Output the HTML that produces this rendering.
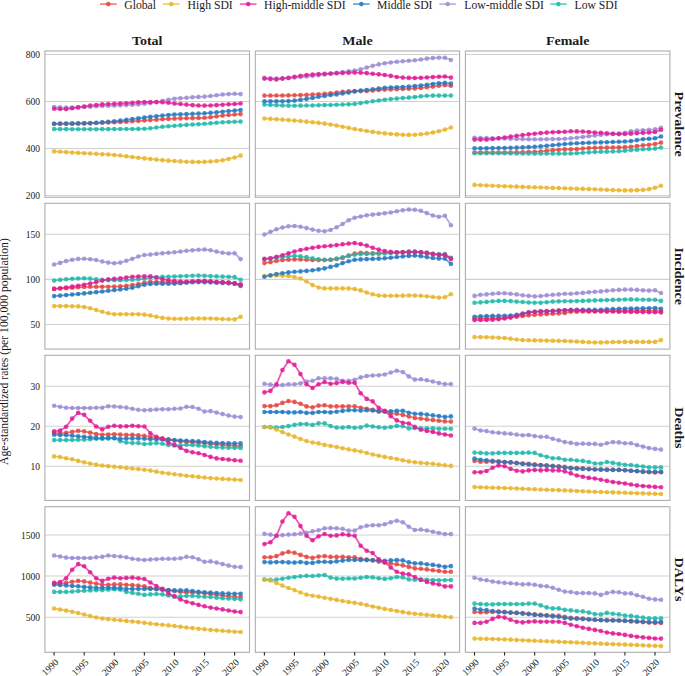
<!DOCTYPE html>
<html><head><meta charset="utf-8"><style>
html,body{margin:0;padding:0;background:#fff;}
body{width:685px;height:676px;overflow:hidden;}
svg{display:block;}
</style></head><body>
<svg width="685" height="676" viewBox="0 0 685 676" font-family='"Liberation Serif", serif'>
<rect width="685" height="676" fill="#fff"/>
<line x1="100.00" y1="4.1" x2="116.60" y2="4.1" stroke="#E8453F" stroke-width="1.6" stroke-opacity="0.72"/>
<circle cx="108.3" cy="4.1" r="2.3" fill="#E8453F" fill-opacity="0.85"/>
<text x="124.2" y="8.7" font-size="11.7" fill="#1a1a1a">Global</text>
<line x1="163.00" y1="4.1" x2="179.60" y2="4.1" stroke="#E8B52A" stroke-width="1.6" stroke-opacity="0.72"/>
<circle cx="171.3" cy="4.1" r="2.3" fill="#E8B52A" fill-opacity="0.85"/>
<text x="187.6" y="8.7" font-size="11.7" fill="#1a1a1a">High SDI</text>
<line x1="239.90" y1="4.1" x2="256.50" y2="4.1" stroke="#E31A95" stroke-width="1.6" stroke-opacity="0.72"/>
<circle cx="248.2" cy="4.1" r="2.3" fill="#E31A95" fill-opacity="0.85"/>
<text x="264.1" y="8.7" font-size="11.7" fill="#1a1a1a">High-middle SDI</text>
<line x1="353.00" y1="4.1" x2="369.60" y2="4.1" stroke="#2279C2" stroke-width="1.6" stroke-opacity="0.72"/>
<circle cx="361.3" cy="4.1" r="2.3" fill="#2279C2" fill-opacity="0.85"/>
<text x="377.0" y="8.7" font-size="11.7" fill="#1a1a1a">Middle SDI</text>
<line x1="439.40" y1="4.1" x2="456.00" y2="4.1" stroke="#9C8CD3" stroke-width="1.6" stroke-opacity="0.72"/>
<circle cx="447.7" cy="4.1" r="2.3" fill="#9C8CD3" fill-opacity="0.85"/>
<text x="464.3" y="8.7" font-size="11.7" fill="#1a1a1a">Low-middle SDI</text>
<line x1="550.10" y1="4.1" x2="566.70" y2="4.1" stroke="#20B9AB" stroke-width="1.6" stroke-opacity="0.72"/>
<circle cx="558.4" cy="4.1" r="2.3" fill="#20B9AB" fill-opacity="0.85"/>
<text x="574.5" y="8.7" font-size="11.7" fill="#1a1a1a">Low SDI</text>
<text x="0" y="0" transform="translate(147.20 45.3) scale(1.07 1)" font-size="13.1" font-weight="bold" text-anchor="middle" fill="#1a1a1a">Total</text>
<text x="0" y="0" transform="translate(357.45 45.3) scale(1.07 1)" font-size="13.1" font-weight="bold" text-anchor="middle" fill="#1a1a1a">Male</text>
<text x="0" y="0" transform="translate(567.65 45.3) scale(1.07 1)" font-size="13.1" font-weight="bold" text-anchor="middle" fill="#1a1a1a">Female</text>
<text x="0" y="0" transform="translate(675.2 124.12) rotate(90) scale(1.07 1)" font-size="13.1" font-weight="bold" text-anchor="middle" fill="#1a1a1a">Prevalence</text>
<text x="0" y="0" transform="translate(675.2 276.20) rotate(90) scale(1.07 1)" font-size="13.1" font-weight="bold" text-anchor="middle" fill="#1a1a1a">Incidence</text>
<text x="0" y="0" transform="translate(675.2 427.88) rotate(90) scale(1.07 1)" font-size="13.1" font-weight="bold" text-anchor="middle" fill="#1a1a1a">Deaths</text>
<text x="0" y="0" transform="translate(675.2 579.50) rotate(90) scale(1.07 1)" font-size="13.1" font-weight="bold" text-anchor="middle" fill="#1a1a1a">DALYs</text>
<text x="0" y="0" transform="translate(8.3 351.6) rotate(-90)" font-size="11.7" text-anchor="middle" fill="#1a1a1a">Age-standardized rates (per 100,000 population)</text>
<text x="0" y="0" transform="translate(40.1 58.05) scale(0.92 1)" font-size="10.4" text-anchor="end" fill="#1a1a1a">800</text>
<text x="0" y="0" transform="translate(40.1 105.00) scale(0.92 1)" font-size="10.4" text-anchor="end" fill="#1a1a1a">600</text>
<text x="0" y="0" transform="translate(40.1 152.00) scale(0.92 1)" font-size="10.4" text-anchor="end" fill="#1a1a1a">400</text>
<text x="0" y="0" transform="translate(40.1 199.05) scale(0.92 1)" font-size="10.4" text-anchor="end" fill="#1a1a1a">200</text>
<line x1="44.90" y1="54.50" x2="249.50" y2="54.50" stroke="#D0D0D0" stroke-width="1.05"/>
<line x1="44.90" y1="101.45" x2="249.50" y2="101.45" stroke="#D0D0D0" stroke-width="1.05"/>
<line x1="44.90" y1="148.45" x2="249.50" y2="148.45" stroke="#D0D0D0" stroke-width="1.05"/>
<line x1="44.90" y1="195.50" x2="249.50" y2="195.50" stroke="#D0D0D0" stroke-width="1.05"/>
<polyline points="54.10,123.70 60.12,123.66 66.13,123.60 72.15,123.51 78.17,123.41 84.19,123.30 90.20,123.16 96.22,122.99 102.24,122.78 108.25,122.55 114.27,122.30 120.29,122.01 126.30,121.67 132.32,121.29 138.34,120.89 144.36,120.50 150.37,120.10 156.39,119.69 162.41,119.27 168.42,118.89 174.44,118.60 180.46,118.42 186.47,118.29 192.49,118.17 198.51,118.02 204.53,117.80 210.54,117.24 216.56,116.37 222.58,115.60 228.59,115.03 234.61,114.53 240.63,114.10" fill="none" stroke="#E8453F" stroke-width="1.8" stroke-opacity="0.72" stroke-linejoin="round"/>
<polyline points="54.10,107.00 60.12,107.42 66.13,107.60 72.15,107.50 78.17,107.27 84.19,107.00 90.20,106.66 96.22,106.30 102.24,106.05 108.25,105.83 114.27,105.60 120.29,105.36 126.30,105.11 132.32,104.80 138.34,104.36 144.36,103.80 150.37,103.10 156.39,102.00 162.41,100.80 168.42,99.80 174.44,98.70 180.46,98.21 186.47,97.80 192.49,97.20 198.51,96.90 204.53,96.60 210.54,96.00 216.56,95.30 222.58,94.50 228.59,94.10 234.61,93.80 240.63,94.10" fill="none" stroke="#9C8CD3" stroke-width="1.8" stroke-opacity="0.72" stroke-linejoin="round"/>
<polyline points="54.10,129.10 60.12,129.14 66.13,129.16 72.15,129.18 78.17,129.20 84.19,129.20 90.20,129.19 96.22,129.18 102.24,129.16 108.25,129.13 114.27,129.10 120.29,129.07 126.30,129.04 132.32,128.98 138.34,128.91 144.36,128.80 150.37,128.30 156.39,127.55 162.41,126.80 168.42,126.27 174.44,125.80 180.46,125.33 186.47,124.90 192.49,124.53 198.51,124.18 204.53,123.80 210.54,123.29 216.56,122.74 222.58,122.30 228.59,122.00 234.61,121.76 240.63,121.60" fill="none" stroke="#20B9AB" stroke-width="1.8" stroke-opacity="0.72" stroke-linejoin="round"/>
<polyline points="54.10,151.40 60.12,151.76 66.13,152.12 72.15,152.48 78.17,152.84 84.19,153.20 90.20,153.54 96.22,153.87 102.24,154.20 108.25,154.57 114.27,155.00 120.29,155.56 126.30,156.25 132.32,157.00 138.34,157.74 144.36,158.40 150.37,159.01 156.39,159.61 162.41,160.17 168.42,160.66 174.44,161.05 180.46,161.38 186.47,161.69 192.49,161.91 198.51,162.00 204.53,161.87 210.54,161.52 216.56,161.05 222.58,160.22 228.59,159.00 234.61,157.49 240.63,155.60" fill="none" stroke="#E8B52A" stroke-width="1.8" stroke-opacity="0.72" stroke-linejoin="round"/>
<polyline points="54.10,123.80 60.12,123.78 66.13,123.72 72.15,123.64 78.17,123.53 84.19,123.40 90.20,123.18 96.22,122.82 102.24,122.36 108.25,121.84 114.27,121.30 120.29,120.67 126.30,119.92 132.32,119.10 138.34,118.27 144.36,117.50 150.37,116.80 156.39,116.18 162.41,115.60 168.42,114.98 174.44,114.50 180.46,114.28 186.47,114.10 192.49,113.86 198.51,113.60 204.53,113.30 210.54,112.85 216.56,112.30 222.58,111.71 228.59,111.10 234.61,110.54 240.63,110.00" fill="none" stroke="#2279C2" stroke-width="1.8" stroke-opacity="0.72" stroke-linejoin="round"/>
<polyline points="54.10,108.80 60.12,109.06 66.13,109.10 72.15,108.30 78.17,107.40 84.19,106.50 90.20,105.60 96.22,105.00 102.24,104.40 108.25,104.07 114.27,103.80 120.29,103.52 126.30,103.20 132.32,102.75 138.34,102.30 144.36,102.00 150.37,102.00 156.39,102.09 162.41,102.30 168.42,102.82 174.44,103.50 180.46,104.07 186.47,104.60 192.49,105.14 198.51,105.50 204.53,105.60 210.54,105.50 216.56,105.16 222.58,104.70 228.59,104.36 234.61,104.00 240.63,103.50" fill="none" stroke="#E31A95" stroke-width="1.8" stroke-opacity="0.72" stroke-linejoin="round"/>
<g fill="#E8453F" fill-opacity="0.85"><circle cx="54.10" cy="123.70" r="2.3"/><circle cx="60.12" cy="123.66" r="2.3"/><circle cx="66.13" cy="123.60" r="2.3"/><circle cx="72.15" cy="123.51" r="2.3"/><circle cx="78.17" cy="123.41" r="2.3"/><circle cx="84.19" cy="123.30" r="2.3"/><circle cx="90.20" cy="123.16" r="2.3"/><circle cx="96.22" cy="122.99" r="2.3"/><circle cx="102.24" cy="122.78" r="2.3"/><circle cx="108.25" cy="122.55" r="2.3"/><circle cx="114.27" cy="122.30" r="2.3"/><circle cx="120.29" cy="122.01" r="2.3"/><circle cx="126.30" cy="121.67" r="2.3"/><circle cx="132.32" cy="121.29" r="2.3"/><circle cx="138.34" cy="120.89" r="2.3"/><circle cx="144.36" cy="120.50" r="2.3"/><circle cx="150.37" cy="120.10" r="2.3"/><circle cx="156.39" cy="119.69" r="2.3"/><circle cx="162.41" cy="119.27" r="2.3"/><circle cx="168.42" cy="118.89" r="2.3"/><circle cx="174.44" cy="118.60" r="2.3"/><circle cx="180.46" cy="118.42" r="2.3"/><circle cx="186.47" cy="118.29" r="2.3"/><circle cx="192.49" cy="118.17" r="2.3"/><circle cx="198.51" cy="118.02" r="2.3"/><circle cx="204.53" cy="117.80" r="2.3"/><circle cx="210.54" cy="117.24" r="2.3"/><circle cx="216.56" cy="116.37" r="2.3"/><circle cx="222.58" cy="115.60" r="2.3"/><circle cx="228.59" cy="115.03" r="2.3"/><circle cx="234.61" cy="114.53" r="2.3"/><circle cx="240.63" cy="114.10" r="2.3"/></g>
<g fill="#9C8CD3" fill-opacity="0.85"><circle cx="54.10" cy="107.00" r="2.3"/><circle cx="60.12" cy="107.42" r="2.3"/><circle cx="66.13" cy="107.60" r="2.3"/><circle cx="72.15" cy="107.50" r="2.3"/><circle cx="78.17" cy="107.27" r="2.3"/><circle cx="84.19" cy="107.00" r="2.3"/><circle cx="90.20" cy="106.66" r="2.3"/><circle cx="96.22" cy="106.30" r="2.3"/><circle cx="102.24" cy="106.05" r="2.3"/><circle cx="108.25" cy="105.83" r="2.3"/><circle cx="114.27" cy="105.60" r="2.3"/><circle cx="120.29" cy="105.36" r="2.3"/><circle cx="126.30" cy="105.11" r="2.3"/><circle cx="132.32" cy="104.80" r="2.3"/><circle cx="138.34" cy="104.36" r="2.3"/><circle cx="144.36" cy="103.80" r="2.3"/><circle cx="150.37" cy="103.10" r="2.3"/><circle cx="156.39" cy="102.00" r="2.3"/><circle cx="162.41" cy="100.80" r="2.3"/><circle cx="168.42" cy="99.80" r="2.3"/><circle cx="174.44" cy="98.70" r="2.3"/><circle cx="180.46" cy="98.21" r="2.3"/><circle cx="186.47" cy="97.80" r="2.3"/><circle cx="192.49" cy="97.20" r="2.3"/><circle cx="198.51" cy="96.90" r="2.3"/><circle cx="204.53" cy="96.60" r="2.3"/><circle cx="210.54" cy="96.00" r="2.3"/><circle cx="216.56" cy="95.30" r="2.3"/><circle cx="222.58" cy="94.50" r="2.3"/><circle cx="228.59" cy="94.10" r="2.3"/><circle cx="234.61" cy="93.80" r="2.3"/><circle cx="240.63" cy="94.10" r="2.3"/></g>
<g fill="#20B9AB" fill-opacity="0.85"><circle cx="54.10" cy="129.10" r="2.3"/><circle cx="60.12" cy="129.14" r="2.3"/><circle cx="66.13" cy="129.16" r="2.3"/><circle cx="72.15" cy="129.18" r="2.3"/><circle cx="78.17" cy="129.20" r="2.3"/><circle cx="84.19" cy="129.20" r="2.3"/><circle cx="90.20" cy="129.19" r="2.3"/><circle cx="96.22" cy="129.18" r="2.3"/><circle cx="102.24" cy="129.16" r="2.3"/><circle cx="108.25" cy="129.13" r="2.3"/><circle cx="114.27" cy="129.10" r="2.3"/><circle cx="120.29" cy="129.07" r="2.3"/><circle cx="126.30" cy="129.04" r="2.3"/><circle cx="132.32" cy="128.98" r="2.3"/><circle cx="138.34" cy="128.91" r="2.3"/><circle cx="144.36" cy="128.80" r="2.3"/><circle cx="150.37" cy="128.30" r="2.3"/><circle cx="156.39" cy="127.55" r="2.3"/><circle cx="162.41" cy="126.80" r="2.3"/><circle cx="168.42" cy="126.27" r="2.3"/><circle cx="174.44" cy="125.80" r="2.3"/><circle cx="180.46" cy="125.33" r="2.3"/><circle cx="186.47" cy="124.90" r="2.3"/><circle cx="192.49" cy="124.53" r="2.3"/><circle cx="198.51" cy="124.18" r="2.3"/><circle cx="204.53" cy="123.80" r="2.3"/><circle cx="210.54" cy="123.29" r="2.3"/><circle cx="216.56" cy="122.74" r="2.3"/><circle cx="222.58" cy="122.30" r="2.3"/><circle cx="228.59" cy="122.00" r="2.3"/><circle cx="234.61" cy="121.76" r="2.3"/><circle cx="240.63" cy="121.60" r="2.3"/></g>
<g fill="#E8B52A" fill-opacity="0.85"><circle cx="54.10" cy="151.40" r="2.3"/><circle cx="60.12" cy="151.76" r="2.3"/><circle cx="66.13" cy="152.12" r="2.3"/><circle cx="72.15" cy="152.48" r="2.3"/><circle cx="78.17" cy="152.84" r="2.3"/><circle cx="84.19" cy="153.20" r="2.3"/><circle cx="90.20" cy="153.54" r="2.3"/><circle cx="96.22" cy="153.87" r="2.3"/><circle cx="102.24" cy="154.20" r="2.3"/><circle cx="108.25" cy="154.57" r="2.3"/><circle cx="114.27" cy="155.00" r="2.3"/><circle cx="120.29" cy="155.56" r="2.3"/><circle cx="126.30" cy="156.25" r="2.3"/><circle cx="132.32" cy="157.00" r="2.3"/><circle cx="138.34" cy="157.74" r="2.3"/><circle cx="144.36" cy="158.40" r="2.3"/><circle cx="150.37" cy="159.01" r="2.3"/><circle cx="156.39" cy="159.61" r="2.3"/><circle cx="162.41" cy="160.17" r="2.3"/><circle cx="168.42" cy="160.66" r="2.3"/><circle cx="174.44" cy="161.05" r="2.3"/><circle cx="180.46" cy="161.38" r="2.3"/><circle cx="186.47" cy="161.69" r="2.3"/><circle cx="192.49" cy="161.91" r="2.3"/><circle cx="198.51" cy="162.00" r="2.3"/><circle cx="204.53" cy="161.87" r="2.3"/><circle cx="210.54" cy="161.52" r="2.3"/><circle cx="216.56" cy="161.05" r="2.3"/><circle cx="222.58" cy="160.22" r="2.3"/><circle cx="228.59" cy="159.00" r="2.3"/><circle cx="234.61" cy="157.49" r="2.3"/><circle cx="240.63" cy="155.60" r="2.3"/></g>
<g fill="#2279C2" fill-opacity="0.85"><circle cx="54.10" cy="123.80" r="2.3"/><circle cx="60.12" cy="123.78" r="2.3"/><circle cx="66.13" cy="123.72" r="2.3"/><circle cx="72.15" cy="123.64" r="2.3"/><circle cx="78.17" cy="123.53" r="2.3"/><circle cx="84.19" cy="123.40" r="2.3"/><circle cx="90.20" cy="123.18" r="2.3"/><circle cx="96.22" cy="122.82" r="2.3"/><circle cx="102.24" cy="122.36" r="2.3"/><circle cx="108.25" cy="121.84" r="2.3"/><circle cx="114.27" cy="121.30" r="2.3"/><circle cx="120.29" cy="120.67" r="2.3"/><circle cx="126.30" cy="119.92" r="2.3"/><circle cx="132.32" cy="119.10" r="2.3"/><circle cx="138.34" cy="118.27" r="2.3"/><circle cx="144.36" cy="117.50" r="2.3"/><circle cx="150.37" cy="116.80" r="2.3"/><circle cx="156.39" cy="116.18" r="2.3"/><circle cx="162.41" cy="115.60" r="2.3"/><circle cx="168.42" cy="114.98" r="2.3"/><circle cx="174.44" cy="114.50" r="2.3"/><circle cx="180.46" cy="114.28" r="2.3"/><circle cx="186.47" cy="114.10" r="2.3"/><circle cx="192.49" cy="113.86" r="2.3"/><circle cx="198.51" cy="113.60" r="2.3"/><circle cx="204.53" cy="113.30" r="2.3"/><circle cx="210.54" cy="112.85" r="2.3"/><circle cx="216.56" cy="112.30" r="2.3"/><circle cx="222.58" cy="111.71" r="2.3"/><circle cx="228.59" cy="111.10" r="2.3"/><circle cx="234.61" cy="110.54" r="2.3"/><circle cx="240.63" cy="110.00" r="2.3"/></g>
<g fill="#E31A95" fill-opacity="0.85"><circle cx="54.10" cy="108.80" r="2.3"/><circle cx="60.12" cy="109.06" r="2.3"/><circle cx="66.13" cy="109.10" r="2.3"/><circle cx="72.15" cy="108.30" r="2.3"/><circle cx="78.17" cy="107.40" r="2.3"/><circle cx="84.19" cy="106.50" r="2.3"/><circle cx="90.20" cy="105.60" r="2.3"/><circle cx="96.22" cy="105.00" r="2.3"/><circle cx="102.24" cy="104.40" r="2.3"/><circle cx="108.25" cy="104.07" r="2.3"/><circle cx="114.27" cy="103.80" r="2.3"/><circle cx="120.29" cy="103.52" r="2.3"/><circle cx="126.30" cy="103.20" r="2.3"/><circle cx="132.32" cy="102.75" r="2.3"/><circle cx="138.34" cy="102.30" r="2.3"/><circle cx="144.36" cy="102.00" r="2.3"/><circle cx="150.37" cy="102.00" r="2.3"/><circle cx="156.39" cy="102.09" r="2.3"/><circle cx="162.41" cy="102.30" r="2.3"/><circle cx="168.42" cy="102.82" r="2.3"/><circle cx="174.44" cy="103.50" r="2.3"/><circle cx="180.46" cy="104.07" r="2.3"/><circle cx="186.47" cy="104.60" r="2.3"/><circle cx="192.49" cy="105.14" r="2.3"/><circle cx="198.51" cy="105.50" r="2.3"/><circle cx="204.53" cy="105.60" r="2.3"/><circle cx="210.54" cy="105.50" r="2.3"/><circle cx="216.56" cy="105.16" r="2.3"/><circle cx="222.58" cy="104.70" r="2.3"/><circle cx="228.59" cy="104.36" r="2.3"/><circle cx="234.61" cy="104.00" r="2.3"/><circle cx="240.63" cy="103.50" r="2.3"/></g>
<rect x="44.90" y="51.00" width="204.60" height="146.25" fill="none" stroke="#ADADAD" stroke-width="1.1"/>
<line x1="255.30" y1="54.50" x2="459.60" y2="54.50" stroke="#D0D0D0" stroke-width="1.05"/>
<line x1="255.30" y1="101.45" x2="459.60" y2="101.45" stroke="#D0D0D0" stroke-width="1.05"/>
<line x1="255.30" y1="148.45" x2="459.60" y2="148.45" stroke="#D0D0D0" stroke-width="1.05"/>
<line x1="255.30" y1="195.50" x2="459.60" y2="195.50" stroke="#D0D0D0" stroke-width="1.05"/>
<polyline points="264.40,95.60 270.42,95.58 276.43,95.54 282.45,95.48 288.47,95.40 294.48,95.30 300.50,95.14 306.52,94.89 312.54,94.56 318.55,94.19 324.57,93.80 330.59,93.27 336.60,92.57 342.62,91.87 348.64,91.32 354.65,91.10 360.67,91.10 366.69,90.91 372.71,90.48 378.72,89.98 384.74,89.60 390.76,89.38 396.77,89.22 402.79,89.04 408.81,88.80 414.82,88.41 420.84,87.88 426.86,87.25 432.88,86.60 438.89,85.69 444.91,85.10 450.93,85.80" fill="none" stroke="#E8453F" stroke-width="1.8" stroke-opacity="0.72" stroke-linejoin="round"/>
<polyline points="264.40,77.90 270.42,78.34 276.43,78.50 282.45,78.33 288.47,77.95 294.48,77.50 300.50,77.03 306.52,76.48 312.54,75.86 318.55,75.20 324.57,74.50 330.59,73.71 336.60,72.84 342.62,72.00 348.64,71.29 354.65,70.50 360.67,69.30 366.69,67.57 372.71,65.80 378.72,64.42 384.74,63.30 390.76,62.47 396.77,61.80 402.79,61.28 408.81,60.82 414.82,60.30 420.84,59.52 426.86,58.64 432.88,58.00 438.89,57.70 444.91,57.70 450.93,60.00" fill="none" stroke="#9C8CD3" stroke-width="1.8" stroke-opacity="0.72" stroke-linejoin="round"/>
<polyline points="264.40,104.60 270.42,104.96 276.43,105.27 282.45,105.50 288.47,105.65 294.48,105.70 300.50,105.66 306.52,105.57 312.54,105.43 318.55,105.26 324.57,105.10 330.59,104.94 336.60,104.76 342.62,104.55 348.64,104.27 354.65,103.90 360.67,103.10 366.69,102.23 372.71,101.31 378.72,100.44 384.74,99.70 390.76,99.10 396.77,98.58 402.79,98.09 408.81,97.60 414.82,97.00 420.84,96.34 426.86,95.82 432.88,95.60 438.89,95.60 444.91,95.60 450.93,95.60" fill="none" stroke="#20B9AB" stroke-width="1.8" stroke-opacity="0.72" stroke-linejoin="round"/>
<polyline points="264.40,118.50 270.42,118.85 276.43,119.24 282.45,119.66 288.47,120.12 294.48,120.60 300.50,121.10 306.52,121.64 312.54,122.23 318.55,122.87 324.57,123.60 330.59,124.49 336.60,125.57 342.62,126.74 348.64,127.91 354.65,129.00 360.67,130.02 366.69,131.00 372.71,131.90 378.72,132.73 384.74,133.40 390.76,133.93 396.77,134.41 402.79,134.76 408.81,134.90 414.82,134.71 420.84,134.30 426.86,133.57 432.88,132.50 438.89,131.21 444.91,129.60 450.93,127.50" fill="none" stroke="#E8B52A" stroke-width="1.8" stroke-opacity="0.72" stroke-linejoin="round"/>
<polyline points="264.40,101.30 270.42,101.29 276.43,101.25 282.45,101.20 288.47,101.00 294.48,100.60 300.50,99.80 306.52,98.90 312.54,98.00 318.55,96.80 324.57,95.90 330.59,95.00 336.60,94.40 342.62,93.50 348.64,92.60 354.65,91.40 360.67,90.60 366.69,89.94 372.71,89.30 378.72,88.49 384.74,87.80 390.76,87.44 396.77,87.18 402.79,86.93 408.81,86.60 414.82,86.09 420.84,85.46 426.86,84.80 432.88,84.00 438.89,83.18 444.91,82.80 450.93,83.60" fill="none" stroke="#2279C2" stroke-width="1.8" stroke-opacity="0.72" stroke-linejoin="round"/>
<polyline points="264.40,78.60 270.42,79.10 276.43,79.40 282.45,78.60 288.47,77.90 294.48,76.80 300.50,75.80 306.52,75.00 312.54,74.50 318.55,74.10 324.57,73.80 330.59,73.50 336.60,73.30 342.62,73.00 348.64,72.70 354.65,72.60 360.67,72.70 366.69,73.15 372.71,73.80 378.72,74.37 384.74,75.00 390.76,75.92 396.77,76.94 402.79,77.60 408.81,77.88 414.82,78.00 420.84,77.83 426.86,77.47 432.88,77.10 438.89,76.73 444.91,76.50 450.93,77.60" fill="none" stroke="#E31A95" stroke-width="1.8" stroke-opacity="0.72" stroke-linejoin="round"/>
<g fill="#E8453F" fill-opacity="0.85"><circle cx="264.40" cy="95.60" r="2.3"/><circle cx="270.42" cy="95.58" r="2.3"/><circle cx="276.43" cy="95.54" r="2.3"/><circle cx="282.45" cy="95.48" r="2.3"/><circle cx="288.47" cy="95.40" r="2.3"/><circle cx="294.48" cy="95.30" r="2.3"/><circle cx="300.50" cy="95.14" r="2.3"/><circle cx="306.52" cy="94.89" r="2.3"/><circle cx="312.54" cy="94.56" r="2.3"/><circle cx="318.55" cy="94.19" r="2.3"/><circle cx="324.57" cy="93.80" r="2.3"/><circle cx="330.59" cy="93.27" r="2.3"/><circle cx="336.60" cy="92.57" r="2.3"/><circle cx="342.62" cy="91.87" r="2.3"/><circle cx="348.64" cy="91.32" r="2.3"/><circle cx="354.65" cy="91.10" r="2.3"/><circle cx="360.67" cy="91.10" r="2.3"/><circle cx="366.69" cy="90.91" r="2.3"/><circle cx="372.71" cy="90.48" r="2.3"/><circle cx="378.72" cy="89.98" r="2.3"/><circle cx="384.74" cy="89.60" r="2.3"/><circle cx="390.76" cy="89.38" r="2.3"/><circle cx="396.77" cy="89.22" r="2.3"/><circle cx="402.79" cy="89.04" r="2.3"/><circle cx="408.81" cy="88.80" r="2.3"/><circle cx="414.82" cy="88.41" r="2.3"/><circle cx="420.84" cy="87.88" r="2.3"/><circle cx="426.86" cy="87.25" r="2.3"/><circle cx="432.88" cy="86.60" r="2.3"/><circle cx="438.89" cy="85.69" r="2.3"/><circle cx="444.91" cy="85.10" r="2.3"/><circle cx="450.93" cy="85.80" r="2.3"/></g>
<g fill="#9C8CD3" fill-opacity="0.85"><circle cx="264.40" cy="77.90" r="2.3"/><circle cx="270.42" cy="78.34" r="2.3"/><circle cx="276.43" cy="78.50" r="2.3"/><circle cx="282.45" cy="78.33" r="2.3"/><circle cx="288.47" cy="77.95" r="2.3"/><circle cx="294.48" cy="77.50" r="2.3"/><circle cx="300.50" cy="77.03" r="2.3"/><circle cx="306.52" cy="76.48" r="2.3"/><circle cx="312.54" cy="75.86" r="2.3"/><circle cx="318.55" cy="75.20" r="2.3"/><circle cx="324.57" cy="74.50" r="2.3"/><circle cx="330.59" cy="73.71" r="2.3"/><circle cx="336.60" cy="72.84" r="2.3"/><circle cx="342.62" cy="72.00" r="2.3"/><circle cx="348.64" cy="71.29" r="2.3"/><circle cx="354.65" cy="70.50" r="2.3"/><circle cx="360.67" cy="69.30" r="2.3"/><circle cx="366.69" cy="67.57" r="2.3"/><circle cx="372.71" cy="65.80" r="2.3"/><circle cx="378.72" cy="64.42" r="2.3"/><circle cx="384.74" cy="63.30" r="2.3"/><circle cx="390.76" cy="62.47" r="2.3"/><circle cx="396.77" cy="61.80" r="2.3"/><circle cx="402.79" cy="61.28" r="2.3"/><circle cx="408.81" cy="60.82" r="2.3"/><circle cx="414.82" cy="60.30" r="2.3"/><circle cx="420.84" cy="59.52" r="2.3"/><circle cx="426.86" cy="58.64" r="2.3"/><circle cx="432.88" cy="58.00" r="2.3"/><circle cx="438.89" cy="57.70" r="2.3"/><circle cx="444.91" cy="57.70" r="2.3"/><circle cx="450.93" cy="60.00" r="2.3"/></g>
<g fill="#20B9AB" fill-opacity="0.85"><circle cx="264.40" cy="104.60" r="2.3"/><circle cx="270.42" cy="104.96" r="2.3"/><circle cx="276.43" cy="105.27" r="2.3"/><circle cx="282.45" cy="105.50" r="2.3"/><circle cx="288.47" cy="105.65" r="2.3"/><circle cx="294.48" cy="105.70" r="2.3"/><circle cx="300.50" cy="105.66" r="2.3"/><circle cx="306.52" cy="105.57" r="2.3"/><circle cx="312.54" cy="105.43" r="2.3"/><circle cx="318.55" cy="105.26" r="2.3"/><circle cx="324.57" cy="105.10" r="2.3"/><circle cx="330.59" cy="104.94" r="2.3"/><circle cx="336.60" cy="104.76" r="2.3"/><circle cx="342.62" cy="104.55" r="2.3"/><circle cx="348.64" cy="104.27" r="2.3"/><circle cx="354.65" cy="103.90" r="2.3"/><circle cx="360.67" cy="103.10" r="2.3"/><circle cx="366.69" cy="102.23" r="2.3"/><circle cx="372.71" cy="101.31" r="2.3"/><circle cx="378.72" cy="100.44" r="2.3"/><circle cx="384.74" cy="99.70" r="2.3"/><circle cx="390.76" cy="99.10" r="2.3"/><circle cx="396.77" cy="98.58" r="2.3"/><circle cx="402.79" cy="98.09" r="2.3"/><circle cx="408.81" cy="97.60" r="2.3"/><circle cx="414.82" cy="97.00" r="2.3"/><circle cx="420.84" cy="96.34" r="2.3"/><circle cx="426.86" cy="95.82" r="2.3"/><circle cx="432.88" cy="95.60" r="2.3"/><circle cx="438.89" cy="95.60" r="2.3"/><circle cx="444.91" cy="95.60" r="2.3"/><circle cx="450.93" cy="95.60" r="2.3"/></g>
<g fill="#E8B52A" fill-opacity="0.85"><circle cx="264.40" cy="118.50" r="2.3"/><circle cx="270.42" cy="118.85" r="2.3"/><circle cx="276.43" cy="119.24" r="2.3"/><circle cx="282.45" cy="119.66" r="2.3"/><circle cx="288.47" cy="120.12" r="2.3"/><circle cx="294.48" cy="120.60" r="2.3"/><circle cx="300.50" cy="121.10" r="2.3"/><circle cx="306.52" cy="121.64" r="2.3"/><circle cx="312.54" cy="122.23" r="2.3"/><circle cx="318.55" cy="122.87" r="2.3"/><circle cx="324.57" cy="123.60" r="2.3"/><circle cx="330.59" cy="124.49" r="2.3"/><circle cx="336.60" cy="125.57" r="2.3"/><circle cx="342.62" cy="126.74" r="2.3"/><circle cx="348.64" cy="127.91" r="2.3"/><circle cx="354.65" cy="129.00" r="2.3"/><circle cx="360.67" cy="130.02" r="2.3"/><circle cx="366.69" cy="131.00" r="2.3"/><circle cx="372.71" cy="131.90" r="2.3"/><circle cx="378.72" cy="132.73" r="2.3"/><circle cx="384.74" cy="133.40" r="2.3"/><circle cx="390.76" cy="133.93" r="2.3"/><circle cx="396.77" cy="134.41" r="2.3"/><circle cx="402.79" cy="134.76" r="2.3"/><circle cx="408.81" cy="134.90" r="2.3"/><circle cx="414.82" cy="134.71" r="2.3"/><circle cx="420.84" cy="134.30" r="2.3"/><circle cx="426.86" cy="133.57" r="2.3"/><circle cx="432.88" cy="132.50" r="2.3"/><circle cx="438.89" cy="131.21" r="2.3"/><circle cx="444.91" cy="129.60" r="2.3"/><circle cx="450.93" cy="127.50" r="2.3"/></g>
<g fill="#2279C2" fill-opacity="0.85"><circle cx="264.40" cy="101.30" r="2.3"/><circle cx="270.42" cy="101.29" r="2.3"/><circle cx="276.43" cy="101.25" r="2.3"/><circle cx="282.45" cy="101.20" r="2.3"/><circle cx="288.47" cy="101.00" r="2.3"/><circle cx="294.48" cy="100.60" r="2.3"/><circle cx="300.50" cy="99.80" r="2.3"/><circle cx="306.52" cy="98.90" r="2.3"/><circle cx="312.54" cy="98.00" r="2.3"/><circle cx="318.55" cy="96.80" r="2.3"/><circle cx="324.57" cy="95.90" r="2.3"/><circle cx="330.59" cy="95.00" r="2.3"/><circle cx="336.60" cy="94.40" r="2.3"/><circle cx="342.62" cy="93.50" r="2.3"/><circle cx="348.64" cy="92.60" r="2.3"/><circle cx="354.65" cy="91.40" r="2.3"/><circle cx="360.67" cy="90.60" r="2.3"/><circle cx="366.69" cy="89.94" r="2.3"/><circle cx="372.71" cy="89.30" r="2.3"/><circle cx="378.72" cy="88.49" r="2.3"/><circle cx="384.74" cy="87.80" r="2.3"/><circle cx="390.76" cy="87.44" r="2.3"/><circle cx="396.77" cy="87.18" r="2.3"/><circle cx="402.79" cy="86.93" r="2.3"/><circle cx="408.81" cy="86.60" r="2.3"/><circle cx="414.82" cy="86.09" r="2.3"/><circle cx="420.84" cy="85.46" r="2.3"/><circle cx="426.86" cy="84.80" r="2.3"/><circle cx="432.88" cy="84.00" r="2.3"/><circle cx="438.89" cy="83.18" r="2.3"/><circle cx="444.91" cy="82.80" r="2.3"/><circle cx="450.93" cy="83.60" r="2.3"/></g>
<g fill="#E31A95" fill-opacity="0.85"><circle cx="264.40" cy="78.60" r="2.3"/><circle cx="270.42" cy="79.10" r="2.3"/><circle cx="276.43" cy="79.40" r="2.3"/><circle cx="282.45" cy="78.60" r="2.3"/><circle cx="288.47" cy="77.90" r="2.3"/><circle cx="294.48" cy="76.80" r="2.3"/><circle cx="300.50" cy="75.80" r="2.3"/><circle cx="306.52" cy="75.00" r="2.3"/><circle cx="312.54" cy="74.50" r="2.3"/><circle cx="318.55" cy="74.10" r="2.3"/><circle cx="324.57" cy="73.80" r="2.3"/><circle cx="330.59" cy="73.50" r="2.3"/><circle cx="336.60" cy="73.30" r="2.3"/><circle cx="342.62" cy="73.00" r="2.3"/><circle cx="348.64" cy="72.70" r="2.3"/><circle cx="354.65" cy="72.60" r="2.3"/><circle cx="360.67" cy="72.70" r="2.3"/><circle cx="366.69" cy="73.15" r="2.3"/><circle cx="372.71" cy="73.80" r="2.3"/><circle cx="378.72" cy="74.37" r="2.3"/><circle cx="384.74" cy="75.00" r="2.3"/><circle cx="390.76" cy="75.92" r="2.3"/><circle cx="396.77" cy="76.94" r="2.3"/><circle cx="402.79" cy="77.60" r="2.3"/><circle cx="408.81" cy="77.88" r="2.3"/><circle cx="414.82" cy="78.00" r="2.3"/><circle cx="420.84" cy="77.83" r="2.3"/><circle cx="426.86" cy="77.47" r="2.3"/><circle cx="432.88" cy="77.10" r="2.3"/><circle cx="438.89" cy="76.73" r="2.3"/><circle cx="444.91" cy="76.50" r="2.3"/><circle cx="450.93" cy="77.60" r="2.3"/></g>
<rect x="255.30" y="51.00" width="204.30" height="146.25" fill="none" stroke="#ADADAD" stroke-width="1.1"/>
<line x1="465.40" y1="54.50" x2="669.90" y2="54.50" stroke="#D0D0D0" stroke-width="1.05"/>
<line x1="465.40" y1="101.45" x2="669.90" y2="101.45" stroke="#D0D0D0" stroke-width="1.05"/>
<line x1="465.40" y1="148.45" x2="669.90" y2="148.45" stroke="#D0D0D0" stroke-width="1.05"/>
<line x1="465.40" y1="195.50" x2="669.90" y2="195.50" stroke="#D0D0D0" stroke-width="1.05"/>
<polyline points="474.50,152.50 480.52,152.50 486.53,152.50 492.55,152.50 498.57,152.50 504.58,152.50 510.60,152.46 516.62,152.36 522.64,152.20 528.65,152.01 534.67,151.80 540.69,151.43 546.70,150.87 552.72,150.24 558.74,149.71 564.75,149.40 570.77,149.30 576.79,149.02 582.81,148.56 588.82,148.10 594.84,147.80 600.86,147.68 606.87,147.60 612.89,147.52 618.91,147.40 624.92,147.17 630.94,146.80 636.96,146.11 642.98,145.30 648.99,144.76 655.01,144.10 661.03,142.60" fill="none" stroke="#E8453F" stroke-width="1.8" stroke-opacity="0.72" stroke-linejoin="round"/>
<polyline points="474.50,137.80 480.52,137.93 486.53,138.07 492.55,138.21 498.57,138.35 504.58,138.50 510.60,138.68 516.62,138.89 522.64,139.09 528.65,139.24 534.67,139.30 540.69,139.28 546.70,139.22 552.72,139.12 558.74,138.98 564.75,138.80 570.77,138.30 576.79,137.68 582.81,137.00 588.82,136.24 594.84,135.50 600.86,134.85 606.87,134.30 612.89,133.91 618.91,133.50 624.92,132.80 630.94,131.30 636.96,130.66 642.98,130.20 648.99,129.81 655.01,129.30 661.03,127.80" fill="none" stroke="#9C8CD3" stroke-width="1.8" stroke-opacity="0.72" stroke-linejoin="round"/>
<polyline points="474.50,153.30 480.52,153.30 486.53,153.30 492.55,153.30 498.57,153.30 504.58,153.30 510.60,153.33 516.62,153.41 522.64,153.49 528.65,153.57 534.67,153.60 540.69,153.60 546.70,153.60 552.72,153.60 558.74,153.60 564.75,153.60 570.77,153.50 576.79,153.23 582.81,152.80 588.82,152.34 594.84,152.00 600.86,151.81 606.87,151.67 612.89,151.53 618.91,151.30 624.92,150.75 630.94,150.10 636.96,149.67 642.98,149.30 648.99,149.00 655.01,148.60 661.03,147.50" fill="none" stroke="#20B9AB" stroke-width="1.8" stroke-opacity="0.72" stroke-linejoin="round"/>
<polyline points="474.50,184.90 480.52,185.18 486.53,185.44 492.55,185.71 498.57,185.96 504.58,186.20 510.60,186.43 516.62,186.66 522.64,186.88 528.65,187.09 534.67,187.30 540.69,187.51 546.70,187.71 552.72,187.90 558.74,188.10 564.75,188.30 570.77,188.50 576.79,188.70 582.81,188.89 588.82,189.09 594.84,189.30 600.86,189.55 606.87,189.84 612.89,190.11 618.91,190.32 624.92,190.40 630.94,190.34 636.96,190.16 642.98,189.90 648.99,189.14 655.01,187.80 661.03,185.70" fill="none" stroke="#E8B52A" stroke-width="1.8" stroke-opacity="0.72" stroke-linejoin="round"/>
<polyline points="474.50,148.30 480.52,148.28 486.53,148.24 492.55,148.17 498.57,148.09 504.58,148.00 510.60,147.87 516.62,147.67 522.64,147.42 528.65,147.12 534.67,146.80 540.69,146.39 546.70,145.86 552.72,145.26 558.74,144.66 564.75,144.10 570.77,143.60 576.79,143.28 582.81,143.03 588.82,142.81 594.84,142.60 600.86,142.40 606.87,142.22 612.89,142.03 618.91,141.80 624.92,141.51 630.94,141.10 636.96,140.17 642.98,139.20 648.99,138.79 655.01,138.30 661.03,136.50" fill="none" stroke="#2279C2" stroke-width="1.8" stroke-opacity="0.72" stroke-linejoin="round"/>
<polyline points="474.50,139.60 480.52,139.60 486.53,139.60 492.55,139.00 498.57,138.28 504.58,137.50 510.60,136.64 516.62,135.80 522.64,135.04 528.65,134.33 534.67,133.70 540.69,133.11 546.70,132.58 552.72,132.20 558.74,132.01 564.75,131.80 570.77,131.30 576.79,131.39 582.81,131.60 588.82,132.01 594.84,132.50 600.86,132.85 606.87,133.20 612.89,133.75 618.91,134.10 624.92,134.00 630.94,133.66 636.96,133.20 642.98,132.86 648.99,132.50 655.01,132.00 661.03,129.80" fill="none" stroke="#E31A95" stroke-width="1.8" stroke-opacity="0.72" stroke-linejoin="round"/>
<g fill="#E8453F" fill-opacity="0.85"><circle cx="474.50" cy="152.50" r="2.3"/><circle cx="480.52" cy="152.50" r="2.3"/><circle cx="486.53" cy="152.50" r="2.3"/><circle cx="492.55" cy="152.50" r="2.3"/><circle cx="498.57" cy="152.50" r="2.3"/><circle cx="504.58" cy="152.50" r="2.3"/><circle cx="510.60" cy="152.46" r="2.3"/><circle cx="516.62" cy="152.36" r="2.3"/><circle cx="522.64" cy="152.20" r="2.3"/><circle cx="528.65" cy="152.01" r="2.3"/><circle cx="534.67" cy="151.80" r="2.3"/><circle cx="540.69" cy="151.43" r="2.3"/><circle cx="546.70" cy="150.87" r="2.3"/><circle cx="552.72" cy="150.24" r="2.3"/><circle cx="558.74" cy="149.71" r="2.3"/><circle cx="564.75" cy="149.40" r="2.3"/><circle cx="570.77" cy="149.30" r="2.3"/><circle cx="576.79" cy="149.02" r="2.3"/><circle cx="582.81" cy="148.56" r="2.3"/><circle cx="588.82" cy="148.10" r="2.3"/><circle cx="594.84" cy="147.80" r="2.3"/><circle cx="600.86" cy="147.68" r="2.3"/><circle cx="606.87" cy="147.60" r="2.3"/><circle cx="612.89" cy="147.52" r="2.3"/><circle cx="618.91" cy="147.40" r="2.3"/><circle cx="624.92" cy="147.17" r="2.3"/><circle cx="630.94" cy="146.80" r="2.3"/><circle cx="636.96" cy="146.11" r="2.3"/><circle cx="642.98" cy="145.30" r="2.3"/><circle cx="648.99" cy="144.76" r="2.3"/><circle cx="655.01" cy="144.10" r="2.3"/><circle cx="661.03" cy="142.60" r="2.3"/></g>
<g fill="#9C8CD3" fill-opacity="0.85"><circle cx="474.50" cy="137.80" r="2.3"/><circle cx="480.52" cy="137.93" r="2.3"/><circle cx="486.53" cy="138.07" r="2.3"/><circle cx="492.55" cy="138.21" r="2.3"/><circle cx="498.57" cy="138.35" r="2.3"/><circle cx="504.58" cy="138.50" r="2.3"/><circle cx="510.60" cy="138.68" r="2.3"/><circle cx="516.62" cy="138.89" r="2.3"/><circle cx="522.64" cy="139.09" r="2.3"/><circle cx="528.65" cy="139.24" r="2.3"/><circle cx="534.67" cy="139.30" r="2.3"/><circle cx="540.69" cy="139.28" r="2.3"/><circle cx="546.70" cy="139.22" r="2.3"/><circle cx="552.72" cy="139.12" r="2.3"/><circle cx="558.74" cy="138.98" r="2.3"/><circle cx="564.75" cy="138.80" r="2.3"/><circle cx="570.77" cy="138.30" r="2.3"/><circle cx="576.79" cy="137.68" r="2.3"/><circle cx="582.81" cy="137.00" r="2.3"/><circle cx="588.82" cy="136.24" r="2.3"/><circle cx="594.84" cy="135.50" r="2.3"/><circle cx="600.86" cy="134.85" r="2.3"/><circle cx="606.87" cy="134.30" r="2.3"/><circle cx="612.89" cy="133.91" r="2.3"/><circle cx="618.91" cy="133.50" r="2.3"/><circle cx="624.92" cy="132.80" r="2.3"/><circle cx="630.94" cy="131.30" r="2.3"/><circle cx="636.96" cy="130.66" r="2.3"/><circle cx="642.98" cy="130.20" r="2.3"/><circle cx="648.99" cy="129.81" r="2.3"/><circle cx="655.01" cy="129.30" r="2.3"/><circle cx="661.03" cy="127.80" r="2.3"/></g>
<g fill="#20B9AB" fill-opacity="0.85"><circle cx="474.50" cy="153.30" r="2.3"/><circle cx="480.52" cy="153.30" r="2.3"/><circle cx="486.53" cy="153.30" r="2.3"/><circle cx="492.55" cy="153.30" r="2.3"/><circle cx="498.57" cy="153.30" r="2.3"/><circle cx="504.58" cy="153.30" r="2.3"/><circle cx="510.60" cy="153.33" r="2.3"/><circle cx="516.62" cy="153.41" r="2.3"/><circle cx="522.64" cy="153.49" r="2.3"/><circle cx="528.65" cy="153.57" r="2.3"/><circle cx="534.67" cy="153.60" r="2.3"/><circle cx="540.69" cy="153.60" r="2.3"/><circle cx="546.70" cy="153.60" r="2.3"/><circle cx="552.72" cy="153.60" r="2.3"/><circle cx="558.74" cy="153.60" r="2.3"/><circle cx="564.75" cy="153.60" r="2.3"/><circle cx="570.77" cy="153.50" r="2.3"/><circle cx="576.79" cy="153.23" r="2.3"/><circle cx="582.81" cy="152.80" r="2.3"/><circle cx="588.82" cy="152.34" r="2.3"/><circle cx="594.84" cy="152.00" r="2.3"/><circle cx="600.86" cy="151.81" r="2.3"/><circle cx="606.87" cy="151.67" r="2.3"/><circle cx="612.89" cy="151.53" r="2.3"/><circle cx="618.91" cy="151.30" r="2.3"/><circle cx="624.92" cy="150.75" r="2.3"/><circle cx="630.94" cy="150.10" r="2.3"/><circle cx="636.96" cy="149.67" r="2.3"/><circle cx="642.98" cy="149.30" r="2.3"/><circle cx="648.99" cy="149.00" r="2.3"/><circle cx="655.01" cy="148.60" r="2.3"/><circle cx="661.03" cy="147.50" r="2.3"/></g>
<g fill="#E8B52A" fill-opacity="0.85"><circle cx="474.50" cy="184.90" r="2.3"/><circle cx="480.52" cy="185.18" r="2.3"/><circle cx="486.53" cy="185.44" r="2.3"/><circle cx="492.55" cy="185.71" r="2.3"/><circle cx="498.57" cy="185.96" r="2.3"/><circle cx="504.58" cy="186.20" r="2.3"/><circle cx="510.60" cy="186.43" r="2.3"/><circle cx="516.62" cy="186.66" r="2.3"/><circle cx="522.64" cy="186.88" r="2.3"/><circle cx="528.65" cy="187.09" r="2.3"/><circle cx="534.67" cy="187.30" r="2.3"/><circle cx="540.69" cy="187.51" r="2.3"/><circle cx="546.70" cy="187.71" r="2.3"/><circle cx="552.72" cy="187.90" r="2.3"/><circle cx="558.74" cy="188.10" r="2.3"/><circle cx="564.75" cy="188.30" r="2.3"/><circle cx="570.77" cy="188.50" r="2.3"/><circle cx="576.79" cy="188.70" r="2.3"/><circle cx="582.81" cy="188.89" r="2.3"/><circle cx="588.82" cy="189.09" r="2.3"/><circle cx="594.84" cy="189.30" r="2.3"/><circle cx="600.86" cy="189.55" r="2.3"/><circle cx="606.87" cy="189.84" r="2.3"/><circle cx="612.89" cy="190.11" r="2.3"/><circle cx="618.91" cy="190.32" r="2.3"/><circle cx="624.92" cy="190.40" r="2.3"/><circle cx="630.94" cy="190.34" r="2.3"/><circle cx="636.96" cy="190.16" r="2.3"/><circle cx="642.98" cy="189.90" r="2.3"/><circle cx="648.99" cy="189.14" r="2.3"/><circle cx="655.01" cy="187.80" r="2.3"/><circle cx="661.03" cy="185.70" r="2.3"/></g>
<g fill="#2279C2" fill-opacity="0.85"><circle cx="474.50" cy="148.30" r="2.3"/><circle cx="480.52" cy="148.28" r="2.3"/><circle cx="486.53" cy="148.24" r="2.3"/><circle cx="492.55" cy="148.17" r="2.3"/><circle cx="498.57" cy="148.09" r="2.3"/><circle cx="504.58" cy="148.00" r="2.3"/><circle cx="510.60" cy="147.87" r="2.3"/><circle cx="516.62" cy="147.67" r="2.3"/><circle cx="522.64" cy="147.42" r="2.3"/><circle cx="528.65" cy="147.12" r="2.3"/><circle cx="534.67" cy="146.80" r="2.3"/><circle cx="540.69" cy="146.39" r="2.3"/><circle cx="546.70" cy="145.86" r="2.3"/><circle cx="552.72" cy="145.26" r="2.3"/><circle cx="558.74" cy="144.66" r="2.3"/><circle cx="564.75" cy="144.10" r="2.3"/><circle cx="570.77" cy="143.60" r="2.3"/><circle cx="576.79" cy="143.28" r="2.3"/><circle cx="582.81" cy="143.03" r="2.3"/><circle cx="588.82" cy="142.81" r="2.3"/><circle cx="594.84" cy="142.60" r="2.3"/><circle cx="600.86" cy="142.40" r="2.3"/><circle cx="606.87" cy="142.22" r="2.3"/><circle cx="612.89" cy="142.03" r="2.3"/><circle cx="618.91" cy="141.80" r="2.3"/><circle cx="624.92" cy="141.51" r="2.3"/><circle cx="630.94" cy="141.10" r="2.3"/><circle cx="636.96" cy="140.17" r="2.3"/><circle cx="642.98" cy="139.20" r="2.3"/><circle cx="648.99" cy="138.79" r="2.3"/><circle cx="655.01" cy="138.30" r="2.3"/><circle cx="661.03" cy="136.50" r="2.3"/></g>
<g fill="#E31A95" fill-opacity="0.85"><circle cx="474.50" cy="139.60" r="2.3"/><circle cx="480.52" cy="139.60" r="2.3"/><circle cx="486.53" cy="139.60" r="2.3"/><circle cx="492.55" cy="139.00" r="2.3"/><circle cx="498.57" cy="138.28" r="2.3"/><circle cx="504.58" cy="137.50" r="2.3"/><circle cx="510.60" cy="136.64" r="2.3"/><circle cx="516.62" cy="135.80" r="2.3"/><circle cx="522.64" cy="135.04" r="2.3"/><circle cx="528.65" cy="134.33" r="2.3"/><circle cx="534.67" cy="133.70" r="2.3"/><circle cx="540.69" cy="133.11" r="2.3"/><circle cx="546.70" cy="132.58" r="2.3"/><circle cx="552.72" cy="132.20" r="2.3"/><circle cx="558.74" cy="132.01" r="2.3"/><circle cx="564.75" cy="131.80" r="2.3"/><circle cx="570.77" cy="131.30" r="2.3"/><circle cx="576.79" cy="131.39" r="2.3"/><circle cx="582.81" cy="131.60" r="2.3"/><circle cx="588.82" cy="132.01" r="2.3"/><circle cx="594.84" cy="132.50" r="2.3"/><circle cx="600.86" cy="132.85" r="2.3"/><circle cx="606.87" cy="133.20" r="2.3"/><circle cx="612.89" cy="133.75" r="2.3"/><circle cx="618.91" cy="134.10" r="2.3"/><circle cx="624.92" cy="134.00" r="2.3"/><circle cx="630.94" cy="133.66" r="2.3"/><circle cx="636.96" cy="133.20" r="2.3"/><circle cx="642.98" cy="132.86" r="2.3"/><circle cx="648.99" cy="132.50" r="2.3"/><circle cx="655.01" cy="132.00" r="2.3"/><circle cx="661.03" cy="129.80" r="2.3"/></g>
<rect x="465.40" y="51.00" width="204.50" height="146.25" fill="none" stroke="#ADADAD" stroke-width="1.1"/>
<text x="0" y="0" transform="translate(40.1 237.85) scale(0.92 1)" font-size="10.4" text-anchor="end" fill="#1a1a1a">150</text>
<text x="0" y="0" transform="translate(40.1 282.90) scale(0.92 1)" font-size="10.4" text-anchor="end" fill="#1a1a1a">100</text>
<text x="0" y="0" transform="translate(40.1 327.95) scale(0.92 1)" font-size="10.4" text-anchor="end" fill="#1a1a1a">50</text>
<line x1="44.90" y1="234.30" x2="249.50" y2="234.30" stroke="#D0D0D0" stroke-width="1.05"/>
<line x1="44.90" y1="279.35" x2="249.50" y2="279.35" stroke="#D0D0D0" stroke-width="1.05"/>
<line x1="44.90" y1="324.40" x2="249.50" y2="324.40" stroke="#D0D0D0" stroke-width="1.05"/>
<polyline points="54.10,288.90 60.12,288.56 66.13,288.20 72.15,287.80 78.17,287.28 84.19,286.90 90.20,286.81 96.22,286.76 102.24,286.73 108.25,286.69 114.27,286.60 120.29,286.32 126.30,285.78 132.32,285.10 138.34,284.10 144.36,282.90 150.37,281.80 156.39,281.93 162.41,282.20 168.42,282.48 174.44,282.60 180.46,282.41 186.47,282.00 192.49,281.59 198.51,281.40 204.53,281.49 210.54,281.71 216.56,282.03 222.58,282.40 228.59,282.90 234.61,283.59 240.63,284.40" fill="none" stroke="#E8453F" stroke-width="1.8" stroke-opacity="0.72" stroke-linejoin="round"/>
<polyline points="54.10,264.50 60.12,262.90 66.13,261.10 72.15,259.80 78.17,258.90 84.19,258.80 90.20,259.20 96.22,260.00 102.24,261.50 108.25,262.60 114.27,263.30 120.29,262.60 126.30,260.80 132.32,258.80 138.34,256.50 144.36,255.00 150.37,254.60 156.39,253.91 162.41,253.20 168.42,252.75 174.44,252.30 180.46,251.56 186.47,250.80 192.49,250.24 198.51,249.80 204.53,249.50 210.54,250.20 216.56,251.60 222.58,252.80 228.59,253.50 234.61,253.20 240.63,259.10" fill="none" stroke="#9C8CD3" stroke-width="1.8" stroke-opacity="0.72" stroke-linejoin="round"/>
<polyline points="54.10,280.60 60.12,279.85 66.13,279.24 72.15,278.80 78.17,278.46 84.19,278.30 90.20,278.62 96.22,279.27 102.24,279.80 108.25,280.13 114.27,280.30 120.29,280.23 126.30,280.04 132.32,279.73 138.34,279.31 144.36,278.80 150.37,277.60 156.39,277.19 162.41,276.92 168.42,276.72 174.44,276.50 180.46,276.22 186.47,275.93 192.49,275.69 198.51,275.60 204.53,275.75 210.54,276.08 216.56,276.40 222.58,276.58 228.59,276.75 234.61,277.10 240.63,279.80" fill="none" stroke="#20B9AB" stroke-width="1.8" stroke-opacity="0.72" stroke-linejoin="round"/>
<polyline points="54.10,306.10 60.12,306.10 66.13,306.10 72.15,306.19 78.17,306.40 84.19,307.00 90.20,308.20 96.22,310.00 102.24,311.80 108.25,313.30 114.27,314.20 120.29,314.20 126.30,314.20 132.32,314.20 138.34,314.20 144.36,314.63 150.37,315.50 156.39,316.70 162.41,317.90 168.42,318.50 174.44,318.80 180.46,318.75 186.47,318.65 192.49,318.55 198.51,318.50 204.53,318.50 210.54,318.50 216.56,318.75 222.58,319.10 228.59,319.30 234.61,319.40 240.63,316.70" fill="none" stroke="#E8B52A" stroke-width="1.8" stroke-opacity="0.72" stroke-linejoin="round"/>
<polyline points="54.10,296.10 60.12,295.61 66.13,295.09 72.15,294.55 78.17,293.98 84.19,293.40 90.20,292.79 96.22,292.15 102.24,291.49 108.25,290.80 114.27,290.10 120.29,289.42 126.30,288.70 132.32,287.80 138.34,286.24 144.36,284.70 150.37,283.90 156.39,283.78 162.41,283.73 168.42,283.69 174.44,283.60 180.46,283.30 186.47,282.79 192.49,282.31 198.51,282.10 204.53,282.18 210.54,282.37 216.56,282.63 222.58,282.90 228.59,283.15 234.61,283.60 240.63,285.90" fill="none" stroke="#2279C2" stroke-width="1.8" stroke-opacity="0.72" stroke-linejoin="round"/>
<polyline points="54.10,288.90 60.12,288.20 66.13,287.43 72.15,286.60 78.17,285.71 84.19,284.70 90.20,283.46 96.22,282.10 102.24,280.61 108.25,279.40 114.27,278.81 120.29,278.30 126.30,277.47 132.32,276.80 138.34,276.52 144.36,276.40 150.37,276.40 156.39,277.46 162.41,279.10 168.42,280.27 174.44,281.10 180.46,281.52 186.47,281.70 192.49,281.49 198.51,281.11 204.53,280.90 210.54,281.41 216.56,282.10 222.58,282.34 228.59,282.60 234.61,283.42 240.63,284.80" fill="none" stroke="#E31A95" stroke-width="1.8" stroke-opacity="0.72" stroke-linejoin="round"/>
<g fill="#E8453F" fill-opacity="0.85"><circle cx="54.10" cy="288.90" r="2.3"/><circle cx="60.12" cy="288.56" r="2.3"/><circle cx="66.13" cy="288.20" r="2.3"/><circle cx="72.15" cy="287.80" r="2.3"/><circle cx="78.17" cy="287.28" r="2.3"/><circle cx="84.19" cy="286.90" r="2.3"/><circle cx="90.20" cy="286.81" r="2.3"/><circle cx="96.22" cy="286.76" r="2.3"/><circle cx="102.24" cy="286.73" r="2.3"/><circle cx="108.25" cy="286.69" r="2.3"/><circle cx="114.27" cy="286.60" r="2.3"/><circle cx="120.29" cy="286.32" r="2.3"/><circle cx="126.30" cy="285.78" r="2.3"/><circle cx="132.32" cy="285.10" r="2.3"/><circle cx="138.34" cy="284.10" r="2.3"/><circle cx="144.36" cy="282.90" r="2.3"/><circle cx="150.37" cy="281.80" r="2.3"/><circle cx="156.39" cy="281.93" r="2.3"/><circle cx="162.41" cy="282.20" r="2.3"/><circle cx="168.42" cy="282.48" r="2.3"/><circle cx="174.44" cy="282.60" r="2.3"/><circle cx="180.46" cy="282.41" r="2.3"/><circle cx="186.47" cy="282.00" r="2.3"/><circle cx="192.49" cy="281.59" r="2.3"/><circle cx="198.51" cy="281.40" r="2.3"/><circle cx="204.53" cy="281.49" r="2.3"/><circle cx="210.54" cy="281.71" r="2.3"/><circle cx="216.56" cy="282.03" r="2.3"/><circle cx="222.58" cy="282.40" r="2.3"/><circle cx="228.59" cy="282.90" r="2.3"/><circle cx="234.61" cy="283.59" r="2.3"/><circle cx="240.63" cy="284.40" r="2.3"/></g>
<g fill="#9C8CD3" fill-opacity="0.85"><circle cx="54.10" cy="264.50" r="2.3"/><circle cx="60.12" cy="262.90" r="2.3"/><circle cx="66.13" cy="261.10" r="2.3"/><circle cx="72.15" cy="259.80" r="2.3"/><circle cx="78.17" cy="258.90" r="2.3"/><circle cx="84.19" cy="258.80" r="2.3"/><circle cx="90.20" cy="259.20" r="2.3"/><circle cx="96.22" cy="260.00" r="2.3"/><circle cx="102.24" cy="261.50" r="2.3"/><circle cx="108.25" cy="262.60" r="2.3"/><circle cx="114.27" cy="263.30" r="2.3"/><circle cx="120.29" cy="262.60" r="2.3"/><circle cx="126.30" cy="260.80" r="2.3"/><circle cx="132.32" cy="258.80" r="2.3"/><circle cx="138.34" cy="256.50" r="2.3"/><circle cx="144.36" cy="255.00" r="2.3"/><circle cx="150.37" cy="254.60" r="2.3"/><circle cx="156.39" cy="253.91" r="2.3"/><circle cx="162.41" cy="253.20" r="2.3"/><circle cx="168.42" cy="252.75" r="2.3"/><circle cx="174.44" cy="252.30" r="2.3"/><circle cx="180.46" cy="251.56" r="2.3"/><circle cx="186.47" cy="250.80" r="2.3"/><circle cx="192.49" cy="250.24" r="2.3"/><circle cx="198.51" cy="249.80" r="2.3"/><circle cx="204.53" cy="249.50" r="2.3"/><circle cx="210.54" cy="250.20" r="2.3"/><circle cx="216.56" cy="251.60" r="2.3"/><circle cx="222.58" cy="252.80" r="2.3"/><circle cx="228.59" cy="253.50" r="2.3"/><circle cx="234.61" cy="253.20" r="2.3"/><circle cx="240.63" cy="259.10" r="2.3"/></g>
<g fill="#20B9AB" fill-opacity="0.85"><circle cx="54.10" cy="280.60" r="2.3"/><circle cx="60.12" cy="279.85" r="2.3"/><circle cx="66.13" cy="279.24" r="2.3"/><circle cx="72.15" cy="278.80" r="2.3"/><circle cx="78.17" cy="278.46" r="2.3"/><circle cx="84.19" cy="278.30" r="2.3"/><circle cx="90.20" cy="278.62" r="2.3"/><circle cx="96.22" cy="279.27" r="2.3"/><circle cx="102.24" cy="279.80" r="2.3"/><circle cx="108.25" cy="280.13" r="2.3"/><circle cx="114.27" cy="280.30" r="2.3"/><circle cx="120.29" cy="280.23" r="2.3"/><circle cx="126.30" cy="280.04" r="2.3"/><circle cx="132.32" cy="279.73" r="2.3"/><circle cx="138.34" cy="279.31" r="2.3"/><circle cx="144.36" cy="278.80" r="2.3"/><circle cx="150.37" cy="277.60" r="2.3"/><circle cx="156.39" cy="277.19" r="2.3"/><circle cx="162.41" cy="276.92" r="2.3"/><circle cx="168.42" cy="276.72" r="2.3"/><circle cx="174.44" cy="276.50" r="2.3"/><circle cx="180.46" cy="276.22" r="2.3"/><circle cx="186.47" cy="275.93" r="2.3"/><circle cx="192.49" cy="275.69" r="2.3"/><circle cx="198.51" cy="275.60" r="2.3"/><circle cx="204.53" cy="275.75" r="2.3"/><circle cx="210.54" cy="276.08" r="2.3"/><circle cx="216.56" cy="276.40" r="2.3"/><circle cx="222.58" cy="276.58" r="2.3"/><circle cx="228.59" cy="276.75" r="2.3"/><circle cx="234.61" cy="277.10" r="2.3"/><circle cx="240.63" cy="279.80" r="2.3"/></g>
<g fill="#E8B52A" fill-opacity="0.85"><circle cx="54.10" cy="306.10" r="2.3"/><circle cx="60.12" cy="306.10" r="2.3"/><circle cx="66.13" cy="306.10" r="2.3"/><circle cx="72.15" cy="306.19" r="2.3"/><circle cx="78.17" cy="306.40" r="2.3"/><circle cx="84.19" cy="307.00" r="2.3"/><circle cx="90.20" cy="308.20" r="2.3"/><circle cx="96.22" cy="310.00" r="2.3"/><circle cx="102.24" cy="311.80" r="2.3"/><circle cx="108.25" cy="313.30" r="2.3"/><circle cx="114.27" cy="314.20" r="2.3"/><circle cx="120.29" cy="314.20" r="2.3"/><circle cx="126.30" cy="314.20" r="2.3"/><circle cx="132.32" cy="314.20" r="2.3"/><circle cx="138.34" cy="314.20" r="2.3"/><circle cx="144.36" cy="314.63" r="2.3"/><circle cx="150.37" cy="315.50" r="2.3"/><circle cx="156.39" cy="316.70" r="2.3"/><circle cx="162.41" cy="317.90" r="2.3"/><circle cx="168.42" cy="318.50" r="2.3"/><circle cx="174.44" cy="318.80" r="2.3"/><circle cx="180.46" cy="318.75" r="2.3"/><circle cx="186.47" cy="318.65" r="2.3"/><circle cx="192.49" cy="318.55" r="2.3"/><circle cx="198.51" cy="318.50" r="2.3"/><circle cx="204.53" cy="318.50" r="2.3"/><circle cx="210.54" cy="318.50" r="2.3"/><circle cx="216.56" cy="318.75" r="2.3"/><circle cx="222.58" cy="319.10" r="2.3"/><circle cx="228.59" cy="319.30" r="2.3"/><circle cx="234.61" cy="319.40" r="2.3"/><circle cx="240.63" cy="316.70" r="2.3"/></g>
<g fill="#2279C2" fill-opacity="0.85"><circle cx="54.10" cy="296.10" r="2.3"/><circle cx="60.12" cy="295.61" r="2.3"/><circle cx="66.13" cy="295.09" r="2.3"/><circle cx="72.15" cy="294.55" r="2.3"/><circle cx="78.17" cy="293.98" r="2.3"/><circle cx="84.19" cy="293.40" r="2.3"/><circle cx="90.20" cy="292.79" r="2.3"/><circle cx="96.22" cy="292.15" r="2.3"/><circle cx="102.24" cy="291.49" r="2.3"/><circle cx="108.25" cy="290.80" r="2.3"/><circle cx="114.27" cy="290.10" r="2.3"/><circle cx="120.29" cy="289.42" r="2.3"/><circle cx="126.30" cy="288.70" r="2.3"/><circle cx="132.32" cy="287.80" r="2.3"/><circle cx="138.34" cy="286.24" r="2.3"/><circle cx="144.36" cy="284.70" r="2.3"/><circle cx="150.37" cy="283.90" r="2.3"/><circle cx="156.39" cy="283.78" r="2.3"/><circle cx="162.41" cy="283.73" r="2.3"/><circle cx="168.42" cy="283.69" r="2.3"/><circle cx="174.44" cy="283.60" r="2.3"/><circle cx="180.46" cy="283.30" r="2.3"/><circle cx="186.47" cy="282.79" r="2.3"/><circle cx="192.49" cy="282.31" r="2.3"/><circle cx="198.51" cy="282.10" r="2.3"/><circle cx="204.53" cy="282.18" r="2.3"/><circle cx="210.54" cy="282.37" r="2.3"/><circle cx="216.56" cy="282.63" r="2.3"/><circle cx="222.58" cy="282.90" r="2.3"/><circle cx="228.59" cy="283.15" r="2.3"/><circle cx="234.61" cy="283.60" r="2.3"/><circle cx="240.63" cy="285.90" r="2.3"/></g>
<g fill="#E31A95" fill-opacity="0.85"><circle cx="54.10" cy="288.90" r="2.3"/><circle cx="60.12" cy="288.20" r="2.3"/><circle cx="66.13" cy="287.43" r="2.3"/><circle cx="72.15" cy="286.60" r="2.3"/><circle cx="78.17" cy="285.71" r="2.3"/><circle cx="84.19" cy="284.70" r="2.3"/><circle cx="90.20" cy="283.46" r="2.3"/><circle cx="96.22" cy="282.10" r="2.3"/><circle cx="102.24" cy="280.61" r="2.3"/><circle cx="108.25" cy="279.40" r="2.3"/><circle cx="114.27" cy="278.81" r="2.3"/><circle cx="120.29" cy="278.30" r="2.3"/><circle cx="126.30" cy="277.47" r="2.3"/><circle cx="132.32" cy="276.80" r="2.3"/><circle cx="138.34" cy="276.52" r="2.3"/><circle cx="144.36" cy="276.40" r="2.3"/><circle cx="150.37" cy="276.40" r="2.3"/><circle cx="156.39" cy="277.46" r="2.3"/><circle cx="162.41" cy="279.10" r="2.3"/><circle cx="168.42" cy="280.27" r="2.3"/><circle cx="174.44" cy="281.10" r="2.3"/><circle cx="180.46" cy="281.52" r="2.3"/><circle cx="186.47" cy="281.70" r="2.3"/><circle cx="192.49" cy="281.49" r="2.3"/><circle cx="198.51" cy="281.11" r="2.3"/><circle cx="204.53" cy="280.90" r="2.3"/><circle cx="210.54" cy="281.41" r="2.3"/><circle cx="216.56" cy="282.10" r="2.3"/><circle cx="222.58" cy="282.34" r="2.3"/><circle cx="228.59" cy="282.60" r="2.3"/><circle cx="234.61" cy="283.42" r="2.3"/><circle cx="240.63" cy="284.80" r="2.3"/></g>
<rect x="44.90" y="203.30" width="204.60" height="145.80" fill="none" stroke="#ADADAD" stroke-width="1.1"/>
<line x1="255.30" y1="234.30" x2="459.60" y2="234.30" stroke="#D0D0D0" stroke-width="1.05"/>
<line x1="255.30" y1="279.35" x2="459.60" y2="279.35" stroke="#D0D0D0" stroke-width="1.05"/>
<line x1="255.30" y1="324.40" x2="459.60" y2="324.40" stroke="#D0D0D0" stroke-width="1.05"/>
<polyline points="264.40,263.10 270.42,262.10 276.43,260.90 282.45,260.10 288.47,259.70 294.48,259.40 300.50,259.40 306.52,259.80 312.54,260.10 318.55,260.10 324.57,260.10 330.59,259.80 336.60,259.10 342.62,257.90 348.64,255.60 354.65,253.60 360.67,252.90 366.69,253.15 372.71,253.40 378.72,253.20 384.74,252.90 390.76,252.76 396.77,252.60 402.79,252.20 408.81,251.90 414.82,252.02 420.84,252.30 426.86,253.14 432.88,254.10 438.89,254.44 444.91,254.90 450.93,258.90" fill="none" stroke="#E8453F" stroke-width="1.8" stroke-opacity="0.72" stroke-linejoin="round"/>
<polyline points="264.40,234.50 270.42,231.80 276.43,229.30 282.45,227.50 288.47,226.30 294.48,226.00 300.50,226.70 306.52,228.10 312.54,229.60 318.55,230.80 324.57,231.20 330.59,230.00 336.60,227.30 342.62,224.00 348.64,220.30 354.65,217.70 360.67,216.50 366.69,215.30 372.71,214.60 378.72,214.00 384.74,213.20 390.76,212.50 396.77,211.30 402.79,210.20 408.81,209.50 414.82,209.80 420.84,210.80 426.86,213.10 432.88,215.50 438.89,216.80 444.91,215.80 450.93,225.30" fill="none" stroke="#9C8CD3" stroke-width="1.8" stroke-opacity="0.72" stroke-linejoin="round"/>
<polyline points="264.40,259.40 270.42,258.60 276.43,257.90 282.45,257.10 288.47,256.40 294.48,255.90 300.50,256.40 306.52,257.10 312.54,258.30 318.55,259.40 324.57,259.80 330.59,259.80 336.60,258.60 342.62,257.40 348.64,255.90 354.65,254.80 360.67,254.10 366.69,253.93 372.71,253.80 378.72,253.62 384.74,253.40 390.76,253.04 396.77,252.60 402.79,251.99 408.81,251.60 414.82,251.60 420.84,252.20 426.86,252.90 432.88,253.70 438.89,254.40 444.91,254.10 450.93,257.90" fill="none" stroke="#20B9AB" stroke-width="1.8" stroke-opacity="0.72" stroke-linejoin="round"/>
<polyline points="264.40,276.00 270.42,275.60 276.43,275.40 282.45,275.60 288.47,276.00 294.48,277.00 300.50,278.50 306.52,281.50 312.54,285.10 318.55,287.50 324.57,288.40 330.59,288.40 336.60,288.40 342.62,288.40 348.64,288.40 354.65,289.00 360.67,290.40 366.69,292.50 372.71,294.30 378.72,295.50 384.74,295.80 390.76,295.80 396.77,295.80 402.79,295.65 408.81,295.50 414.82,295.59 420.84,295.80 426.86,296.31 432.88,297.00 438.89,297.60 444.91,297.30 450.93,294.30" fill="none" stroke="#E8B52A" stroke-width="1.8" stroke-opacity="0.72" stroke-linejoin="round"/>
<polyline points="264.40,276.70 270.42,275.20 276.43,274.10 282.45,273.20 288.47,272.40 294.48,271.80 300.50,271.40 306.52,270.90 312.54,270.30 318.55,269.40 324.57,268.40 330.59,266.90 336.60,265.40 342.62,263.10 348.64,261.30 354.65,259.80 360.67,259.40 366.69,259.14 372.71,258.90 378.72,258.63 384.74,258.30 390.76,257.74 396.77,257.02 402.79,256.40 408.81,255.88 414.82,255.60 420.84,256.16 426.86,257.10 432.88,258.04 438.89,258.60 444.91,258.60 450.93,263.90" fill="none" stroke="#2279C2" stroke-width="1.8" stroke-opacity="0.72" stroke-linejoin="round"/>
<polyline points="264.40,258.90 270.42,258.20 276.43,256.80 282.45,255.20 288.47,253.30 294.48,251.50 300.50,250.00 306.52,248.80 312.54,247.80 318.55,246.90 324.57,246.30 330.59,245.80 336.60,245.10 342.62,244.30 348.64,243.60 354.65,243.10 360.67,244.10 366.69,245.60 372.71,247.80 378.72,249.60 384.74,251.10 390.76,251.90 396.77,252.30 402.79,252.30 408.81,252.20 414.82,251.90 420.84,252.30 426.86,252.90 432.88,254.10 438.89,254.90 444.91,254.90 450.93,258.60" fill="none" stroke="#E31A95" stroke-width="1.8" stroke-opacity="0.72" stroke-linejoin="round"/>
<g fill="#E8453F" fill-opacity="0.85"><circle cx="264.40" cy="263.10" r="2.3"/><circle cx="270.42" cy="262.10" r="2.3"/><circle cx="276.43" cy="260.90" r="2.3"/><circle cx="282.45" cy="260.10" r="2.3"/><circle cx="288.47" cy="259.70" r="2.3"/><circle cx="294.48" cy="259.40" r="2.3"/><circle cx="300.50" cy="259.40" r="2.3"/><circle cx="306.52" cy="259.80" r="2.3"/><circle cx="312.54" cy="260.10" r="2.3"/><circle cx="318.55" cy="260.10" r="2.3"/><circle cx="324.57" cy="260.10" r="2.3"/><circle cx="330.59" cy="259.80" r="2.3"/><circle cx="336.60" cy="259.10" r="2.3"/><circle cx="342.62" cy="257.90" r="2.3"/><circle cx="348.64" cy="255.60" r="2.3"/><circle cx="354.65" cy="253.60" r="2.3"/><circle cx="360.67" cy="252.90" r="2.3"/><circle cx="366.69" cy="253.15" r="2.3"/><circle cx="372.71" cy="253.40" r="2.3"/><circle cx="378.72" cy="253.20" r="2.3"/><circle cx="384.74" cy="252.90" r="2.3"/><circle cx="390.76" cy="252.76" r="2.3"/><circle cx="396.77" cy="252.60" r="2.3"/><circle cx="402.79" cy="252.20" r="2.3"/><circle cx="408.81" cy="251.90" r="2.3"/><circle cx="414.82" cy="252.02" r="2.3"/><circle cx="420.84" cy="252.30" r="2.3"/><circle cx="426.86" cy="253.14" r="2.3"/><circle cx="432.88" cy="254.10" r="2.3"/><circle cx="438.89" cy="254.44" r="2.3"/><circle cx="444.91" cy="254.90" r="2.3"/><circle cx="450.93" cy="258.90" r="2.3"/></g>
<g fill="#9C8CD3" fill-opacity="0.85"><circle cx="264.40" cy="234.50" r="2.3"/><circle cx="270.42" cy="231.80" r="2.3"/><circle cx="276.43" cy="229.30" r="2.3"/><circle cx="282.45" cy="227.50" r="2.3"/><circle cx="288.47" cy="226.30" r="2.3"/><circle cx="294.48" cy="226.00" r="2.3"/><circle cx="300.50" cy="226.70" r="2.3"/><circle cx="306.52" cy="228.10" r="2.3"/><circle cx="312.54" cy="229.60" r="2.3"/><circle cx="318.55" cy="230.80" r="2.3"/><circle cx="324.57" cy="231.20" r="2.3"/><circle cx="330.59" cy="230.00" r="2.3"/><circle cx="336.60" cy="227.30" r="2.3"/><circle cx="342.62" cy="224.00" r="2.3"/><circle cx="348.64" cy="220.30" r="2.3"/><circle cx="354.65" cy="217.70" r="2.3"/><circle cx="360.67" cy="216.50" r="2.3"/><circle cx="366.69" cy="215.30" r="2.3"/><circle cx="372.71" cy="214.60" r="2.3"/><circle cx="378.72" cy="214.00" r="2.3"/><circle cx="384.74" cy="213.20" r="2.3"/><circle cx="390.76" cy="212.50" r="2.3"/><circle cx="396.77" cy="211.30" r="2.3"/><circle cx="402.79" cy="210.20" r="2.3"/><circle cx="408.81" cy="209.50" r="2.3"/><circle cx="414.82" cy="209.80" r="2.3"/><circle cx="420.84" cy="210.80" r="2.3"/><circle cx="426.86" cy="213.10" r="2.3"/><circle cx="432.88" cy="215.50" r="2.3"/><circle cx="438.89" cy="216.80" r="2.3"/><circle cx="444.91" cy="215.80" r="2.3"/><circle cx="450.93" cy="225.30" r="2.3"/></g>
<g fill="#20B9AB" fill-opacity="0.85"><circle cx="264.40" cy="259.40" r="2.3"/><circle cx="270.42" cy="258.60" r="2.3"/><circle cx="276.43" cy="257.90" r="2.3"/><circle cx="282.45" cy="257.10" r="2.3"/><circle cx="288.47" cy="256.40" r="2.3"/><circle cx="294.48" cy="255.90" r="2.3"/><circle cx="300.50" cy="256.40" r="2.3"/><circle cx="306.52" cy="257.10" r="2.3"/><circle cx="312.54" cy="258.30" r="2.3"/><circle cx="318.55" cy="259.40" r="2.3"/><circle cx="324.57" cy="259.80" r="2.3"/><circle cx="330.59" cy="259.80" r="2.3"/><circle cx="336.60" cy="258.60" r="2.3"/><circle cx="342.62" cy="257.40" r="2.3"/><circle cx="348.64" cy="255.90" r="2.3"/><circle cx="354.65" cy="254.80" r="2.3"/><circle cx="360.67" cy="254.10" r="2.3"/><circle cx="366.69" cy="253.93" r="2.3"/><circle cx="372.71" cy="253.80" r="2.3"/><circle cx="378.72" cy="253.62" r="2.3"/><circle cx="384.74" cy="253.40" r="2.3"/><circle cx="390.76" cy="253.04" r="2.3"/><circle cx="396.77" cy="252.60" r="2.3"/><circle cx="402.79" cy="251.99" r="2.3"/><circle cx="408.81" cy="251.60" r="2.3"/><circle cx="414.82" cy="251.60" r="2.3"/><circle cx="420.84" cy="252.20" r="2.3"/><circle cx="426.86" cy="252.90" r="2.3"/><circle cx="432.88" cy="253.70" r="2.3"/><circle cx="438.89" cy="254.40" r="2.3"/><circle cx="444.91" cy="254.10" r="2.3"/><circle cx="450.93" cy="257.90" r="2.3"/></g>
<g fill="#E8B52A" fill-opacity="0.85"><circle cx="264.40" cy="276.00" r="2.3"/><circle cx="270.42" cy="275.60" r="2.3"/><circle cx="276.43" cy="275.40" r="2.3"/><circle cx="282.45" cy="275.60" r="2.3"/><circle cx="288.47" cy="276.00" r="2.3"/><circle cx="294.48" cy="277.00" r="2.3"/><circle cx="300.50" cy="278.50" r="2.3"/><circle cx="306.52" cy="281.50" r="2.3"/><circle cx="312.54" cy="285.10" r="2.3"/><circle cx="318.55" cy="287.50" r="2.3"/><circle cx="324.57" cy="288.40" r="2.3"/><circle cx="330.59" cy="288.40" r="2.3"/><circle cx="336.60" cy="288.40" r="2.3"/><circle cx="342.62" cy="288.40" r="2.3"/><circle cx="348.64" cy="288.40" r="2.3"/><circle cx="354.65" cy="289.00" r="2.3"/><circle cx="360.67" cy="290.40" r="2.3"/><circle cx="366.69" cy="292.50" r="2.3"/><circle cx="372.71" cy="294.30" r="2.3"/><circle cx="378.72" cy="295.50" r="2.3"/><circle cx="384.74" cy="295.80" r="2.3"/><circle cx="390.76" cy="295.80" r="2.3"/><circle cx="396.77" cy="295.80" r="2.3"/><circle cx="402.79" cy="295.65" r="2.3"/><circle cx="408.81" cy="295.50" r="2.3"/><circle cx="414.82" cy="295.59" r="2.3"/><circle cx="420.84" cy="295.80" r="2.3"/><circle cx="426.86" cy="296.31" r="2.3"/><circle cx="432.88" cy="297.00" r="2.3"/><circle cx="438.89" cy="297.60" r="2.3"/><circle cx="444.91" cy="297.30" r="2.3"/><circle cx="450.93" cy="294.30" r="2.3"/></g>
<g fill="#2279C2" fill-opacity="0.85"><circle cx="264.40" cy="276.70" r="2.3"/><circle cx="270.42" cy="275.20" r="2.3"/><circle cx="276.43" cy="274.10" r="2.3"/><circle cx="282.45" cy="273.20" r="2.3"/><circle cx="288.47" cy="272.40" r="2.3"/><circle cx="294.48" cy="271.80" r="2.3"/><circle cx="300.50" cy="271.40" r="2.3"/><circle cx="306.52" cy="270.90" r="2.3"/><circle cx="312.54" cy="270.30" r="2.3"/><circle cx="318.55" cy="269.40" r="2.3"/><circle cx="324.57" cy="268.40" r="2.3"/><circle cx="330.59" cy="266.90" r="2.3"/><circle cx="336.60" cy="265.40" r="2.3"/><circle cx="342.62" cy="263.10" r="2.3"/><circle cx="348.64" cy="261.30" r="2.3"/><circle cx="354.65" cy="259.80" r="2.3"/><circle cx="360.67" cy="259.40" r="2.3"/><circle cx="366.69" cy="259.14" r="2.3"/><circle cx="372.71" cy="258.90" r="2.3"/><circle cx="378.72" cy="258.63" r="2.3"/><circle cx="384.74" cy="258.30" r="2.3"/><circle cx="390.76" cy="257.74" r="2.3"/><circle cx="396.77" cy="257.02" r="2.3"/><circle cx="402.79" cy="256.40" r="2.3"/><circle cx="408.81" cy="255.88" r="2.3"/><circle cx="414.82" cy="255.60" r="2.3"/><circle cx="420.84" cy="256.16" r="2.3"/><circle cx="426.86" cy="257.10" r="2.3"/><circle cx="432.88" cy="258.04" r="2.3"/><circle cx="438.89" cy="258.60" r="2.3"/><circle cx="444.91" cy="258.60" r="2.3"/><circle cx="450.93" cy="263.90" r="2.3"/></g>
<g fill="#E31A95" fill-opacity="0.85"><circle cx="264.40" cy="258.90" r="2.3"/><circle cx="270.42" cy="258.20" r="2.3"/><circle cx="276.43" cy="256.80" r="2.3"/><circle cx="282.45" cy="255.20" r="2.3"/><circle cx="288.47" cy="253.30" r="2.3"/><circle cx="294.48" cy="251.50" r="2.3"/><circle cx="300.50" cy="250.00" r="2.3"/><circle cx="306.52" cy="248.80" r="2.3"/><circle cx="312.54" cy="247.80" r="2.3"/><circle cx="318.55" cy="246.90" r="2.3"/><circle cx="324.57" cy="246.30" r="2.3"/><circle cx="330.59" cy="245.80" r="2.3"/><circle cx="336.60" cy="245.10" r="2.3"/><circle cx="342.62" cy="244.30" r="2.3"/><circle cx="348.64" cy="243.60" r="2.3"/><circle cx="354.65" cy="243.10" r="2.3"/><circle cx="360.67" cy="244.10" r="2.3"/><circle cx="366.69" cy="245.60" r="2.3"/><circle cx="372.71" cy="247.80" r="2.3"/><circle cx="378.72" cy="249.60" r="2.3"/><circle cx="384.74" cy="251.10" r="2.3"/><circle cx="390.76" cy="251.90" r="2.3"/><circle cx="396.77" cy="252.30" r="2.3"/><circle cx="402.79" cy="252.30" r="2.3"/><circle cx="408.81" cy="252.20" r="2.3"/><circle cx="414.82" cy="251.90" r="2.3"/><circle cx="420.84" cy="252.30" r="2.3"/><circle cx="426.86" cy="252.90" r="2.3"/><circle cx="432.88" cy="254.10" r="2.3"/><circle cx="438.89" cy="254.90" r="2.3"/><circle cx="444.91" cy="254.90" r="2.3"/><circle cx="450.93" cy="258.60" r="2.3"/></g>
<rect x="255.30" y="203.30" width="204.30" height="145.80" fill="none" stroke="#ADADAD" stroke-width="1.1"/>
<line x1="465.40" y1="234.30" x2="669.90" y2="234.30" stroke="#D0D0D0" stroke-width="1.05"/>
<line x1="465.40" y1="279.35" x2="669.90" y2="279.35" stroke="#D0D0D0" stroke-width="1.05"/>
<line x1="465.40" y1="324.40" x2="669.90" y2="324.40" stroke="#D0D0D0" stroke-width="1.05"/>
<polyline points="474.50,318.50 480.52,318.47 486.53,318.37 492.55,318.22 498.57,318.03 504.58,317.80 510.60,317.36 516.62,316.68 522.64,316.00 528.65,315.36 534.67,314.80 540.69,314.43 546.70,314.12 552.72,313.80 558.74,313.47 564.75,313.00 570.77,311.80 576.79,311.63 582.81,311.54 588.82,311.48 594.84,311.40 600.86,311.28 606.87,311.14 612.89,311.01 618.91,310.90 624.92,310.80 630.94,310.70 636.96,310.63 642.98,310.60 648.99,310.64 655.01,310.74 661.03,310.90" fill="none" stroke="#E8453F" stroke-width="1.8" stroke-opacity="0.72" stroke-linejoin="round"/>
<polyline points="474.50,295.90 480.52,294.80 486.53,294.40 492.55,293.80 498.57,293.30 504.58,293.30 510.60,293.80 516.62,294.40 522.64,295.30 528.65,295.90 534.67,296.40 540.69,296.10 546.70,295.30 552.72,294.80 558.74,294.40 564.75,293.80 570.77,293.80 576.79,293.30 582.81,292.90 588.82,292.30 594.84,291.80 600.86,291.40 606.87,290.80 612.89,290.30 618.91,289.90 624.92,289.60 630.94,289.60 636.96,289.90 642.98,290.30 648.99,290.60 655.01,290.30 661.03,293.00" fill="none" stroke="#9C8CD3" stroke-width="1.8" stroke-opacity="0.72" stroke-linejoin="round"/>
<polyline points="474.50,302.80 480.52,302.36 486.53,301.90 492.55,301.28 498.57,300.90 504.58,300.90 510.60,301.16 516.62,301.60 522.64,302.04 528.65,302.49 534.67,302.70 540.69,302.70 546.70,302.22 552.72,301.60 558.74,301.33 564.75,301.20 570.77,301.20 576.79,301.10 582.81,300.90 588.82,300.65 594.84,300.40 600.86,300.25 606.87,300.10 612.89,299.90 618.91,299.70 624.92,299.51 630.94,299.40 636.96,299.53 642.98,299.70 648.99,299.74 655.01,299.80 661.03,300.90" fill="none" stroke="#20B9AB" stroke-width="1.8" stroke-opacity="0.72" stroke-linejoin="round"/>
<polyline points="474.50,337.10 480.52,337.15 486.53,337.27 492.55,337.47 498.57,337.71 504.58,338.00 510.60,338.63 516.62,339.52 522.64,340.10 528.65,340.28 534.67,340.40 540.69,340.52 546.70,340.62 552.72,340.73 558.74,340.85 564.75,341.00 570.77,341.25 576.79,341.57 582.81,341.90 588.82,342.28 594.84,342.50 600.86,342.44 606.87,342.29 612.89,342.11 618.91,341.96 624.92,341.90 630.94,341.90 636.96,341.90 642.98,341.90 648.99,341.90 655.01,341.90 661.03,340.10" fill="none" stroke="#E8B52A" stroke-width="1.8" stroke-opacity="0.72" stroke-linejoin="round"/>
<polyline points="474.50,316.70 480.52,316.37 486.53,316.09 492.55,315.90 498.57,315.80 504.58,315.74 510.60,315.60 516.62,314.80 522.64,313.60 528.65,312.40 534.67,311.80 540.69,311.59 546.70,311.40 552.72,311.05 558.74,310.60 564.75,310.20 570.77,309.90 576.79,309.90 582.81,309.90 588.82,309.90 594.84,309.90 600.86,309.76 606.87,309.42 612.89,309.05 618.91,308.80 624.92,308.68 630.94,308.59 636.96,308.50 642.98,308.40 648.99,308.22 655.01,308.10 661.03,308.70" fill="none" stroke="#2279C2" stroke-width="1.8" stroke-opacity="0.72" stroke-linejoin="round"/>
<polyline points="474.50,320.10 480.52,320.07 486.53,320.00 492.55,319.70 498.57,319.20 504.58,318.50 510.60,317.40 516.62,315.90 522.64,314.10 528.65,312.60 534.67,311.70 540.69,311.40 546.70,311.15 552.72,310.90 558.74,310.53 564.75,310.30 570.77,310.30 576.79,310.39 582.81,310.61 588.82,310.88 594.84,311.10 600.86,311.27 606.87,311.43 612.89,311.57 618.91,311.70 624.92,311.81 630.94,311.91 636.96,312.00 642.98,312.10 648.99,312.20 655.01,312.30 661.03,312.40" fill="none" stroke="#E31A95" stroke-width="1.8" stroke-opacity="0.72" stroke-linejoin="round"/>
<g fill="#E8453F" fill-opacity="0.85"><circle cx="474.50" cy="318.50" r="2.3"/><circle cx="480.52" cy="318.47" r="2.3"/><circle cx="486.53" cy="318.37" r="2.3"/><circle cx="492.55" cy="318.22" r="2.3"/><circle cx="498.57" cy="318.03" r="2.3"/><circle cx="504.58" cy="317.80" r="2.3"/><circle cx="510.60" cy="317.36" r="2.3"/><circle cx="516.62" cy="316.68" r="2.3"/><circle cx="522.64" cy="316.00" r="2.3"/><circle cx="528.65" cy="315.36" r="2.3"/><circle cx="534.67" cy="314.80" r="2.3"/><circle cx="540.69" cy="314.43" r="2.3"/><circle cx="546.70" cy="314.12" r="2.3"/><circle cx="552.72" cy="313.80" r="2.3"/><circle cx="558.74" cy="313.47" r="2.3"/><circle cx="564.75" cy="313.00" r="2.3"/><circle cx="570.77" cy="311.80" r="2.3"/><circle cx="576.79" cy="311.63" r="2.3"/><circle cx="582.81" cy="311.54" r="2.3"/><circle cx="588.82" cy="311.48" r="2.3"/><circle cx="594.84" cy="311.40" r="2.3"/><circle cx="600.86" cy="311.28" r="2.3"/><circle cx="606.87" cy="311.14" r="2.3"/><circle cx="612.89" cy="311.01" r="2.3"/><circle cx="618.91" cy="310.90" r="2.3"/><circle cx="624.92" cy="310.80" r="2.3"/><circle cx="630.94" cy="310.70" r="2.3"/><circle cx="636.96" cy="310.63" r="2.3"/><circle cx="642.98" cy="310.60" r="2.3"/><circle cx="648.99" cy="310.64" r="2.3"/><circle cx="655.01" cy="310.74" r="2.3"/><circle cx="661.03" cy="310.90" r="2.3"/></g>
<g fill="#9C8CD3" fill-opacity="0.85"><circle cx="474.50" cy="295.90" r="2.3"/><circle cx="480.52" cy="294.80" r="2.3"/><circle cx="486.53" cy="294.40" r="2.3"/><circle cx="492.55" cy="293.80" r="2.3"/><circle cx="498.57" cy="293.30" r="2.3"/><circle cx="504.58" cy="293.30" r="2.3"/><circle cx="510.60" cy="293.80" r="2.3"/><circle cx="516.62" cy="294.40" r="2.3"/><circle cx="522.64" cy="295.30" r="2.3"/><circle cx="528.65" cy="295.90" r="2.3"/><circle cx="534.67" cy="296.40" r="2.3"/><circle cx="540.69" cy="296.10" r="2.3"/><circle cx="546.70" cy="295.30" r="2.3"/><circle cx="552.72" cy="294.80" r="2.3"/><circle cx="558.74" cy="294.40" r="2.3"/><circle cx="564.75" cy="293.80" r="2.3"/><circle cx="570.77" cy="293.80" r="2.3"/><circle cx="576.79" cy="293.30" r="2.3"/><circle cx="582.81" cy="292.90" r="2.3"/><circle cx="588.82" cy="292.30" r="2.3"/><circle cx="594.84" cy="291.80" r="2.3"/><circle cx="600.86" cy="291.40" r="2.3"/><circle cx="606.87" cy="290.80" r="2.3"/><circle cx="612.89" cy="290.30" r="2.3"/><circle cx="618.91" cy="289.90" r="2.3"/><circle cx="624.92" cy="289.60" r="2.3"/><circle cx="630.94" cy="289.60" r="2.3"/><circle cx="636.96" cy="289.90" r="2.3"/><circle cx="642.98" cy="290.30" r="2.3"/><circle cx="648.99" cy="290.60" r="2.3"/><circle cx="655.01" cy="290.30" r="2.3"/><circle cx="661.03" cy="293.00" r="2.3"/></g>
<g fill="#20B9AB" fill-opacity="0.85"><circle cx="474.50" cy="302.80" r="2.3"/><circle cx="480.52" cy="302.36" r="2.3"/><circle cx="486.53" cy="301.90" r="2.3"/><circle cx="492.55" cy="301.28" r="2.3"/><circle cx="498.57" cy="300.90" r="2.3"/><circle cx="504.58" cy="300.90" r="2.3"/><circle cx="510.60" cy="301.16" r="2.3"/><circle cx="516.62" cy="301.60" r="2.3"/><circle cx="522.64" cy="302.04" r="2.3"/><circle cx="528.65" cy="302.49" r="2.3"/><circle cx="534.67" cy="302.70" r="2.3"/><circle cx="540.69" cy="302.70" r="2.3"/><circle cx="546.70" cy="302.22" r="2.3"/><circle cx="552.72" cy="301.60" r="2.3"/><circle cx="558.74" cy="301.33" r="2.3"/><circle cx="564.75" cy="301.20" r="2.3"/><circle cx="570.77" cy="301.20" r="2.3"/><circle cx="576.79" cy="301.10" r="2.3"/><circle cx="582.81" cy="300.90" r="2.3"/><circle cx="588.82" cy="300.65" r="2.3"/><circle cx="594.84" cy="300.40" r="2.3"/><circle cx="600.86" cy="300.25" r="2.3"/><circle cx="606.87" cy="300.10" r="2.3"/><circle cx="612.89" cy="299.90" r="2.3"/><circle cx="618.91" cy="299.70" r="2.3"/><circle cx="624.92" cy="299.51" r="2.3"/><circle cx="630.94" cy="299.40" r="2.3"/><circle cx="636.96" cy="299.53" r="2.3"/><circle cx="642.98" cy="299.70" r="2.3"/><circle cx="648.99" cy="299.74" r="2.3"/><circle cx="655.01" cy="299.80" r="2.3"/><circle cx="661.03" cy="300.90" r="2.3"/></g>
<g fill="#E8B52A" fill-opacity="0.85"><circle cx="474.50" cy="337.10" r="2.3"/><circle cx="480.52" cy="337.15" r="2.3"/><circle cx="486.53" cy="337.27" r="2.3"/><circle cx="492.55" cy="337.47" r="2.3"/><circle cx="498.57" cy="337.71" r="2.3"/><circle cx="504.58" cy="338.00" r="2.3"/><circle cx="510.60" cy="338.63" r="2.3"/><circle cx="516.62" cy="339.52" r="2.3"/><circle cx="522.64" cy="340.10" r="2.3"/><circle cx="528.65" cy="340.28" r="2.3"/><circle cx="534.67" cy="340.40" r="2.3"/><circle cx="540.69" cy="340.52" r="2.3"/><circle cx="546.70" cy="340.62" r="2.3"/><circle cx="552.72" cy="340.73" r="2.3"/><circle cx="558.74" cy="340.85" r="2.3"/><circle cx="564.75" cy="341.00" r="2.3"/><circle cx="570.77" cy="341.25" r="2.3"/><circle cx="576.79" cy="341.57" r="2.3"/><circle cx="582.81" cy="341.90" r="2.3"/><circle cx="588.82" cy="342.28" r="2.3"/><circle cx="594.84" cy="342.50" r="2.3"/><circle cx="600.86" cy="342.44" r="2.3"/><circle cx="606.87" cy="342.29" r="2.3"/><circle cx="612.89" cy="342.11" r="2.3"/><circle cx="618.91" cy="341.96" r="2.3"/><circle cx="624.92" cy="341.90" r="2.3"/><circle cx="630.94" cy="341.90" r="2.3"/><circle cx="636.96" cy="341.90" r="2.3"/><circle cx="642.98" cy="341.90" r="2.3"/><circle cx="648.99" cy="341.90" r="2.3"/><circle cx="655.01" cy="341.90" r="2.3"/><circle cx="661.03" cy="340.10" r="2.3"/></g>
<g fill="#2279C2" fill-opacity="0.85"><circle cx="474.50" cy="316.70" r="2.3"/><circle cx="480.52" cy="316.37" r="2.3"/><circle cx="486.53" cy="316.09" r="2.3"/><circle cx="492.55" cy="315.90" r="2.3"/><circle cx="498.57" cy="315.80" r="2.3"/><circle cx="504.58" cy="315.74" r="2.3"/><circle cx="510.60" cy="315.60" r="2.3"/><circle cx="516.62" cy="314.80" r="2.3"/><circle cx="522.64" cy="313.60" r="2.3"/><circle cx="528.65" cy="312.40" r="2.3"/><circle cx="534.67" cy="311.80" r="2.3"/><circle cx="540.69" cy="311.59" r="2.3"/><circle cx="546.70" cy="311.40" r="2.3"/><circle cx="552.72" cy="311.05" r="2.3"/><circle cx="558.74" cy="310.60" r="2.3"/><circle cx="564.75" cy="310.20" r="2.3"/><circle cx="570.77" cy="309.90" r="2.3"/><circle cx="576.79" cy="309.90" r="2.3"/><circle cx="582.81" cy="309.90" r="2.3"/><circle cx="588.82" cy="309.90" r="2.3"/><circle cx="594.84" cy="309.90" r="2.3"/><circle cx="600.86" cy="309.76" r="2.3"/><circle cx="606.87" cy="309.42" r="2.3"/><circle cx="612.89" cy="309.05" r="2.3"/><circle cx="618.91" cy="308.80" r="2.3"/><circle cx="624.92" cy="308.68" r="2.3"/><circle cx="630.94" cy="308.59" r="2.3"/><circle cx="636.96" cy="308.50" r="2.3"/><circle cx="642.98" cy="308.40" r="2.3"/><circle cx="648.99" cy="308.22" r="2.3"/><circle cx="655.01" cy="308.10" r="2.3"/><circle cx="661.03" cy="308.70" r="2.3"/></g>
<g fill="#E31A95" fill-opacity="0.85"><circle cx="474.50" cy="320.10" r="2.3"/><circle cx="480.52" cy="320.07" r="2.3"/><circle cx="486.53" cy="320.00" r="2.3"/><circle cx="492.55" cy="319.70" r="2.3"/><circle cx="498.57" cy="319.20" r="2.3"/><circle cx="504.58" cy="318.50" r="2.3"/><circle cx="510.60" cy="317.40" r="2.3"/><circle cx="516.62" cy="315.90" r="2.3"/><circle cx="522.64" cy="314.10" r="2.3"/><circle cx="528.65" cy="312.60" r="2.3"/><circle cx="534.67" cy="311.70" r="2.3"/><circle cx="540.69" cy="311.40" r="2.3"/><circle cx="546.70" cy="311.15" r="2.3"/><circle cx="552.72" cy="310.90" r="2.3"/><circle cx="558.74" cy="310.53" r="2.3"/><circle cx="564.75" cy="310.30" r="2.3"/><circle cx="570.77" cy="310.30" r="2.3"/><circle cx="576.79" cy="310.39" r="2.3"/><circle cx="582.81" cy="310.61" r="2.3"/><circle cx="588.82" cy="310.88" r="2.3"/><circle cx="594.84" cy="311.10" r="2.3"/><circle cx="600.86" cy="311.27" r="2.3"/><circle cx="606.87" cy="311.43" r="2.3"/><circle cx="612.89" cy="311.57" r="2.3"/><circle cx="618.91" cy="311.70" r="2.3"/><circle cx="624.92" cy="311.81" r="2.3"/><circle cx="630.94" cy="311.91" r="2.3"/><circle cx="636.96" cy="312.00" r="2.3"/><circle cx="642.98" cy="312.10" r="2.3"/><circle cx="648.99" cy="312.20" r="2.3"/><circle cx="655.01" cy="312.30" r="2.3"/><circle cx="661.03" cy="312.40" r="2.3"/></g>
<rect x="465.40" y="203.30" width="204.50" height="145.80" fill="none" stroke="#ADADAD" stroke-width="1.1"/>
<text x="0" y="0" transform="translate(40.1 389.85) scale(0.92 1)" font-size="10.4" text-anchor="end" fill="#1a1a1a">30</text>
<text x="0" y="0" transform="translate(40.1 429.85) scale(0.92 1)" font-size="10.4" text-anchor="end" fill="#1a1a1a">20</text>
<text x="0" y="0" transform="translate(40.1 469.75) scale(0.92 1)" font-size="10.4" text-anchor="end" fill="#1a1a1a">10</text>
<line x1="44.90" y1="386.30" x2="249.50" y2="386.30" stroke="#D0D0D0" stroke-width="1.05"/>
<line x1="44.90" y1="426.30" x2="249.50" y2="426.30" stroke="#D0D0D0" stroke-width="1.05"/>
<line x1="44.90" y1="466.20" x2="249.50" y2="466.20" stroke="#D0D0D0" stroke-width="1.05"/>
<polyline points="54.10,432.90 60.12,433.30 66.13,432.90 72.15,431.80 78.17,430.90 84.19,431.40 90.20,432.60 96.22,434.00 102.24,434.70 108.25,434.50 114.27,434.20 120.29,434.60 126.30,434.90 132.32,434.90 138.34,435.30 144.36,435.80 150.37,436.90 156.39,438.00 162.41,438.40 168.42,439.32 174.44,440.40 180.46,441.24 186.47,441.90 192.49,442.26 198.51,442.60 204.53,443.17 210.54,443.80 216.56,444.39 222.58,444.90 228.59,445.23 234.61,445.60 240.63,446.40" fill="none" stroke="#E8453F" stroke-width="1.8" stroke-opacity="0.72" stroke-linejoin="round"/>
<polyline points="54.10,405.80 60.12,406.80 66.13,407.70 72.15,408.00 78.17,408.00 84.19,408.00 90.20,408.00 96.22,407.70 102.24,407.70 108.25,406.20 114.27,406.50 120.29,407.00 126.30,407.60 132.32,408.80 138.34,409.80 144.36,410.20 150.37,409.90 156.39,409.50 162.41,409.20 168.42,409.20 174.44,408.80 180.46,408.50 186.47,406.80 192.49,407.00 198.51,408.80 204.53,411.50 210.54,411.10 216.56,412.60 222.58,414.10 228.59,415.60 234.61,416.60 240.63,417.10" fill="none" stroke="#9C8CD3" stroke-width="1.8" stroke-opacity="0.72" stroke-linejoin="round"/>
<polyline points="54.10,440.10 60.12,440.10 66.13,440.10 72.15,439.99 78.17,439.80 84.19,439.60 90.20,439.30 96.22,438.80 102.24,438.80 108.25,438.60 114.27,438.20 120.29,441.20 126.30,442.50 132.32,443.10 138.34,443.10 144.36,444.10 150.37,443.60 156.39,443.10 162.41,443.80 168.42,445.10 174.44,445.50 180.46,445.30 186.47,444.80 192.49,445.00 198.51,445.50 204.53,446.17 210.54,446.80 216.56,447.28 222.58,447.60 228.59,447.75 234.61,447.86 240.63,447.90" fill="none" stroke="#20B9AB" stroke-width="1.8" stroke-opacity="0.72" stroke-linejoin="round"/>
<polyline points="54.10,456.40 60.12,457.00 66.13,458.30 72.15,459.20 78.17,460.90 84.19,462.35 90.20,463.60 96.22,464.64 102.24,465.50 108.25,466.13 114.27,466.70 120.29,467.30 126.30,467.90 132.32,468.48 138.34,469.10 144.36,469.80 150.37,470.60 156.39,471.65 162.41,472.70 168.42,473.48 174.44,474.20 180.46,474.97 186.47,475.70 192.49,476.32 198.51,476.90 204.53,477.53 210.54,478.10 216.56,478.53 222.58,478.90 228.59,479.25 234.61,479.60 240.63,480.00" fill="none" stroke="#E8B52A" stroke-width="1.8" stroke-opacity="0.72" stroke-linejoin="round"/>
<polyline points="54.10,434.70 60.12,435.10 66.13,435.10 72.15,435.60 78.17,436.30 84.19,436.80 90.20,437.20 96.22,437.90 102.24,438.10 108.25,437.90 114.27,438.10 120.29,438.80 126.30,438.50 132.32,438.43 138.34,438.40 144.36,438.69 150.37,439.10 156.39,439.30 162.41,439.50 168.42,439.83 174.44,440.20 180.46,440.51 186.47,440.80 192.49,441.07 198.51,441.40 204.53,442.01 210.54,442.60 216.56,442.89 222.58,443.10 228.59,443.30 234.61,443.40 240.63,443.40" fill="none" stroke="#2279C2" stroke-width="1.8" stroke-opacity="0.72" stroke-linejoin="round"/>
<polyline points="54.10,431.40 60.12,430.60 66.13,426.80 72.15,418.60 78.17,412.90 84.19,414.80 90.20,420.80 96.22,426.50 102.24,429.40 108.25,426.80 114.27,425.80 120.29,426.40 126.30,426.20 132.32,425.70 138.34,426.20 144.36,426.50 150.37,433.20 156.39,436.80 162.41,438.70 168.42,442.70 174.44,444.90 180.46,447.90 186.47,450.90 192.49,452.30 198.51,453.20 204.53,455.00 210.54,456.90 216.56,458.40 222.58,459.00 228.59,459.60 234.61,460.20 240.63,460.80" fill="none" stroke="#E31A95" stroke-width="1.8" stroke-opacity="0.72" stroke-linejoin="round"/>
<g fill="#E8453F" fill-opacity="0.85"><circle cx="54.10" cy="432.90" r="2.3"/><circle cx="60.12" cy="433.30" r="2.3"/><circle cx="66.13" cy="432.90" r="2.3"/><circle cx="72.15" cy="431.80" r="2.3"/><circle cx="78.17" cy="430.90" r="2.3"/><circle cx="84.19" cy="431.40" r="2.3"/><circle cx="90.20" cy="432.60" r="2.3"/><circle cx="96.22" cy="434.00" r="2.3"/><circle cx="102.24" cy="434.70" r="2.3"/><circle cx="108.25" cy="434.50" r="2.3"/><circle cx="114.27" cy="434.20" r="2.3"/><circle cx="120.29" cy="434.60" r="2.3"/><circle cx="126.30" cy="434.90" r="2.3"/><circle cx="132.32" cy="434.90" r="2.3"/><circle cx="138.34" cy="435.30" r="2.3"/><circle cx="144.36" cy="435.80" r="2.3"/><circle cx="150.37" cy="436.90" r="2.3"/><circle cx="156.39" cy="438.00" r="2.3"/><circle cx="162.41" cy="438.40" r="2.3"/><circle cx="168.42" cy="439.32" r="2.3"/><circle cx="174.44" cy="440.40" r="2.3"/><circle cx="180.46" cy="441.24" r="2.3"/><circle cx="186.47" cy="441.90" r="2.3"/><circle cx="192.49" cy="442.26" r="2.3"/><circle cx="198.51" cy="442.60" r="2.3"/><circle cx="204.53" cy="443.17" r="2.3"/><circle cx="210.54" cy="443.80" r="2.3"/><circle cx="216.56" cy="444.39" r="2.3"/><circle cx="222.58" cy="444.90" r="2.3"/><circle cx="228.59" cy="445.23" r="2.3"/><circle cx="234.61" cy="445.60" r="2.3"/><circle cx="240.63" cy="446.40" r="2.3"/></g>
<g fill="#9C8CD3" fill-opacity="0.85"><circle cx="54.10" cy="405.80" r="2.3"/><circle cx="60.12" cy="406.80" r="2.3"/><circle cx="66.13" cy="407.70" r="2.3"/><circle cx="72.15" cy="408.00" r="2.3"/><circle cx="78.17" cy="408.00" r="2.3"/><circle cx="84.19" cy="408.00" r="2.3"/><circle cx="90.20" cy="408.00" r="2.3"/><circle cx="96.22" cy="407.70" r="2.3"/><circle cx="102.24" cy="407.70" r="2.3"/><circle cx="108.25" cy="406.20" r="2.3"/><circle cx="114.27" cy="406.50" r="2.3"/><circle cx="120.29" cy="407.00" r="2.3"/><circle cx="126.30" cy="407.60" r="2.3"/><circle cx="132.32" cy="408.80" r="2.3"/><circle cx="138.34" cy="409.80" r="2.3"/><circle cx="144.36" cy="410.20" r="2.3"/><circle cx="150.37" cy="409.90" r="2.3"/><circle cx="156.39" cy="409.50" r="2.3"/><circle cx="162.41" cy="409.20" r="2.3"/><circle cx="168.42" cy="409.20" r="2.3"/><circle cx="174.44" cy="408.80" r="2.3"/><circle cx="180.46" cy="408.50" r="2.3"/><circle cx="186.47" cy="406.80" r="2.3"/><circle cx="192.49" cy="407.00" r="2.3"/><circle cx="198.51" cy="408.80" r="2.3"/><circle cx="204.53" cy="411.50" r="2.3"/><circle cx="210.54" cy="411.10" r="2.3"/><circle cx="216.56" cy="412.60" r="2.3"/><circle cx="222.58" cy="414.10" r="2.3"/><circle cx="228.59" cy="415.60" r="2.3"/><circle cx="234.61" cy="416.60" r="2.3"/><circle cx="240.63" cy="417.10" r="2.3"/></g>
<g fill="#20B9AB" fill-opacity="0.85"><circle cx="54.10" cy="440.10" r="2.3"/><circle cx="60.12" cy="440.10" r="2.3"/><circle cx="66.13" cy="440.10" r="2.3"/><circle cx="72.15" cy="439.99" r="2.3"/><circle cx="78.17" cy="439.80" r="2.3"/><circle cx="84.19" cy="439.60" r="2.3"/><circle cx="90.20" cy="439.30" r="2.3"/><circle cx="96.22" cy="438.80" r="2.3"/><circle cx="102.24" cy="438.80" r="2.3"/><circle cx="108.25" cy="438.60" r="2.3"/><circle cx="114.27" cy="438.20" r="2.3"/><circle cx="120.29" cy="441.20" r="2.3"/><circle cx="126.30" cy="442.50" r="2.3"/><circle cx="132.32" cy="443.10" r="2.3"/><circle cx="138.34" cy="443.10" r="2.3"/><circle cx="144.36" cy="444.10" r="2.3"/><circle cx="150.37" cy="443.60" r="2.3"/><circle cx="156.39" cy="443.10" r="2.3"/><circle cx="162.41" cy="443.80" r="2.3"/><circle cx="168.42" cy="445.10" r="2.3"/><circle cx="174.44" cy="445.50" r="2.3"/><circle cx="180.46" cy="445.30" r="2.3"/><circle cx="186.47" cy="444.80" r="2.3"/><circle cx="192.49" cy="445.00" r="2.3"/><circle cx="198.51" cy="445.50" r="2.3"/><circle cx="204.53" cy="446.17" r="2.3"/><circle cx="210.54" cy="446.80" r="2.3"/><circle cx="216.56" cy="447.28" r="2.3"/><circle cx="222.58" cy="447.60" r="2.3"/><circle cx="228.59" cy="447.75" r="2.3"/><circle cx="234.61" cy="447.86" r="2.3"/><circle cx="240.63" cy="447.90" r="2.3"/></g>
<g fill="#E8B52A" fill-opacity="0.85"><circle cx="54.10" cy="456.40" r="2.3"/><circle cx="60.12" cy="457.00" r="2.3"/><circle cx="66.13" cy="458.30" r="2.3"/><circle cx="72.15" cy="459.20" r="2.3"/><circle cx="78.17" cy="460.90" r="2.3"/><circle cx="84.19" cy="462.35" r="2.3"/><circle cx="90.20" cy="463.60" r="2.3"/><circle cx="96.22" cy="464.64" r="2.3"/><circle cx="102.24" cy="465.50" r="2.3"/><circle cx="108.25" cy="466.13" r="2.3"/><circle cx="114.27" cy="466.70" r="2.3"/><circle cx="120.29" cy="467.30" r="2.3"/><circle cx="126.30" cy="467.90" r="2.3"/><circle cx="132.32" cy="468.48" r="2.3"/><circle cx="138.34" cy="469.10" r="2.3"/><circle cx="144.36" cy="469.80" r="2.3"/><circle cx="150.37" cy="470.60" r="2.3"/><circle cx="156.39" cy="471.65" r="2.3"/><circle cx="162.41" cy="472.70" r="2.3"/><circle cx="168.42" cy="473.48" r="2.3"/><circle cx="174.44" cy="474.20" r="2.3"/><circle cx="180.46" cy="474.97" r="2.3"/><circle cx="186.47" cy="475.70" r="2.3"/><circle cx="192.49" cy="476.32" r="2.3"/><circle cx="198.51" cy="476.90" r="2.3"/><circle cx="204.53" cy="477.53" r="2.3"/><circle cx="210.54" cy="478.10" r="2.3"/><circle cx="216.56" cy="478.53" r="2.3"/><circle cx="222.58" cy="478.90" r="2.3"/><circle cx="228.59" cy="479.25" r="2.3"/><circle cx="234.61" cy="479.60" r="2.3"/><circle cx="240.63" cy="480.00" r="2.3"/></g>
<g fill="#2279C2" fill-opacity="0.85"><circle cx="54.10" cy="434.70" r="2.3"/><circle cx="60.12" cy="435.10" r="2.3"/><circle cx="66.13" cy="435.10" r="2.3"/><circle cx="72.15" cy="435.60" r="2.3"/><circle cx="78.17" cy="436.30" r="2.3"/><circle cx="84.19" cy="436.80" r="2.3"/><circle cx="90.20" cy="437.20" r="2.3"/><circle cx="96.22" cy="437.90" r="2.3"/><circle cx="102.24" cy="438.10" r="2.3"/><circle cx="108.25" cy="437.90" r="2.3"/><circle cx="114.27" cy="438.10" r="2.3"/><circle cx="120.29" cy="438.80" r="2.3"/><circle cx="126.30" cy="438.50" r="2.3"/><circle cx="132.32" cy="438.43" r="2.3"/><circle cx="138.34" cy="438.40" r="2.3"/><circle cx="144.36" cy="438.69" r="2.3"/><circle cx="150.37" cy="439.10" r="2.3"/><circle cx="156.39" cy="439.30" r="2.3"/><circle cx="162.41" cy="439.50" r="2.3"/><circle cx="168.42" cy="439.83" r="2.3"/><circle cx="174.44" cy="440.20" r="2.3"/><circle cx="180.46" cy="440.51" r="2.3"/><circle cx="186.47" cy="440.80" r="2.3"/><circle cx="192.49" cy="441.07" r="2.3"/><circle cx="198.51" cy="441.40" r="2.3"/><circle cx="204.53" cy="442.01" r="2.3"/><circle cx="210.54" cy="442.60" r="2.3"/><circle cx="216.56" cy="442.89" r="2.3"/><circle cx="222.58" cy="443.10" r="2.3"/><circle cx="228.59" cy="443.30" r="2.3"/><circle cx="234.61" cy="443.40" r="2.3"/><circle cx="240.63" cy="443.40" r="2.3"/></g>
<g fill="#E31A95" fill-opacity="0.85"><circle cx="54.10" cy="431.40" r="2.3"/><circle cx="60.12" cy="430.60" r="2.3"/><circle cx="66.13" cy="426.80" r="2.3"/><circle cx="72.15" cy="418.60" r="2.3"/><circle cx="78.17" cy="412.90" r="2.3"/><circle cx="84.19" cy="414.80" r="2.3"/><circle cx="90.20" cy="420.80" r="2.3"/><circle cx="96.22" cy="426.50" r="2.3"/><circle cx="102.24" cy="429.40" r="2.3"/><circle cx="108.25" cy="426.80" r="2.3"/><circle cx="114.27" cy="425.80" r="2.3"/><circle cx="120.29" cy="426.40" r="2.3"/><circle cx="126.30" cy="426.20" r="2.3"/><circle cx="132.32" cy="425.70" r="2.3"/><circle cx="138.34" cy="426.20" r="2.3"/><circle cx="144.36" cy="426.50" r="2.3"/><circle cx="150.37" cy="433.20" r="2.3"/><circle cx="156.39" cy="436.80" r="2.3"/><circle cx="162.41" cy="438.70" r="2.3"/><circle cx="168.42" cy="442.70" r="2.3"/><circle cx="174.44" cy="444.90" r="2.3"/><circle cx="180.46" cy="447.90" r="2.3"/><circle cx="186.47" cy="450.90" r="2.3"/><circle cx="192.49" cy="452.30" r="2.3"/><circle cx="198.51" cy="453.20" r="2.3"/><circle cx="204.53" cy="455.00" r="2.3"/><circle cx="210.54" cy="456.90" r="2.3"/><circle cx="216.56" cy="458.40" r="2.3"/><circle cx="222.58" cy="459.00" r="2.3"/><circle cx="228.59" cy="459.60" r="2.3"/><circle cx="234.61" cy="460.20" r="2.3"/><circle cx="240.63" cy="460.80" r="2.3"/></g>
<rect x="44.90" y="355.30" width="204.60" height="145.15" fill="none" stroke="#ADADAD" stroke-width="1.1"/>
<line x1="255.30" y1="386.30" x2="459.60" y2="386.30" stroke="#D0D0D0" stroke-width="1.05"/>
<line x1="255.30" y1="426.30" x2="459.60" y2="426.30" stroke="#D0D0D0" stroke-width="1.05"/>
<line x1="255.30" y1="466.20" x2="459.60" y2="466.20" stroke="#D0D0D0" stroke-width="1.05"/>
<polyline points="264.40,406.10 270.42,406.10 276.43,405.30 282.45,402.90 288.47,401.10 294.48,401.90 300.50,403.80 306.52,406.40 312.54,407.40 318.55,405.60 324.57,405.30 330.59,406.40 336.60,406.40 342.62,406.40 348.64,406.40 354.65,406.30 360.67,407.70 366.69,408.70 372.71,409.70 378.72,411.30 384.74,411.80 390.76,413.30 396.77,413.80 402.79,414.90 408.81,416.40 414.82,418.00 420.84,418.60 426.86,419.40 432.88,420.10 438.89,420.80 444.91,421.40 450.93,421.60" fill="none" stroke="#E8453F" stroke-width="1.8" stroke-opacity="0.72" stroke-linejoin="round"/>
<polyline points="264.40,383.80 270.42,384.60 276.43,385.30 282.45,385.00 288.47,384.30 294.48,384.30 300.50,383.40 306.52,381.60 312.54,380.80 318.55,378.30 324.57,378.30 330.59,378.30 336.60,378.90 342.62,380.80 348.64,380.80 354.65,379.80 360.67,377.40 366.69,376.00 372.71,375.50 378.72,375.20 384.74,374.50 390.76,372.50 396.77,370.70 402.79,372.10 408.81,376.40 414.82,379.60 420.84,379.30 426.86,380.30 432.88,381.50 438.89,383.00 444.91,384.10 450.93,384.10" fill="none" stroke="#9C8CD3" stroke-width="1.8" stroke-opacity="0.72" stroke-linejoin="round"/>
<polyline points="264.40,427.00 270.42,427.00 276.43,427.60 282.45,427.00 288.47,426.10 294.48,424.90 300.50,424.00 306.52,424.00 312.54,424.90 318.55,423.40 324.57,423.40 330.59,426.10 336.60,427.60 342.62,427.60 348.64,427.00 354.65,427.80 360.67,427.40 366.69,425.60 372.71,426.50 378.72,427.30 384.74,427.70 390.76,427.10 396.77,425.90 402.79,426.30 408.81,428.40 414.82,428.10 420.84,428.40 426.86,428.40 432.88,428.40 438.89,428.70 444.91,428.70 450.93,428.70" fill="none" stroke="#20B9AB" stroke-width="1.8" stroke-opacity="0.72" stroke-linejoin="round"/>
<polyline points="264.40,427.00 270.42,427.60 276.43,429.40 282.45,432.10 288.47,434.50 294.48,436.60 300.50,439.00 306.52,441.00 312.54,442.50 318.55,443.40 324.57,444.90 330.59,445.98 336.60,447.00 342.62,448.20 348.64,449.40 354.65,450.42 360.67,451.50 366.69,452.98 372.71,454.50 378.72,455.75 384.74,456.90 390.76,457.95 396.77,459.00 402.79,460.25 408.81,461.40 414.82,462.24 420.84,462.90 426.86,463.35 432.88,463.80 438.89,464.53 444.91,465.30 450.93,465.90" fill="none" stroke="#E8B52A" stroke-width="1.8" stroke-opacity="0.72" stroke-linejoin="round"/>
<polyline points="264.40,412.00 270.42,412.00 276.43,412.00 282.45,412.00 288.47,412.40 294.48,412.40 300.50,412.00 306.52,412.90 312.54,412.90 318.55,412.00 324.57,412.00 330.59,412.40 336.60,411.70 342.62,410.90 348.64,410.20 354.65,410.20 360.67,410.60 366.69,410.30 372.71,410.50 378.72,411.40 384.74,411.20 390.76,411.20 396.77,410.90 402.79,410.70 408.81,412.70 414.82,413.80 420.84,413.90 426.86,414.60 432.88,415.40 438.89,416.10 444.91,416.90 450.93,416.40" fill="none" stroke="#2279C2" stroke-width="1.8" stroke-opacity="0.72" stroke-linejoin="round"/>
<polyline points="264.40,392.40 270.42,390.90 276.43,384.30 282.45,370.00 288.47,361.30 294.48,364.70 300.50,374.10 306.52,384.30 312.54,388.00 318.55,384.30 324.57,382.00 330.59,383.80 336.60,383.10 342.62,381.90 348.64,382.80 354.65,382.80 360.67,393.20 366.69,398.90 372.71,401.40 378.72,407.90 384.74,410.80 390.76,416.30 396.77,420.40 402.79,422.70 408.81,423.50 414.82,426.90 420.84,429.70 426.86,430.90 432.88,432.00 438.89,433.40 444.91,434.50 450.93,435.50" fill="none" stroke="#E31A95" stroke-width="1.8" stroke-opacity="0.72" stroke-linejoin="round"/>
<g fill="#E8453F" fill-opacity="0.85"><circle cx="264.40" cy="406.10" r="2.3"/><circle cx="270.42" cy="406.10" r="2.3"/><circle cx="276.43" cy="405.30" r="2.3"/><circle cx="282.45" cy="402.90" r="2.3"/><circle cx="288.47" cy="401.10" r="2.3"/><circle cx="294.48" cy="401.90" r="2.3"/><circle cx="300.50" cy="403.80" r="2.3"/><circle cx="306.52" cy="406.40" r="2.3"/><circle cx="312.54" cy="407.40" r="2.3"/><circle cx="318.55" cy="405.60" r="2.3"/><circle cx="324.57" cy="405.30" r="2.3"/><circle cx="330.59" cy="406.40" r="2.3"/><circle cx="336.60" cy="406.40" r="2.3"/><circle cx="342.62" cy="406.40" r="2.3"/><circle cx="348.64" cy="406.40" r="2.3"/><circle cx="354.65" cy="406.30" r="2.3"/><circle cx="360.67" cy="407.70" r="2.3"/><circle cx="366.69" cy="408.70" r="2.3"/><circle cx="372.71" cy="409.70" r="2.3"/><circle cx="378.72" cy="411.30" r="2.3"/><circle cx="384.74" cy="411.80" r="2.3"/><circle cx="390.76" cy="413.30" r="2.3"/><circle cx="396.77" cy="413.80" r="2.3"/><circle cx="402.79" cy="414.90" r="2.3"/><circle cx="408.81" cy="416.40" r="2.3"/><circle cx="414.82" cy="418.00" r="2.3"/><circle cx="420.84" cy="418.60" r="2.3"/><circle cx="426.86" cy="419.40" r="2.3"/><circle cx="432.88" cy="420.10" r="2.3"/><circle cx="438.89" cy="420.80" r="2.3"/><circle cx="444.91" cy="421.40" r="2.3"/><circle cx="450.93" cy="421.60" r="2.3"/></g>
<g fill="#9C8CD3" fill-opacity="0.85"><circle cx="264.40" cy="383.80" r="2.3"/><circle cx="270.42" cy="384.60" r="2.3"/><circle cx="276.43" cy="385.30" r="2.3"/><circle cx="282.45" cy="385.00" r="2.3"/><circle cx="288.47" cy="384.30" r="2.3"/><circle cx="294.48" cy="384.30" r="2.3"/><circle cx="300.50" cy="383.40" r="2.3"/><circle cx="306.52" cy="381.60" r="2.3"/><circle cx="312.54" cy="380.80" r="2.3"/><circle cx="318.55" cy="378.30" r="2.3"/><circle cx="324.57" cy="378.30" r="2.3"/><circle cx="330.59" cy="378.30" r="2.3"/><circle cx="336.60" cy="378.90" r="2.3"/><circle cx="342.62" cy="380.80" r="2.3"/><circle cx="348.64" cy="380.80" r="2.3"/><circle cx="354.65" cy="379.80" r="2.3"/><circle cx="360.67" cy="377.40" r="2.3"/><circle cx="366.69" cy="376.00" r="2.3"/><circle cx="372.71" cy="375.50" r="2.3"/><circle cx="378.72" cy="375.20" r="2.3"/><circle cx="384.74" cy="374.50" r="2.3"/><circle cx="390.76" cy="372.50" r="2.3"/><circle cx="396.77" cy="370.70" r="2.3"/><circle cx="402.79" cy="372.10" r="2.3"/><circle cx="408.81" cy="376.40" r="2.3"/><circle cx="414.82" cy="379.60" r="2.3"/><circle cx="420.84" cy="379.30" r="2.3"/><circle cx="426.86" cy="380.30" r="2.3"/><circle cx="432.88" cy="381.50" r="2.3"/><circle cx="438.89" cy="383.00" r="2.3"/><circle cx="444.91" cy="384.10" r="2.3"/><circle cx="450.93" cy="384.10" r="2.3"/></g>
<g fill="#20B9AB" fill-opacity="0.85"><circle cx="264.40" cy="427.00" r="2.3"/><circle cx="270.42" cy="427.00" r="2.3"/><circle cx="276.43" cy="427.60" r="2.3"/><circle cx="282.45" cy="427.00" r="2.3"/><circle cx="288.47" cy="426.10" r="2.3"/><circle cx="294.48" cy="424.90" r="2.3"/><circle cx="300.50" cy="424.00" r="2.3"/><circle cx="306.52" cy="424.00" r="2.3"/><circle cx="312.54" cy="424.90" r="2.3"/><circle cx="318.55" cy="423.40" r="2.3"/><circle cx="324.57" cy="423.40" r="2.3"/><circle cx="330.59" cy="426.10" r="2.3"/><circle cx="336.60" cy="427.60" r="2.3"/><circle cx="342.62" cy="427.60" r="2.3"/><circle cx="348.64" cy="427.00" r="2.3"/><circle cx="354.65" cy="427.80" r="2.3"/><circle cx="360.67" cy="427.40" r="2.3"/><circle cx="366.69" cy="425.60" r="2.3"/><circle cx="372.71" cy="426.50" r="2.3"/><circle cx="378.72" cy="427.30" r="2.3"/><circle cx="384.74" cy="427.70" r="2.3"/><circle cx="390.76" cy="427.10" r="2.3"/><circle cx="396.77" cy="425.90" r="2.3"/><circle cx="402.79" cy="426.30" r="2.3"/><circle cx="408.81" cy="428.40" r="2.3"/><circle cx="414.82" cy="428.10" r="2.3"/><circle cx="420.84" cy="428.40" r="2.3"/><circle cx="426.86" cy="428.40" r="2.3"/><circle cx="432.88" cy="428.40" r="2.3"/><circle cx="438.89" cy="428.70" r="2.3"/><circle cx="444.91" cy="428.70" r="2.3"/><circle cx="450.93" cy="428.70" r="2.3"/></g>
<g fill="#E8B52A" fill-opacity="0.85"><circle cx="264.40" cy="427.00" r="2.3"/><circle cx="270.42" cy="427.60" r="2.3"/><circle cx="276.43" cy="429.40" r="2.3"/><circle cx="282.45" cy="432.10" r="2.3"/><circle cx="288.47" cy="434.50" r="2.3"/><circle cx="294.48" cy="436.60" r="2.3"/><circle cx="300.50" cy="439.00" r="2.3"/><circle cx="306.52" cy="441.00" r="2.3"/><circle cx="312.54" cy="442.50" r="2.3"/><circle cx="318.55" cy="443.40" r="2.3"/><circle cx="324.57" cy="444.90" r="2.3"/><circle cx="330.59" cy="445.98" r="2.3"/><circle cx="336.60" cy="447.00" r="2.3"/><circle cx="342.62" cy="448.20" r="2.3"/><circle cx="348.64" cy="449.40" r="2.3"/><circle cx="354.65" cy="450.42" r="2.3"/><circle cx="360.67" cy="451.50" r="2.3"/><circle cx="366.69" cy="452.98" r="2.3"/><circle cx="372.71" cy="454.50" r="2.3"/><circle cx="378.72" cy="455.75" r="2.3"/><circle cx="384.74" cy="456.90" r="2.3"/><circle cx="390.76" cy="457.95" r="2.3"/><circle cx="396.77" cy="459.00" r="2.3"/><circle cx="402.79" cy="460.25" r="2.3"/><circle cx="408.81" cy="461.40" r="2.3"/><circle cx="414.82" cy="462.24" r="2.3"/><circle cx="420.84" cy="462.90" r="2.3"/><circle cx="426.86" cy="463.35" r="2.3"/><circle cx="432.88" cy="463.80" r="2.3"/><circle cx="438.89" cy="464.53" r="2.3"/><circle cx="444.91" cy="465.30" r="2.3"/><circle cx="450.93" cy="465.90" r="2.3"/></g>
<g fill="#2279C2" fill-opacity="0.85"><circle cx="264.40" cy="412.00" r="2.3"/><circle cx="270.42" cy="412.00" r="2.3"/><circle cx="276.43" cy="412.00" r="2.3"/><circle cx="282.45" cy="412.00" r="2.3"/><circle cx="288.47" cy="412.40" r="2.3"/><circle cx="294.48" cy="412.40" r="2.3"/><circle cx="300.50" cy="412.00" r="2.3"/><circle cx="306.52" cy="412.90" r="2.3"/><circle cx="312.54" cy="412.90" r="2.3"/><circle cx="318.55" cy="412.00" r="2.3"/><circle cx="324.57" cy="412.00" r="2.3"/><circle cx="330.59" cy="412.40" r="2.3"/><circle cx="336.60" cy="411.70" r="2.3"/><circle cx="342.62" cy="410.90" r="2.3"/><circle cx="348.64" cy="410.20" r="2.3"/><circle cx="354.65" cy="410.20" r="2.3"/><circle cx="360.67" cy="410.60" r="2.3"/><circle cx="366.69" cy="410.30" r="2.3"/><circle cx="372.71" cy="410.50" r="2.3"/><circle cx="378.72" cy="411.40" r="2.3"/><circle cx="384.74" cy="411.20" r="2.3"/><circle cx="390.76" cy="411.20" r="2.3"/><circle cx="396.77" cy="410.90" r="2.3"/><circle cx="402.79" cy="410.70" r="2.3"/><circle cx="408.81" cy="412.70" r="2.3"/><circle cx="414.82" cy="413.80" r="2.3"/><circle cx="420.84" cy="413.90" r="2.3"/><circle cx="426.86" cy="414.60" r="2.3"/><circle cx="432.88" cy="415.40" r="2.3"/><circle cx="438.89" cy="416.10" r="2.3"/><circle cx="444.91" cy="416.90" r="2.3"/><circle cx="450.93" cy="416.40" r="2.3"/></g>
<g fill="#E31A95" fill-opacity="0.85"><circle cx="264.40" cy="392.40" r="2.3"/><circle cx="270.42" cy="390.90" r="2.3"/><circle cx="276.43" cy="384.30" r="2.3"/><circle cx="282.45" cy="370.00" r="2.3"/><circle cx="288.47" cy="361.30" r="2.3"/><circle cx="294.48" cy="364.70" r="2.3"/><circle cx="300.50" cy="374.10" r="2.3"/><circle cx="306.52" cy="384.30" r="2.3"/><circle cx="312.54" cy="388.00" r="2.3"/><circle cx="318.55" cy="384.30" r="2.3"/><circle cx="324.57" cy="382.00" r="2.3"/><circle cx="330.59" cy="383.80" r="2.3"/><circle cx="336.60" cy="383.10" r="2.3"/><circle cx="342.62" cy="381.90" r="2.3"/><circle cx="348.64" cy="382.80" r="2.3"/><circle cx="354.65" cy="382.80" r="2.3"/><circle cx="360.67" cy="393.20" r="2.3"/><circle cx="366.69" cy="398.90" r="2.3"/><circle cx="372.71" cy="401.40" r="2.3"/><circle cx="378.72" cy="407.90" r="2.3"/><circle cx="384.74" cy="410.80" r="2.3"/><circle cx="390.76" cy="416.30" r="2.3"/><circle cx="396.77" cy="420.40" r="2.3"/><circle cx="402.79" cy="422.70" r="2.3"/><circle cx="408.81" cy="423.50" r="2.3"/><circle cx="414.82" cy="426.90" r="2.3"/><circle cx="420.84" cy="429.70" r="2.3"/><circle cx="426.86" cy="430.90" r="2.3"/><circle cx="432.88" cy="432.00" r="2.3"/><circle cx="438.89" cy="433.40" r="2.3"/><circle cx="444.91" cy="434.50" r="2.3"/><circle cx="450.93" cy="435.50" r="2.3"/></g>
<rect x="255.30" y="355.30" width="204.30" height="145.15" fill="none" stroke="#ADADAD" stroke-width="1.1"/>
<line x1="465.40" y1="386.30" x2="669.90" y2="386.30" stroke="#D0D0D0" stroke-width="1.05"/>
<line x1="465.40" y1="426.30" x2="669.90" y2="426.30" stroke="#D0D0D0" stroke-width="1.05"/>
<line x1="465.40" y1="466.20" x2="669.90" y2="466.20" stroke="#D0D0D0" stroke-width="1.05"/>
<polyline points="474.50,460.90 480.52,461.70 486.53,461.70 492.55,461.70 498.57,461.40 504.58,462.00 510.60,462.40 516.62,462.90 522.64,463.50 528.65,463.90 534.67,464.40 540.69,465.00 546.70,465.40 552.72,465.90 558.74,466.20 564.75,466.90 570.77,467.70 576.79,468.08 582.81,468.40 588.82,468.84 594.84,469.20 600.86,469.36 606.87,469.50 612.89,469.68 618.91,469.90 624.92,470.25 630.94,470.70 636.96,471.32 642.98,471.90 648.99,472.30 655.01,472.50 661.03,472.20" fill="none" stroke="#E8453F" stroke-width="1.8" stroke-opacity="0.72" stroke-linejoin="round"/>
<polyline points="474.50,428.60 480.52,430.50 486.53,431.10 492.55,432.30 498.57,432.80 504.58,433.40 510.60,433.80 516.62,434.60 522.64,435.30 528.65,435.00 534.67,436.10 540.69,436.80 546.70,436.80 552.72,438.80 558.74,440.30 564.75,442.10 570.77,442.90 576.79,443.90 582.81,443.60 588.82,443.90 594.84,443.90 600.86,444.80 606.87,443.30 612.89,442.10 618.91,442.40 624.92,443.30 630.94,443.30 636.96,445.10 642.98,446.60 648.99,448.10 655.01,448.90 661.03,449.60" fill="none" stroke="#9C8CD3" stroke-width="1.8" stroke-opacity="0.72" stroke-linejoin="round"/>
<polyline points="474.50,452.60 480.52,452.90 486.53,453.40 492.55,453.40 498.57,452.90 504.58,452.90 510.60,452.90 516.62,452.90 522.64,452.90 528.65,452.60 534.67,452.90 540.69,455.30 546.70,456.70 552.72,458.20 558.74,458.30 564.75,459.70 570.77,459.80 576.79,460.50 582.81,460.90 588.82,462.00 594.84,463.50 600.86,463.50 606.87,462.00 612.89,462.90 618.91,463.90 624.92,464.70 630.94,465.00 636.96,465.90 642.98,466.50 648.99,467.40 655.01,467.40 661.03,467.40" fill="none" stroke="#20B9AB" stroke-width="1.8" stroke-opacity="0.72" stroke-linejoin="round"/>
<polyline points="474.50,487.00 480.52,487.27 486.53,487.50 492.55,487.68 498.57,487.83 504.58,488.00 510.60,488.22 516.62,488.49 522.64,488.77 528.65,489.04 534.67,489.30 540.69,489.53 546.70,489.74 552.72,489.95 558.74,490.17 564.75,490.40 570.77,490.67 576.79,490.96 582.81,491.26 588.82,491.54 594.84,491.80 600.86,492.02 606.87,492.22 612.89,492.42 618.91,492.61 624.92,492.80 630.94,493.00 636.96,493.20 642.98,493.40 648.99,493.60 655.01,493.80 661.03,494.00" fill="none" stroke="#E8B52A" stroke-width="1.8" stroke-opacity="0.72" stroke-linejoin="round"/>
<polyline points="474.50,458.60 480.52,459.70 486.53,460.20 492.55,460.90 498.57,461.70 504.58,462.00 510.60,462.40 516.62,463.20 522.64,463.90 528.65,464.40 534.67,465.00 540.69,465.40 546.70,465.70 552.72,466.20 558.74,466.90 564.75,467.70 570.77,468.40 576.79,468.68 582.81,468.90 588.82,469.21 594.84,469.50 600.86,469.76 606.87,469.90 612.89,469.90 618.91,469.90 624.92,470.21 630.94,470.70 636.96,471.07 642.98,471.40 648.99,471.72 655.01,471.90 661.03,471.90" fill="none" stroke="#2279C2" stroke-width="1.8" stroke-opacity="0.72" stroke-linejoin="round"/>
<polyline points="474.50,472.20 480.52,472.20 486.53,471.00 492.55,467.70 498.57,465.40 504.58,466.20 510.60,468.90 516.62,470.70 522.64,471.40 528.65,470.40 534.67,469.90 540.69,470.40 546.70,469.90 552.72,470.40 558.74,470.40 564.75,471.40 570.77,473.40 576.79,475.50 582.81,476.70 588.82,477.90 594.84,478.50 600.86,479.70 606.87,480.90 612.89,482.00 618.91,482.70 624.92,483.50 630.94,484.50 636.96,485.40 642.98,486.00 648.99,486.50 655.01,486.90 661.03,487.20" fill="none" stroke="#E31A95" stroke-width="1.8" stroke-opacity="0.72" stroke-linejoin="round"/>
<g fill="#E8453F" fill-opacity="0.85"><circle cx="474.50" cy="460.90" r="2.3"/><circle cx="480.52" cy="461.70" r="2.3"/><circle cx="486.53" cy="461.70" r="2.3"/><circle cx="492.55" cy="461.70" r="2.3"/><circle cx="498.57" cy="461.40" r="2.3"/><circle cx="504.58" cy="462.00" r="2.3"/><circle cx="510.60" cy="462.40" r="2.3"/><circle cx="516.62" cy="462.90" r="2.3"/><circle cx="522.64" cy="463.50" r="2.3"/><circle cx="528.65" cy="463.90" r="2.3"/><circle cx="534.67" cy="464.40" r="2.3"/><circle cx="540.69" cy="465.00" r="2.3"/><circle cx="546.70" cy="465.40" r="2.3"/><circle cx="552.72" cy="465.90" r="2.3"/><circle cx="558.74" cy="466.20" r="2.3"/><circle cx="564.75" cy="466.90" r="2.3"/><circle cx="570.77" cy="467.70" r="2.3"/><circle cx="576.79" cy="468.08" r="2.3"/><circle cx="582.81" cy="468.40" r="2.3"/><circle cx="588.82" cy="468.84" r="2.3"/><circle cx="594.84" cy="469.20" r="2.3"/><circle cx="600.86" cy="469.36" r="2.3"/><circle cx="606.87" cy="469.50" r="2.3"/><circle cx="612.89" cy="469.68" r="2.3"/><circle cx="618.91" cy="469.90" r="2.3"/><circle cx="624.92" cy="470.25" r="2.3"/><circle cx="630.94" cy="470.70" r="2.3"/><circle cx="636.96" cy="471.32" r="2.3"/><circle cx="642.98" cy="471.90" r="2.3"/><circle cx="648.99" cy="472.30" r="2.3"/><circle cx="655.01" cy="472.50" r="2.3"/><circle cx="661.03" cy="472.20" r="2.3"/></g>
<g fill="#9C8CD3" fill-opacity="0.85"><circle cx="474.50" cy="428.60" r="2.3"/><circle cx="480.52" cy="430.50" r="2.3"/><circle cx="486.53" cy="431.10" r="2.3"/><circle cx="492.55" cy="432.30" r="2.3"/><circle cx="498.57" cy="432.80" r="2.3"/><circle cx="504.58" cy="433.40" r="2.3"/><circle cx="510.60" cy="433.80" r="2.3"/><circle cx="516.62" cy="434.60" r="2.3"/><circle cx="522.64" cy="435.30" r="2.3"/><circle cx="528.65" cy="435.00" r="2.3"/><circle cx="534.67" cy="436.10" r="2.3"/><circle cx="540.69" cy="436.80" r="2.3"/><circle cx="546.70" cy="436.80" r="2.3"/><circle cx="552.72" cy="438.80" r="2.3"/><circle cx="558.74" cy="440.30" r="2.3"/><circle cx="564.75" cy="442.10" r="2.3"/><circle cx="570.77" cy="442.90" r="2.3"/><circle cx="576.79" cy="443.90" r="2.3"/><circle cx="582.81" cy="443.60" r="2.3"/><circle cx="588.82" cy="443.90" r="2.3"/><circle cx="594.84" cy="443.90" r="2.3"/><circle cx="600.86" cy="444.80" r="2.3"/><circle cx="606.87" cy="443.30" r="2.3"/><circle cx="612.89" cy="442.10" r="2.3"/><circle cx="618.91" cy="442.40" r="2.3"/><circle cx="624.92" cy="443.30" r="2.3"/><circle cx="630.94" cy="443.30" r="2.3"/><circle cx="636.96" cy="445.10" r="2.3"/><circle cx="642.98" cy="446.60" r="2.3"/><circle cx="648.99" cy="448.10" r="2.3"/><circle cx="655.01" cy="448.90" r="2.3"/><circle cx="661.03" cy="449.60" r="2.3"/></g>
<g fill="#20B9AB" fill-opacity="0.85"><circle cx="474.50" cy="452.60" r="2.3"/><circle cx="480.52" cy="452.90" r="2.3"/><circle cx="486.53" cy="453.40" r="2.3"/><circle cx="492.55" cy="453.40" r="2.3"/><circle cx="498.57" cy="452.90" r="2.3"/><circle cx="504.58" cy="452.90" r="2.3"/><circle cx="510.60" cy="452.90" r="2.3"/><circle cx="516.62" cy="452.90" r="2.3"/><circle cx="522.64" cy="452.90" r="2.3"/><circle cx="528.65" cy="452.60" r="2.3"/><circle cx="534.67" cy="452.90" r="2.3"/><circle cx="540.69" cy="455.30" r="2.3"/><circle cx="546.70" cy="456.70" r="2.3"/><circle cx="552.72" cy="458.20" r="2.3"/><circle cx="558.74" cy="458.30" r="2.3"/><circle cx="564.75" cy="459.70" r="2.3"/><circle cx="570.77" cy="459.80" r="2.3"/><circle cx="576.79" cy="460.50" r="2.3"/><circle cx="582.81" cy="460.90" r="2.3"/><circle cx="588.82" cy="462.00" r="2.3"/><circle cx="594.84" cy="463.50" r="2.3"/><circle cx="600.86" cy="463.50" r="2.3"/><circle cx="606.87" cy="462.00" r="2.3"/><circle cx="612.89" cy="462.90" r="2.3"/><circle cx="618.91" cy="463.90" r="2.3"/><circle cx="624.92" cy="464.70" r="2.3"/><circle cx="630.94" cy="465.00" r="2.3"/><circle cx="636.96" cy="465.90" r="2.3"/><circle cx="642.98" cy="466.50" r="2.3"/><circle cx="648.99" cy="467.40" r="2.3"/><circle cx="655.01" cy="467.40" r="2.3"/><circle cx="661.03" cy="467.40" r="2.3"/></g>
<g fill="#E8B52A" fill-opacity="0.85"><circle cx="474.50" cy="487.00" r="2.3"/><circle cx="480.52" cy="487.27" r="2.3"/><circle cx="486.53" cy="487.50" r="2.3"/><circle cx="492.55" cy="487.68" r="2.3"/><circle cx="498.57" cy="487.83" r="2.3"/><circle cx="504.58" cy="488.00" r="2.3"/><circle cx="510.60" cy="488.22" r="2.3"/><circle cx="516.62" cy="488.49" r="2.3"/><circle cx="522.64" cy="488.77" r="2.3"/><circle cx="528.65" cy="489.04" r="2.3"/><circle cx="534.67" cy="489.30" r="2.3"/><circle cx="540.69" cy="489.53" r="2.3"/><circle cx="546.70" cy="489.74" r="2.3"/><circle cx="552.72" cy="489.95" r="2.3"/><circle cx="558.74" cy="490.17" r="2.3"/><circle cx="564.75" cy="490.40" r="2.3"/><circle cx="570.77" cy="490.67" r="2.3"/><circle cx="576.79" cy="490.96" r="2.3"/><circle cx="582.81" cy="491.26" r="2.3"/><circle cx="588.82" cy="491.54" r="2.3"/><circle cx="594.84" cy="491.80" r="2.3"/><circle cx="600.86" cy="492.02" r="2.3"/><circle cx="606.87" cy="492.22" r="2.3"/><circle cx="612.89" cy="492.42" r="2.3"/><circle cx="618.91" cy="492.61" r="2.3"/><circle cx="624.92" cy="492.80" r="2.3"/><circle cx="630.94" cy="493.00" r="2.3"/><circle cx="636.96" cy="493.20" r="2.3"/><circle cx="642.98" cy="493.40" r="2.3"/><circle cx="648.99" cy="493.60" r="2.3"/><circle cx="655.01" cy="493.80" r="2.3"/><circle cx="661.03" cy="494.00" r="2.3"/></g>
<g fill="#2279C2" fill-opacity="0.85"><circle cx="474.50" cy="458.60" r="2.3"/><circle cx="480.52" cy="459.70" r="2.3"/><circle cx="486.53" cy="460.20" r="2.3"/><circle cx="492.55" cy="460.90" r="2.3"/><circle cx="498.57" cy="461.70" r="2.3"/><circle cx="504.58" cy="462.00" r="2.3"/><circle cx="510.60" cy="462.40" r="2.3"/><circle cx="516.62" cy="463.20" r="2.3"/><circle cx="522.64" cy="463.90" r="2.3"/><circle cx="528.65" cy="464.40" r="2.3"/><circle cx="534.67" cy="465.00" r="2.3"/><circle cx="540.69" cy="465.40" r="2.3"/><circle cx="546.70" cy="465.70" r="2.3"/><circle cx="552.72" cy="466.20" r="2.3"/><circle cx="558.74" cy="466.90" r="2.3"/><circle cx="564.75" cy="467.70" r="2.3"/><circle cx="570.77" cy="468.40" r="2.3"/><circle cx="576.79" cy="468.68" r="2.3"/><circle cx="582.81" cy="468.90" r="2.3"/><circle cx="588.82" cy="469.21" r="2.3"/><circle cx="594.84" cy="469.50" r="2.3"/><circle cx="600.86" cy="469.76" r="2.3"/><circle cx="606.87" cy="469.90" r="2.3"/><circle cx="612.89" cy="469.90" r="2.3"/><circle cx="618.91" cy="469.90" r="2.3"/><circle cx="624.92" cy="470.21" r="2.3"/><circle cx="630.94" cy="470.70" r="2.3"/><circle cx="636.96" cy="471.07" r="2.3"/><circle cx="642.98" cy="471.40" r="2.3"/><circle cx="648.99" cy="471.72" r="2.3"/><circle cx="655.01" cy="471.90" r="2.3"/><circle cx="661.03" cy="471.90" r="2.3"/></g>
<g fill="#E31A95" fill-opacity="0.85"><circle cx="474.50" cy="472.20" r="2.3"/><circle cx="480.52" cy="472.20" r="2.3"/><circle cx="486.53" cy="471.00" r="2.3"/><circle cx="492.55" cy="467.70" r="2.3"/><circle cx="498.57" cy="465.40" r="2.3"/><circle cx="504.58" cy="466.20" r="2.3"/><circle cx="510.60" cy="468.90" r="2.3"/><circle cx="516.62" cy="470.70" r="2.3"/><circle cx="522.64" cy="471.40" r="2.3"/><circle cx="528.65" cy="470.40" r="2.3"/><circle cx="534.67" cy="469.90" r="2.3"/><circle cx="540.69" cy="470.40" r="2.3"/><circle cx="546.70" cy="469.90" r="2.3"/><circle cx="552.72" cy="470.40" r="2.3"/><circle cx="558.74" cy="470.40" r="2.3"/><circle cx="564.75" cy="471.40" r="2.3"/><circle cx="570.77" cy="473.40" r="2.3"/><circle cx="576.79" cy="475.50" r="2.3"/><circle cx="582.81" cy="476.70" r="2.3"/><circle cx="588.82" cy="477.90" r="2.3"/><circle cx="594.84" cy="478.50" r="2.3"/><circle cx="600.86" cy="479.70" r="2.3"/><circle cx="606.87" cy="480.90" r="2.3"/><circle cx="612.89" cy="482.00" r="2.3"/><circle cx="618.91" cy="482.70" r="2.3"/><circle cx="624.92" cy="483.50" r="2.3"/><circle cx="630.94" cy="484.50" r="2.3"/><circle cx="636.96" cy="485.40" r="2.3"/><circle cx="642.98" cy="486.00" r="2.3"/><circle cx="648.99" cy="486.50" r="2.3"/><circle cx="655.01" cy="486.90" r="2.3"/><circle cx="661.03" cy="487.20" r="2.3"/></g>
<rect x="465.40" y="355.30" width="204.50" height="145.15" fill="none" stroke="#ADADAD" stroke-width="1.1"/>
<text x="0" y="0" transform="translate(40.1 538.55) scale(0.92 1)" font-size="10.4" text-anchor="end" fill="#1a1a1a">1500</text>
<text x="0" y="0" transform="translate(40.1 579.55) scale(0.92 1)" font-size="10.4" text-anchor="end" fill="#1a1a1a">1000</text>
<text x="0" y="0" transform="translate(40.1 620.75) scale(0.92 1)" font-size="10.4" text-anchor="end" fill="#1a1a1a">500</text>
<line x1="44.90" y1="535.00" x2="249.50" y2="535.00" stroke="#D0D0D0" stroke-width="1.05"/>
<line x1="44.90" y1="576.00" x2="249.50" y2="576.00" stroke="#D0D0D0" stroke-width="1.05"/>
<line x1="44.90" y1="617.20" x2="249.50" y2="617.20" stroke="#D0D0D0" stroke-width="1.05"/>
<polyline points="54.10,583.60 60.12,583.60 66.13,582.90 72.15,581.80 78.17,580.90 84.19,581.40 90.20,582.60 96.22,583.60 102.24,584.70 108.25,584.80 114.27,584.40 120.29,584.40 126.30,584.80 132.32,585.10 138.34,585.60 144.36,586.30 150.37,588.10 156.39,588.94 162.41,589.60 168.42,590.37 174.44,591.10 180.46,591.81 186.47,592.30 192.49,592.45 198.51,592.60 204.53,593.23 210.54,594.10 216.56,594.87 222.58,595.60 228.59,596.27 234.61,596.80 240.63,597.10" fill="none" stroke="#E8453F" stroke-width="1.8" stroke-opacity="0.72" stroke-linejoin="round"/>
<polyline points="54.10,555.50 60.12,556.50 66.13,557.60 72.15,558.00 78.17,558.00 84.19,558.00 90.20,558.00 96.22,557.30 102.24,556.80 108.25,555.50 114.27,556.10 120.29,556.50 126.30,557.30 132.32,558.80 138.34,559.50 144.36,560.00 150.37,559.50 156.39,559.20 162.41,558.80 168.42,558.80 174.44,558.80 180.46,558.30 186.47,556.80 192.49,557.30 198.51,559.20 204.53,561.80 210.54,561.40 216.56,562.60 222.58,564.10 228.59,565.60 234.61,566.80 240.63,567.10" fill="none" stroke="#9C8CD3" stroke-width="1.8" stroke-opacity="0.72" stroke-linejoin="round"/>
<polyline points="54.10,591.90 60.12,591.90 66.13,591.90 72.15,591.60 78.17,591.10 84.19,590.80 90.20,590.40 96.22,590.10 102.24,590.10 108.25,589.60 114.27,589.30 120.29,589.60 126.30,591.90 132.32,592.90 138.34,593.80 144.36,594.90 150.37,594.40 156.39,594.00 162.41,594.40 168.42,595.50 174.44,596.40 180.46,596.40 186.47,595.90 192.49,595.90 198.51,596.40 204.53,596.74 210.54,597.10 216.56,597.71 222.58,598.30 228.59,598.60 234.61,598.90 240.63,599.40" fill="none" stroke="#20B9AB" stroke-width="1.8" stroke-opacity="0.72" stroke-linejoin="round"/>
<polyline points="54.10,608.50 60.12,609.51 66.13,610.60 72.15,611.74 78.17,613.00 84.19,614.55 90.20,616.10 96.22,617.44 102.24,618.50 108.25,619.15 114.27,619.70 120.29,620.30 126.30,620.90 132.32,621.48 138.34,622.10 144.36,622.85 150.37,623.60 156.39,624.22 162.41,624.80 168.42,625.38 174.44,626.00 180.46,626.75 186.47,627.50 192.49,628.12 198.51,628.70 204.53,629.32 210.54,629.90 216.56,630.37 222.58,630.80 228.59,631.27 234.61,631.70 240.63,632.00" fill="none" stroke="#E8B52A" stroke-width="1.8" stroke-opacity="0.72" stroke-linejoin="round"/>
<polyline points="54.10,584.80 60.12,585.10 66.13,585.40 72.15,585.90 78.17,586.30 84.19,586.90 90.20,587.40 96.22,587.80 102.24,587.80 108.25,587.80 114.27,587.80 120.29,588.10 126.30,588.90 132.32,588.90 138.34,588.90 144.36,588.90 150.37,588.90 156.39,589.16 162.41,589.60 168.42,590.09 174.44,590.40 180.46,590.40 186.47,590.40 192.49,591.03 198.51,591.90 204.53,592.28 210.54,592.60 216.56,593.04 222.58,593.40 228.59,593.60 234.61,593.70 240.63,593.70" fill="none" stroke="#2279C2" stroke-width="1.8" stroke-opacity="0.72" stroke-linejoin="round"/>
<polyline points="54.10,582.90 60.12,582.10 66.13,578.30 72.15,569.80 78.17,564.10 84.19,566.30 90.20,572.30 96.22,578.30 102.24,580.90 108.25,578.80 114.27,577.60 120.29,578.30 126.30,577.90 132.32,577.60 138.34,578.30 144.36,579.00 150.37,582.50 156.39,586.00 162.41,588.90 168.42,593.40 174.44,596.40 180.46,599.40 186.47,601.70 192.49,603.20 198.51,604.90 204.53,606.30 210.54,607.60 216.56,608.50 222.58,609.40 228.59,610.50 234.61,611.50 240.63,612.10" fill="none" stroke="#E31A95" stroke-width="1.8" stroke-opacity="0.72" stroke-linejoin="round"/>
<g fill="#E8453F" fill-opacity="0.85"><circle cx="54.10" cy="583.60" r="2.3"/><circle cx="60.12" cy="583.60" r="2.3"/><circle cx="66.13" cy="582.90" r="2.3"/><circle cx="72.15" cy="581.80" r="2.3"/><circle cx="78.17" cy="580.90" r="2.3"/><circle cx="84.19" cy="581.40" r="2.3"/><circle cx="90.20" cy="582.60" r="2.3"/><circle cx="96.22" cy="583.60" r="2.3"/><circle cx="102.24" cy="584.70" r="2.3"/><circle cx="108.25" cy="584.80" r="2.3"/><circle cx="114.27" cy="584.40" r="2.3"/><circle cx="120.29" cy="584.40" r="2.3"/><circle cx="126.30" cy="584.80" r="2.3"/><circle cx="132.32" cy="585.10" r="2.3"/><circle cx="138.34" cy="585.60" r="2.3"/><circle cx="144.36" cy="586.30" r="2.3"/><circle cx="150.37" cy="588.10" r="2.3"/><circle cx="156.39" cy="588.94" r="2.3"/><circle cx="162.41" cy="589.60" r="2.3"/><circle cx="168.42" cy="590.37" r="2.3"/><circle cx="174.44" cy="591.10" r="2.3"/><circle cx="180.46" cy="591.81" r="2.3"/><circle cx="186.47" cy="592.30" r="2.3"/><circle cx="192.49" cy="592.45" r="2.3"/><circle cx="198.51" cy="592.60" r="2.3"/><circle cx="204.53" cy="593.23" r="2.3"/><circle cx="210.54" cy="594.10" r="2.3"/><circle cx="216.56" cy="594.87" r="2.3"/><circle cx="222.58" cy="595.60" r="2.3"/><circle cx="228.59" cy="596.27" r="2.3"/><circle cx="234.61" cy="596.80" r="2.3"/><circle cx="240.63" cy="597.10" r="2.3"/></g>
<g fill="#9C8CD3" fill-opacity="0.85"><circle cx="54.10" cy="555.50" r="2.3"/><circle cx="60.12" cy="556.50" r="2.3"/><circle cx="66.13" cy="557.60" r="2.3"/><circle cx="72.15" cy="558.00" r="2.3"/><circle cx="78.17" cy="558.00" r="2.3"/><circle cx="84.19" cy="558.00" r="2.3"/><circle cx="90.20" cy="558.00" r="2.3"/><circle cx="96.22" cy="557.30" r="2.3"/><circle cx="102.24" cy="556.80" r="2.3"/><circle cx="108.25" cy="555.50" r="2.3"/><circle cx="114.27" cy="556.10" r="2.3"/><circle cx="120.29" cy="556.50" r="2.3"/><circle cx="126.30" cy="557.30" r="2.3"/><circle cx="132.32" cy="558.80" r="2.3"/><circle cx="138.34" cy="559.50" r="2.3"/><circle cx="144.36" cy="560.00" r="2.3"/><circle cx="150.37" cy="559.50" r="2.3"/><circle cx="156.39" cy="559.20" r="2.3"/><circle cx="162.41" cy="558.80" r="2.3"/><circle cx="168.42" cy="558.80" r="2.3"/><circle cx="174.44" cy="558.80" r="2.3"/><circle cx="180.46" cy="558.30" r="2.3"/><circle cx="186.47" cy="556.80" r="2.3"/><circle cx="192.49" cy="557.30" r="2.3"/><circle cx="198.51" cy="559.20" r="2.3"/><circle cx="204.53" cy="561.80" r="2.3"/><circle cx="210.54" cy="561.40" r="2.3"/><circle cx="216.56" cy="562.60" r="2.3"/><circle cx="222.58" cy="564.10" r="2.3"/><circle cx="228.59" cy="565.60" r="2.3"/><circle cx="234.61" cy="566.80" r="2.3"/><circle cx="240.63" cy="567.10" r="2.3"/></g>
<g fill="#20B9AB" fill-opacity="0.85"><circle cx="54.10" cy="591.90" r="2.3"/><circle cx="60.12" cy="591.90" r="2.3"/><circle cx="66.13" cy="591.90" r="2.3"/><circle cx="72.15" cy="591.60" r="2.3"/><circle cx="78.17" cy="591.10" r="2.3"/><circle cx="84.19" cy="590.80" r="2.3"/><circle cx="90.20" cy="590.40" r="2.3"/><circle cx="96.22" cy="590.10" r="2.3"/><circle cx="102.24" cy="590.10" r="2.3"/><circle cx="108.25" cy="589.60" r="2.3"/><circle cx="114.27" cy="589.30" r="2.3"/><circle cx="120.29" cy="589.60" r="2.3"/><circle cx="126.30" cy="591.90" r="2.3"/><circle cx="132.32" cy="592.90" r="2.3"/><circle cx="138.34" cy="593.80" r="2.3"/><circle cx="144.36" cy="594.90" r="2.3"/><circle cx="150.37" cy="594.40" r="2.3"/><circle cx="156.39" cy="594.00" r="2.3"/><circle cx="162.41" cy="594.40" r="2.3"/><circle cx="168.42" cy="595.50" r="2.3"/><circle cx="174.44" cy="596.40" r="2.3"/><circle cx="180.46" cy="596.40" r="2.3"/><circle cx="186.47" cy="595.90" r="2.3"/><circle cx="192.49" cy="595.90" r="2.3"/><circle cx="198.51" cy="596.40" r="2.3"/><circle cx="204.53" cy="596.74" r="2.3"/><circle cx="210.54" cy="597.10" r="2.3"/><circle cx="216.56" cy="597.71" r="2.3"/><circle cx="222.58" cy="598.30" r="2.3"/><circle cx="228.59" cy="598.60" r="2.3"/><circle cx="234.61" cy="598.90" r="2.3"/><circle cx="240.63" cy="599.40" r="2.3"/></g>
<g fill="#E8B52A" fill-opacity="0.85"><circle cx="54.10" cy="608.50" r="2.3"/><circle cx="60.12" cy="609.51" r="2.3"/><circle cx="66.13" cy="610.60" r="2.3"/><circle cx="72.15" cy="611.74" r="2.3"/><circle cx="78.17" cy="613.00" r="2.3"/><circle cx="84.19" cy="614.55" r="2.3"/><circle cx="90.20" cy="616.10" r="2.3"/><circle cx="96.22" cy="617.44" r="2.3"/><circle cx="102.24" cy="618.50" r="2.3"/><circle cx="108.25" cy="619.15" r="2.3"/><circle cx="114.27" cy="619.70" r="2.3"/><circle cx="120.29" cy="620.30" r="2.3"/><circle cx="126.30" cy="620.90" r="2.3"/><circle cx="132.32" cy="621.48" r="2.3"/><circle cx="138.34" cy="622.10" r="2.3"/><circle cx="144.36" cy="622.85" r="2.3"/><circle cx="150.37" cy="623.60" r="2.3"/><circle cx="156.39" cy="624.22" r="2.3"/><circle cx="162.41" cy="624.80" r="2.3"/><circle cx="168.42" cy="625.38" r="2.3"/><circle cx="174.44" cy="626.00" r="2.3"/><circle cx="180.46" cy="626.75" r="2.3"/><circle cx="186.47" cy="627.50" r="2.3"/><circle cx="192.49" cy="628.12" r="2.3"/><circle cx="198.51" cy="628.70" r="2.3"/><circle cx="204.53" cy="629.32" r="2.3"/><circle cx="210.54" cy="629.90" r="2.3"/><circle cx="216.56" cy="630.37" r="2.3"/><circle cx="222.58" cy="630.80" r="2.3"/><circle cx="228.59" cy="631.27" r="2.3"/><circle cx="234.61" cy="631.70" r="2.3"/><circle cx="240.63" cy="632.00" r="2.3"/></g>
<g fill="#2279C2" fill-opacity="0.85"><circle cx="54.10" cy="584.80" r="2.3"/><circle cx="60.12" cy="585.10" r="2.3"/><circle cx="66.13" cy="585.40" r="2.3"/><circle cx="72.15" cy="585.90" r="2.3"/><circle cx="78.17" cy="586.30" r="2.3"/><circle cx="84.19" cy="586.90" r="2.3"/><circle cx="90.20" cy="587.40" r="2.3"/><circle cx="96.22" cy="587.80" r="2.3"/><circle cx="102.24" cy="587.80" r="2.3"/><circle cx="108.25" cy="587.80" r="2.3"/><circle cx="114.27" cy="587.80" r="2.3"/><circle cx="120.29" cy="588.10" r="2.3"/><circle cx="126.30" cy="588.90" r="2.3"/><circle cx="132.32" cy="588.90" r="2.3"/><circle cx="138.34" cy="588.90" r="2.3"/><circle cx="144.36" cy="588.90" r="2.3"/><circle cx="150.37" cy="588.90" r="2.3"/><circle cx="156.39" cy="589.16" r="2.3"/><circle cx="162.41" cy="589.60" r="2.3"/><circle cx="168.42" cy="590.09" r="2.3"/><circle cx="174.44" cy="590.40" r="2.3"/><circle cx="180.46" cy="590.40" r="2.3"/><circle cx="186.47" cy="590.40" r="2.3"/><circle cx="192.49" cy="591.03" r="2.3"/><circle cx="198.51" cy="591.90" r="2.3"/><circle cx="204.53" cy="592.28" r="2.3"/><circle cx="210.54" cy="592.60" r="2.3"/><circle cx="216.56" cy="593.04" r="2.3"/><circle cx="222.58" cy="593.40" r="2.3"/><circle cx="228.59" cy="593.60" r="2.3"/><circle cx="234.61" cy="593.70" r="2.3"/><circle cx="240.63" cy="593.70" r="2.3"/></g>
<g fill="#E31A95" fill-opacity="0.85"><circle cx="54.10" cy="582.90" r="2.3"/><circle cx="60.12" cy="582.10" r="2.3"/><circle cx="66.13" cy="578.30" r="2.3"/><circle cx="72.15" cy="569.80" r="2.3"/><circle cx="78.17" cy="564.10" r="2.3"/><circle cx="84.19" cy="566.30" r="2.3"/><circle cx="90.20" cy="572.30" r="2.3"/><circle cx="96.22" cy="578.30" r="2.3"/><circle cx="102.24" cy="580.90" r="2.3"/><circle cx="108.25" cy="578.80" r="2.3"/><circle cx="114.27" cy="577.60" r="2.3"/><circle cx="120.29" cy="578.30" r="2.3"/><circle cx="126.30" cy="577.90" r="2.3"/><circle cx="132.32" cy="577.60" r="2.3"/><circle cx="138.34" cy="578.30" r="2.3"/><circle cx="144.36" cy="579.00" r="2.3"/><circle cx="150.37" cy="582.50" r="2.3"/><circle cx="156.39" cy="586.00" r="2.3"/><circle cx="162.41" cy="588.90" r="2.3"/><circle cx="168.42" cy="593.40" r="2.3"/><circle cx="174.44" cy="596.40" r="2.3"/><circle cx="180.46" cy="599.40" r="2.3"/><circle cx="186.47" cy="601.70" r="2.3"/><circle cx="192.49" cy="603.20" r="2.3"/><circle cx="198.51" cy="604.90" r="2.3"/><circle cx="204.53" cy="606.30" r="2.3"/><circle cx="210.54" cy="607.60" r="2.3"/><circle cx="216.56" cy="608.50" r="2.3"/><circle cx="222.58" cy="609.40" r="2.3"/><circle cx="228.59" cy="610.50" r="2.3"/><circle cx="234.61" cy="611.50" r="2.3"/><circle cx="240.63" cy="612.10" r="2.3"/></g>
<rect x="44.90" y="506.70" width="204.60" height="145.60" fill="none" stroke="#ADADAD" stroke-width="1.1"/>
<line x1="255.30" y1="535.00" x2="459.60" y2="535.00" stroke="#D0D0D0" stroke-width="1.05"/>
<line x1="255.30" y1="576.00" x2="459.60" y2="576.00" stroke="#D0D0D0" stroke-width="1.05"/>
<line x1="255.30" y1="617.20" x2="459.60" y2="617.20" stroke="#D0D0D0" stroke-width="1.05"/>
<polyline points="264.40,557.30 270.42,557.30 276.43,556.10 282.45,553.40 288.47,551.90 294.48,552.80 300.50,554.90 306.52,556.90 312.54,557.90 318.55,556.60 324.57,556.10 330.59,556.90 336.60,556.90 342.62,556.90 348.64,557.20 354.65,557.30 360.67,558.90 366.69,559.60 372.71,560.10 378.72,561.60 384.74,562.80 390.76,563.40 396.77,564.30 402.79,565.40 408.81,566.90 414.82,568.40 420.84,568.80 426.86,569.40 432.88,570.30 438.89,570.90 444.91,571.80 450.93,571.70" fill="none" stroke="#E8453F" stroke-width="1.8" stroke-opacity="0.72" stroke-linejoin="round"/>
<polyline points="264.40,533.90 270.42,534.60 276.43,535.80 282.45,535.10 288.47,534.60 294.48,534.30 300.50,533.60 306.52,532.80 312.54,531.30 318.55,530.30 324.57,528.30 330.59,528.00 336.60,528.30 342.62,528.80 348.64,530.60 354.65,530.60 360.67,527.30 366.69,525.80 372.71,525.20 378.72,525.20 384.74,524.30 390.76,522.20 396.77,520.70 402.79,522.20 408.81,526.70 414.82,530.00 420.84,529.60 426.86,530.50 432.88,531.80 438.89,533.00 444.91,534.10 450.93,534.10" fill="none" stroke="#9C8CD3" stroke-width="1.8" stroke-opacity="0.72" stroke-linejoin="round"/>
<polyline points="264.40,579.50 270.42,579.80 276.43,579.60 282.45,578.70 288.47,577.80 294.48,577.00 300.50,576.30 306.52,575.80 312.54,576.00 318.55,575.50 324.57,575.00 330.59,577.60 336.60,578.60 342.62,578.70 348.64,578.50 354.65,578.50 360.67,577.80 366.69,577.00 372.71,577.40 378.72,578.30 384.74,578.90 390.76,578.20 396.77,577.00 402.79,577.40 408.81,579.40 414.82,579.70 420.84,579.40 426.86,579.70 432.88,580.00 438.89,580.20 444.91,580.20 450.93,580.00" fill="none" stroke="#20B9AB" stroke-width="1.8" stroke-opacity="0.72" stroke-linejoin="round"/>
<polyline points="264.40,579.60 270.42,580.50 276.43,582.90 282.45,585.60 288.47,588.00 294.48,590.10 300.50,592.50 306.52,594.60 312.54,595.70 318.55,596.60 324.57,597.80 330.59,598.87 336.60,599.90 342.62,600.97 348.64,602.00 354.65,602.87 360.67,603.80 366.69,605.10 372.71,606.50 378.72,607.74 384.74,608.90 390.76,609.97 396.77,611.00 402.79,612.12 408.81,613.10 414.82,613.74 420.84,614.30 426.86,614.90 432.88,615.50 438.89,616.10 444.91,616.70 450.93,617.30" fill="none" stroke="#E8B52A" stroke-width="1.8" stroke-opacity="0.72" stroke-linejoin="round"/>
<polyline points="264.40,562.10 270.42,562.40 276.43,562.10 282.45,562.10 288.47,562.40 294.48,562.60 300.50,562.10 306.52,562.90 312.54,562.90 318.55,561.80 324.57,561.80 330.59,562.10 336.60,561.40 342.62,560.60 348.64,559.90 354.65,559.90 360.67,560.10 366.69,560.10 372.71,560.40 378.72,560.40 384.74,560.90 390.76,560.40 396.77,560.10 402.79,560.40 408.81,562.40 414.82,563.40 420.84,563.40 426.86,564.30 432.88,564.90 438.89,565.80 444.91,566.90 450.93,566.10" fill="none" stroke="#2279C2" stroke-width="1.8" stroke-opacity="0.72" stroke-linejoin="round"/>
<polyline points="264.40,544.10 270.42,542.30 276.43,535.80 282.45,521.50 288.47,513.30 294.48,516.70 300.50,526.10 306.52,535.80 312.54,540.30 318.55,536.30 324.57,534.00 330.59,535.80 336.60,535.40 342.62,534.30 348.64,535.10 354.65,535.80 360.67,545.80 366.69,550.80 372.71,553.00 378.72,559.40 384.74,561.90 390.76,567.60 396.77,571.80 402.79,573.60 408.81,574.40 414.82,577.00 420.84,580.00 426.86,581.90 432.88,583.40 438.89,584.50 444.91,586.40 450.93,586.40" fill="none" stroke="#E31A95" stroke-width="1.8" stroke-opacity="0.72" stroke-linejoin="round"/>
<g fill="#E8453F" fill-opacity="0.85"><circle cx="264.40" cy="557.30" r="2.3"/><circle cx="270.42" cy="557.30" r="2.3"/><circle cx="276.43" cy="556.10" r="2.3"/><circle cx="282.45" cy="553.40" r="2.3"/><circle cx="288.47" cy="551.90" r="2.3"/><circle cx="294.48" cy="552.80" r="2.3"/><circle cx="300.50" cy="554.90" r="2.3"/><circle cx="306.52" cy="556.90" r="2.3"/><circle cx="312.54" cy="557.90" r="2.3"/><circle cx="318.55" cy="556.60" r="2.3"/><circle cx="324.57" cy="556.10" r="2.3"/><circle cx="330.59" cy="556.90" r="2.3"/><circle cx="336.60" cy="556.90" r="2.3"/><circle cx="342.62" cy="556.90" r="2.3"/><circle cx="348.64" cy="557.20" r="2.3"/><circle cx="354.65" cy="557.30" r="2.3"/><circle cx="360.67" cy="558.90" r="2.3"/><circle cx="366.69" cy="559.60" r="2.3"/><circle cx="372.71" cy="560.10" r="2.3"/><circle cx="378.72" cy="561.60" r="2.3"/><circle cx="384.74" cy="562.80" r="2.3"/><circle cx="390.76" cy="563.40" r="2.3"/><circle cx="396.77" cy="564.30" r="2.3"/><circle cx="402.79" cy="565.40" r="2.3"/><circle cx="408.81" cy="566.90" r="2.3"/><circle cx="414.82" cy="568.40" r="2.3"/><circle cx="420.84" cy="568.80" r="2.3"/><circle cx="426.86" cy="569.40" r="2.3"/><circle cx="432.88" cy="570.30" r="2.3"/><circle cx="438.89" cy="570.90" r="2.3"/><circle cx="444.91" cy="571.80" r="2.3"/><circle cx="450.93" cy="571.70" r="2.3"/></g>
<g fill="#9C8CD3" fill-opacity="0.85"><circle cx="264.40" cy="533.90" r="2.3"/><circle cx="270.42" cy="534.60" r="2.3"/><circle cx="276.43" cy="535.80" r="2.3"/><circle cx="282.45" cy="535.10" r="2.3"/><circle cx="288.47" cy="534.60" r="2.3"/><circle cx="294.48" cy="534.30" r="2.3"/><circle cx="300.50" cy="533.60" r="2.3"/><circle cx="306.52" cy="532.80" r="2.3"/><circle cx="312.54" cy="531.30" r="2.3"/><circle cx="318.55" cy="530.30" r="2.3"/><circle cx="324.57" cy="528.30" r="2.3"/><circle cx="330.59" cy="528.00" r="2.3"/><circle cx="336.60" cy="528.30" r="2.3"/><circle cx="342.62" cy="528.80" r="2.3"/><circle cx="348.64" cy="530.60" r="2.3"/><circle cx="354.65" cy="530.60" r="2.3"/><circle cx="360.67" cy="527.30" r="2.3"/><circle cx="366.69" cy="525.80" r="2.3"/><circle cx="372.71" cy="525.20" r="2.3"/><circle cx="378.72" cy="525.20" r="2.3"/><circle cx="384.74" cy="524.30" r="2.3"/><circle cx="390.76" cy="522.20" r="2.3"/><circle cx="396.77" cy="520.70" r="2.3"/><circle cx="402.79" cy="522.20" r="2.3"/><circle cx="408.81" cy="526.70" r="2.3"/><circle cx="414.82" cy="530.00" r="2.3"/><circle cx="420.84" cy="529.60" r="2.3"/><circle cx="426.86" cy="530.50" r="2.3"/><circle cx="432.88" cy="531.80" r="2.3"/><circle cx="438.89" cy="533.00" r="2.3"/><circle cx="444.91" cy="534.10" r="2.3"/><circle cx="450.93" cy="534.10" r="2.3"/></g>
<g fill="#20B9AB" fill-opacity="0.85"><circle cx="264.40" cy="579.50" r="2.3"/><circle cx="270.42" cy="579.80" r="2.3"/><circle cx="276.43" cy="579.60" r="2.3"/><circle cx="282.45" cy="578.70" r="2.3"/><circle cx="288.47" cy="577.80" r="2.3"/><circle cx="294.48" cy="577.00" r="2.3"/><circle cx="300.50" cy="576.30" r="2.3"/><circle cx="306.52" cy="575.80" r="2.3"/><circle cx="312.54" cy="576.00" r="2.3"/><circle cx="318.55" cy="575.50" r="2.3"/><circle cx="324.57" cy="575.00" r="2.3"/><circle cx="330.59" cy="577.60" r="2.3"/><circle cx="336.60" cy="578.60" r="2.3"/><circle cx="342.62" cy="578.70" r="2.3"/><circle cx="348.64" cy="578.50" r="2.3"/><circle cx="354.65" cy="578.50" r="2.3"/><circle cx="360.67" cy="577.80" r="2.3"/><circle cx="366.69" cy="577.00" r="2.3"/><circle cx="372.71" cy="577.40" r="2.3"/><circle cx="378.72" cy="578.30" r="2.3"/><circle cx="384.74" cy="578.90" r="2.3"/><circle cx="390.76" cy="578.20" r="2.3"/><circle cx="396.77" cy="577.00" r="2.3"/><circle cx="402.79" cy="577.40" r="2.3"/><circle cx="408.81" cy="579.40" r="2.3"/><circle cx="414.82" cy="579.70" r="2.3"/><circle cx="420.84" cy="579.40" r="2.3"/><circle cx="426.86" cy="579.70" r="2.3"/><circle cx="432.88" cy="580.00" r="2.3"/><circle cx="438.89" cy="580.20" r="2.3"/><circle cx="444.91" cy="580.20" r="2.3"/><circle cx="450.93" cy="580.00" r="2.3"/></g>
<g fill="#E8B52A" fill-opacity="0.85"><circle cx="264.40" cy="579.60" r="2.3"/><circle cx="270.42" cy="580.50" r="2.3"/><circle cx="276.43" cy="582.90" r="2.3"/><circle cx="282.45" cy="585.60" r="2.3"/><circle cx="288.47" cy="588.00" r="2.3"/><circle cx="294.48" cy="590.10" r="2.3"/><circle cx="300.50" cy="592.50" r="2.3"/><circle cx="306.52" cy="594.60" r="2.3"/><circle cx="312.54" cy="595.70" r="2.3"/><circle cx="318.55" cy="596.60" r="2.3"/><circle cx="324.57" cy="597.80" r="2.3"/><circle cx="330.59" cy="598.87" r="2.3"/><circle cx="336.60" cy="599.90" r="2.3"/><circle cx="342.62" cy="600.97" r="2.3"/><circle cx="348.64" cy="602.00" r="2.3"/><circle cx="354.65" cy="602.87" r="2.3"/><circle cx="360.67" cy="603.80" r="2.3"/><circle cx="366.69" cy="605.10" r="2.3"/><circle cx="372.71" cy="606.50" r="2.3"/><circle cx="378.72" cy="607.74" r="2.3"/><circle cx="384.74" cy="608.90" r="2.3"/><circle cx="390.76" cy="609.97" r="2.3"/><circle cx="396.77" cy="611.00" r="2.3"/><circle cx="402.79" cy="612.12" r="2.3"/><circle cx="408.81" cy="613.10" r="2.3"/><circle cx="414.82" cy="613.74" r="2.3"/><circle cx="420.84" cy="614.30" r="2.3"/><circle cx="426.86" cy="614.90" r="2.3"/><circle cx="432.88" cy="615.50" r="2.3"/><circle cx="438.89" cy="616.10" r="2.3"/><circle cx="444.91" cy="616.70" r="2.3"/><circle cx="450.93" cy="617.30" r="2.3"/></g>
<g fill="#2279C2" fill-opacity="0.85"><circle cx="264.40" cy="562.10" r="2.3"/><circle cx="270.42" cy="562.40" r="2.3"/><circle cx="276.43" cy="562.10" r="2.3"/><circle cx="282.45" cy="562.10" r="2.3"/><circle cx="288.47" cy="562.40" r="2.3"/><circle cx="294.48" cy="562.60" r="2.3"/><circle cx="300.50" cy="562.10" r="2.3"/><circle cx="306.52" cy="562.90" r="2.3"/><circle cx="312.54" cy="562.90" r="2.3"/><circle cx="318.55" cy="561.80" r="2.3"/><circle cx="324.57" cy="561.80" r="2.3"/><circle cx="330.59" cy="562.10" r="2.3"/><circle cx="336.60" cy="561.40" r="2.3"/><circle cx="342.62" cy="560.60" r="2.3"/><circle cx="348.64" cy="559.90" r="2.3"/><circle cx="354.65" cy="559.90" r="2.3"/><circle cx="360.67" cy="560.10" r="2.3"/><circle cx="366.69" cy="560.10" r="2.3"/><circle cx="372.71" cy="560.40" r="2.3"/><circle cx="378.72" cy="560.40" r="2.3"/><circle cx="384.74" cy="560.90" r="2.3"/><circle cx="390.76" cy="560.40" r="2.3"/><circle cx="396.77" cy="560.10" r="2.3"/><circle cx="402.79" cy="560.40" r="2.3"/><circle cx="408.81" cy="562.40" r="2.3"/><circle cx="414.82" cy="563.40" r="2.3"/><circle cx="420.84" cy="563.40" r="2.3"/><circle cx="426.86" cy="564.30" r="2.3"/><circle cx="432.88" cy="564.90" r="2.3"/><circle cx="438.89" cy="565.80" r="2.3"/><circle cx="444.91" cy="566.90" r="2.3"/><circle cx="450.93" cy="566.10" r="2.3"/></g>
<g fill="#E31A95" fill-opacity="0.85"><circle cx="264.40" cy="544.10" r="2.3"/><circle cx="270.42" cy="542.30" r="2.3"/><circle cx="276.43" cy="535.80" r="2.3"/><circle cx="282.45" cy="521.50" r="2.3"/><circle cx="288.47" cy="513.30" r="2.3"/><circle cx="294.48" cy="516.70" r="2.3"/><circle cx="300.50" cy="526.10" r="2.3"/><circle cx="306.52" cy="535.80" r="2.3"/><circle cx="312.54" cy="540.30" r="2.3"/><circle cx="318.55" cy="536.30" r="2.3"/><circle cx="324.57" cy="534.00" r="2.3"/><circle cx="330.59" cy="535.80" r="2.3"/><circle cx="336.60" cy="535.40" r="2.3"/><circle cx="342.62" cy="534.30" r="2.3"/><circle cx="348.64" cy="535.10" r="2.3"/><circle cx="354.65" cy="535.80" r="2.3"/><circle cx="360.67" cy="545.80" r="2.3"/><circle cx="366.69" cy="550.80" r="2.3"/><circle cx="372.71" cy="553.00" r="2.3"/><circle cx="378.72" cy="559.40" r="2.3"/><circle cx="384.74" cy="561.90" r="2.3"/><circle cx="390.76" cy="567.60" r="2.3"/><circle cx="396.77" cy="571.80" r="2.3"/><circle cx="402.79" cy="573.60" r="2.3"/><circle cx="408.81" cy="574.40" r="2.3"/><circle cx="414.82" cy="577.00" r="2.3"/><circle cx="420.84" cy="580.00" r="2.3"/><circle cx="426.86" cy="581.90" r="2.3"/><circle cx="432.88" cy="583.40" r="2.3"/><circle cx="438.89" cy="584.50" r="2.3"/><circle cx="444.91" cy="586.40" r="2.3"/><circle cx="450.93" cy="586.40" r="2.3"/></g>
<rect x="255.30" y="506.70" width="204.30" height="145.60" fill="none" stroke="#ADADAD" stroke-width="1.1"/>
<line x1="465.40" y1="535.00" x2="669.90" y2="535.00" stroke="#D0D0D0" stroke-width="1.05"/>
<line x1="465.40" y1="576.00" x2="669.90" y2="576.00" stroke="#D0D0D0" stroke-width="1.05"/>
<line x1="465.40" y1="617.20" x2="669.90" y2="617.20" stroke="#D0D0D0" stroke-width="1.05"/>
<polyline points="474.50,611.90 480.52,612.30 486.53,612.30 492.55,611.90 498.57,611.60 504.58,611.90 510.60,612.60 516.62,612.90 522.64,613.40 528.65,613.80 534.67,614.40 540.69,614.90 546.70,615.30 552.72,615.60 558.74,615.90 564.75,616.80 570.77,617.90 576.79,618.28 582.81,618.60 588.82,619.25 594.84,619.80 600.86,619.97 606.87,620.10 612.89,620.27 618.91,620.50 624.92,620.92 630.94,621.40 636.96,621.76 642.98,622.10 648.99,622.59 655.01,622.90 661.03,622.90" fill="none" stroke="#E8453F" stroke-width="1.8" stroke-opacity="0.72" stroke-linejoin="round"/>
<polyline points="474.50,577.70 480.52,579.50 486.53,580.30 492.55,581.50 498.57,582.30 504.58,582.90 510.60,583.30 516.62,583.80 522.64,584.40 528.65,584.10 534.67,584.80 540.69,585.90 546.70,586.30 552.72,587.80 558.74,589.80 564.75,591.60 570.77,592.00 576.79,593.10 582.81,593.10 588.82,593.10 594.84,593.40 600.86,594.90 606.87,593.10 612.89,591.90 618.91,592.30 624.92,593.40 630.94,593.40 636.96,595.30 642.98,596.80 648.99,598.80 655.01,599.40 661.03,599.80" fill="none" stroke="#9C8CD3" stroke-width="1.8" stroke-opacity="0.72" stroke-linejoin="round"/>
<polyline points="474.50,603.60 480.52,604.10 486.53,604.40 492.55,604.40 498.57,604.10 504.58,604.10 510.60,604.10 516.62,604.10 522.64,604.10 528.65,603.60 534.67,603.60 540.69,605.40 546.70,607.40 552.72,608.40 558.74,608.40 564.75,609.90 570.77,610.40 576.79,611.10 582.81,611.40 588.82,612.60 594.84,614.10 600.86,614.40 606.87,612.90 612.89,613.80 618.91,614.40 624.92,615.60 630.94,615.90 636.96,616.80 642.98,617.60 648.99,618.30 655.01,618.30 661.03,618.30" fill="none" stroke="#20B9AB" stroke-width="1.8" stroke-opacity="0.72" stroke-linejoin="round"/>
<polyline points="474.50,638.60 480.52,638.71 486.53,638.86 492.55,639.02 498.57,639.20 504.58,639.40 510.60,639.63 516.62,639.92 522.64,640.22 528.65,640.52 534.67,640.80 540.69,641.05 546.70,641.28 552.72,641.52 558.74,641.75 564.75,642.00 570.77,642.27 576.79,642.55 582.81,642.85 588.82,643.13 594.84,643.40 600.86,643.65 606.87,643.89 612.89,644.13 618.91,644.36 624.92,644.60 630.94,644.85 636.96,645.09 642.98,645.34 648.99,645.59 655.01,645.85 661.03,646.10" fill="none" stroke="#E8B52A" stroke-width="1.8" stroke-opacity="0.72" stroke-linejoin="round"/>
<polyline points="474.50,608.60 480.52,609.60 486.53,610.10 492.55,611.10 498.57,611.90 504.58,612.30 510.60,612.60 516.62,612.90 522.64,613.40 528.65,614.10 534.67,614.90 540.69,615.30 546.70,615.60 552.72,616.40 558.74,616.80 564.75,617.90 570.77,618.60 576.79,618.87 582.81,619.10 588.82,619.44 594.84,619.80 600.86,620.24 606.87,620.50 612.89,620.50 618.91,620.50 624.92,620.63 630.94,620.90 636.96,621.30 642.98,621.70 648.99,621.97 655.01,622.10 661.03,622.10" fill="none" stroke="#2279C2" stroke-width="1.8" stroke-opacity="0.72" stroke-linejoin="round"/>
<polyline points="474.50,622.90 480.52,622.90 486.53,621.70 492.55,618.90 498.57,616.70 504.58,617.60 510.60,619.80 516.62,621.70 522.64,622.40 528.65,621.70 534.67,621.40 540.69,621.70 546.70,621.70 552.72,621.70 558.74,621.70 564.75,622.90 570.77,624.70 576.79,626.20 582.81,627.70 588.82,628.90 594.84,629.90 600.86,631.00 606.87,632.50 612.89,633.40 618.91,634.00 624.92,634.90 630.94,635.90 636.96,636.70 642.98,637.40 648.99,637.90 655.01,638.50 661.03,638.60" fill="none" stroke="#E31A95" stroke-width="1.8" stroke-opacity="0.72" stroke-linejoin="round"/>
<g fill="#E8453F" fill-opacity="0.85"><circle cx="474.50" cy="611.90" r="2.3"/><circle cx="480.52" cy="612.30" r="2.3"/><circle cx="486.53" cy="612.30" r="2.3"/><circle cx="492.55" cy="611.90" r="2.3"/><circle cx="498.57" cy="611.60" r="2.3"/><circle cx="504.58" cy="611.90" r="2.3"/><circle cx="510.60" cy="612.60" r="2.3"/><circle cx="516.62" cy="612.90" r="2.3"/><circle cx="522.64" cy="613.40" r="2.3"/><circle cx="528.65" cy="613.80" r="2.3"/><circle cx="534.67" cy="614.40" r="2.3"/><circle cx="540.69" cy="614.90" r="2.3"/><circle cx="546.70" cy="615.30" r="2.3"/><circle cx="552.72" cy="615.60" r="2.3"/><circle cx="558.74" cy="615.90" r="2.3"/><circle cx="564.75" cy="616.80" r="2.3"/><circle cx="570.77" cy="617.90" r="2.3"/><circle cx="576.79" cy="618.28" r="2.3"/><circle cx="582.81" cy="618.60" r="2.3"/><circle cx="588.82" cy="619.25" r="2.3"/><circle cx="594.84" cy="619.80" r="2.3"/><circle cx="600.86" cy="619.97" r="2.3"/><circle cx="606.87" cy="620.10" r="2.3"/><circle cx="612.89" cy="620.27" r="2.3"/><circle cx="618.91" cy="620.50" r="2.3"/><circle cx="624.92" cy="620.92" r="2.3"/><circle cx="630.94" cy="621.40" r="2.3"/><circle cx="636.96" cy="621.76" r="2.3"/><circle cx="642.98" cy="622.10" r="2.3"/><circle cx="648.99" cy="622.59" r="2.3"/><circle cx="655.01" cy="622.90" r="2.3"/><circle cx="661.03" cy="622.90" r="2.3"/></g>
<g fill="#9C8CD3" fill-opacity="0.85"><circle cx="474.50" cy="577.70" r="2.3"/><circle cx="480.52" cy="579.50" r="2.3"/><circle cx="486.53" cy="580.30" r="2.3"/><circle cx="492.55" cy="581.50" r="2.3"/><circle cx="498.57" cy="582.30" r="2.3"/><circle cx="504.58" cy="582.90" r="2.3"/><circle cx="510.60" cy="583.30" r="2.3"/><circle cx="516.62" cy="583.80" r="2.3"/><circle cx="522.64" cy="584.40" r="2.3"/><circle cx="528.65" cy="584.10" r="2.3"/><circle cx="534.67" cy="584.80" r="2.3"/><circle cx="540.69" cy="585.90" r="2.3"/><circle cx="546.70" cy="586.30" r="2.3"/><circle cx="552.72" cy="587.80" r="2.3"/><circle cx="558.74" cy="589.80" r="2.3"/><circle cx="564.75" cy="591.60" r="2.3"/><circle cx="570.77" cy="592.00" r="2.3"/><circle cx="576.79" cy="593.10" r="2.3"/><circle cx="582.81" cy="593.10" r="2.3"/><circle cx="588.82" cy="593.10" r="2.3"/><circle cx="594.84" cy="593.40" r="2.3"/><circle cx="600.86" cy="594.90" r="2.3"/><circle cx="606.87" cy="593.10" r="2.3"/><circle cx="612.89" cy="591.90" r="2.3"/><circle cx="618.91" cy="592.30" r="2.3"/><circle cx="624.92" cy="593.40" r="2.3"/><circle cx="630.94" cy="593.40" r="2.3"/><circle cx="636.96" cy="595.30" r="2.3"/><circle cx="642.98" cy="596.80" r="2.3"/><circle cx="648.99" cy="598.80" r="2.3"/><circle cx="655.01" cy="599.40" r="2.3"/><circle cx="661.03" cy="599.80" r="2.3"/></g>
<g fill="#20B9AB" fill-opacity="0.85"><circle cx="474.50" cy="603.60" r="2.3"/><circle cx="480.52" cy="604.10" r="2.3"/><circle cx="486.53" cy="604.40" r="2.3"/><circle cx="492.55" cy="604.40" r="2.3"/><circle cx="498.57" cy="604.10" r="2.3"/><circle cx="504.58" cy="604.10" r="2.3"/><circle cx="510.60" cy="604.10" r="2.3"/><circle cx="516.62" cy="604.10" r="2.3"/><circle cx="522.64" cy="604.10" r="2.3"/><circle cx="528.65" cy="603.60" r="2.3"/><circle cx="534.67" cy="603.60" r="2.3"/><circle cx="540.69" cy="605.40" r="2.3"/><circle cx="546.70" cy="607.40" r="2.3"/><circle cx="552.72" cy="608.40" r="2.3"/><circle cx="558.74" cy="608.40" r="2.3"/><circle cx="564.75" cy="609.90" r="2.3"/><circle cx="570.77" cy="610.40" r="2.3"/><circle cx="576.79" cy="611.10" r="2.3"/><circle cx="582.81" cy="611.40" r="2.3"/><circle cx="588.82" cy="612.60" r="2.3"/><circle cx="594.84" cy="614.10" r="2.3"/><circle cx="600.86" cy="614.40" r="2.3"/><circle cx="606.87" cy="612.90" r="2.3"/><circle cx="612.89" cy="613.80" r="2.3"/><circle cx="618.91" cy="614.40" r="2.3"/><circle cx="624.92" cy="615.60" r="2.3"/><circle cx="630.94" cy="615.90" r="2.3"/><circle cx="636.96" cy="616.80" r="2.3"/><circle cx="642.98" cy="617.60" r="2.3"/><circle cx="648.99" cy="618.30" r="2.3"/><circle cx="655.01" cy="618.30" r="2.3"/><circle cx="661.03" cy="618.30" r="2.3"/></g>
<g fill="#E8B52A" fill-opacity="0.85"><circle cx="474.50" cy="638.60" r="2.3"/><circle cx="480.52" cy="638.71" r="2.3"/><circle cx="486.53" cy="638.86" r="2.3"/><circle cx="492.55" cy="639.02" r="2.3"/><circle cx="498.57" cy="639.20" r="2.3"/><circle cx="504.58" cy="639.40" r="2.3"/><circle cx="510.60" cy="639.63" r="2.3"/><circle cx="516.62" cy="639.92" r="2.3"/><circle cx="522.64" cy="640.22" r="2.3"/><circle cx="528.65" cy="640.52" r="2.3"/><circle cx="534.67" cy="640.80" r="2.3"/><circle cx="540.69" cy="641.05" r="2.3"/><circle cx="546.70" cy="641.28" r="2.3"/><circle cx="552.72" cy="641.52" r="2.3"/><circle cx="558.74" cy="641.75" r="2.3"/><circle cx="564.75" cy="642.00" r="2.3"/><circle cx="570.77" cy="642.27" r="2.3"/><circle cx="576.79" cy="642.55" r="2.3"/><circle cx="582.81" cy="642.85" r="2.3"/><circle cx="588.82" cy="643.13" r="2.3"/><circle cx="594.84" cy="643.40" r="2.3"/><circle cx="600.86" cy="643.65" r="2.3"/><circle cx="606.87" cy="643.89" r="2.3"/><circle cx="612.89" cy="644.13" r="2.3"/><circle cx="618.91" cy="644.36" r="2.3"/><circle cx="624.92" cy="644.60" r="2.3"/><circle cx="630.94" cy="644.85" r="2.3"/><circle cx="636.96" cy="645.09" r="2.3"/><circle cx="642.98" cy="645.34" r="2.3"/><circle cx="648.99" cy="645.59" r="2.3"/><circle cx="655.01" cy="645.85" r="2.3"/><circle cx="661.03" cy="646.10" r="2.3"/></g>
<g fill="#2279C2" fill-opacity="0.85"><circle cx="474.50" cy="608.60" r="2.3"/><circle cx="480.52" cy="609.60" r="2.3"/><circle cx="486.53" cy="610.10" r="2.3"/><circle cx="492.55" cy="611.10" r="2.3"/><circle cx="498.57" cy="611.90" r="2.3"/><circle cx="504.58" cy="612.30" r="2.3"/><circle cx="510.60" cy="612.60" r="2.3"/><circle cx="516.62" cy="612.90" r="2.3"/><circle cx="522.64" cy="613.40" r="2.3"/><circle cx="528.65" cy="614.10" r="2.3"/><circle cx="534.67" cy="614.90" r="2.3"/><circle cx="540.69" cy="615.30" r="2.3"/><circle cx="546.70" cy="615.60" r="2.3"/><circle cx="552.72" cy="616.40" r="2.3"/><circle cx="558.74" cy="616.80" r="2.3"/><circle cx="564.75" cy="617.90" r="2.3"/><circle cx="570.77" cy="618.60" r="2.3"/><circle cx="576.79" cy="618.87" r="2.3"/><circle cx="582.81" cy="619.10" r="2.3"/><circle cx="588.82" cy="619.44" r="2.3"/><circle cx="594.84" cy="619.80" r="2.3"/><circle cx="600.86" cy="620.24" r="2.3"/><circle cx="606.87" cy="620.50" r="2.3"/><circle cx="612.89" cy="620.50" r="2.3"/><circle cx="618.91" cy="620.50" r="2.3"/><circle cx="624.92" cy="620.63" r="2.3"/><circle cx="630.94" cy="620.90" r="2.3"/><circle cx="636.96" cy="621.30" r="2.3"/><circle cx="642.98" cy="621.70" r="2.3"/><circle cx="648.99" cy="621.97" r="2.3"/><circle cx="655.01" cy="622.10" r="2.3"/><circle cx="661.03" cy="622.10" r="2.3"/></g>
<g fill="#E31A95" fill-opacity="0.85"><circle cx="474.50" cy="622.90" r="2.3"/><circle cx="480.52" cy="622.90" r="2.3"/><circle cx="486.53" cy="621.70" r="2.3"/><circle cx="492.55" cy="618.90" r="2.3"/><circle cx="498.57" cy="616.70" r="2.3"/><circle cx="504.58" cy="617.60" r="2.3"/><circle cx="510.60" cy="619.80" r="2.3"/><circle cx="516.62" cy="621.70" r="2.3"/><circle cx="522.64" cy="622.40" r="2.3"/><circle cx="528.65" cy="621.70" r="2.3"/><circle cx="534.67" cy="621.40" r="2.3"/><circle cx="540.69" cy="621.70" r="2.3"/><circle cx="546.70" cy="621.70" r="2.3"/><circle cx="552.72" cy="621.70" r="2.3"/><circle cx="558.74" cy="621.70" r="2.3"/><circle cx="564.75" cy="622.90" r="2.3"/><circle cx="570.77" cy="624.70" r="2.3"/><circle cx="576.79" cy="626.20" r="2.3"/><circle cx="582.81" cy="627.70" r="2.3"/><circle cx="588.82" cy="628.90" r="2.3"/><circle cx="594.84" cy="629.90" r="2.3"/><circle cx="600.86" cy="631.00" r="2.3"/><circle cx="606.87" cy="632.50" r="2.3"/><circle cx="612.89" cy="633.40" r="2.3"/><circle cx="618.91" cy="634.00" r="2.3"/><circle cx="624.92" cy="634.90" r="2.3"/><circle cx="630.94" cy="635.90" r="2.3"/><circle cx="636.96" cy="636.70" r="2.3"/><circle cx="642.98" cy="637.40" r="2.3"/><circle cx="648.99" cy="637.90" r="2.3"/><circle cx="655.01" cy="638.50" r="2.3"/><circle cx="661.03" cy="638.60" r="2.3"/></g>
<rect x="465.40" y="506.70" width="204.50" height="145.60" fill="none" stroke="#ADADAD" stroke-width="1.1"/>
<line x1="54.10" y1="652.30" x2="54.10" y2="655.6" stroke="#222" stroke-width="1.1"/>
<text x="0" y="0" transform="translate(54.00 657.70) rotate(-45)" font-size="9.6" text-anchor="end" dominant-baseline="hanging" fill="#222">1990</text>
<line x1="84.19" y1="652.30" x2="84.19" y2="655.6" stroke="#222" stroke-width="1.1"/>
<text x="0" y="0" transform="translate(84.09 657.70) rotate(-45)" font-size="9.6" text-anchor="end" dominant-baseline="hanging" fill="#222">1995</text>
<line x1="114.27" y1="652.30" x2="114.27" y2="655.6" stroke="#222" stroke-width="1.1"/>
<text x="0" y="0" transform="translate(114.17 657.70) rotate(-45)" font-size="9.6" text-anchor="end" dominant-baseline="hanging" fill="#222">2000</text>
<line x1="144.36" y1="652.30" x2="144.36" y2="655.6" stroke="#222" stroke-width="1.1"/>
<text x="0" y="0" transform="translate(144.26 657.70) rotate(-45)" font-size="9.6" text-anchor="end" dominant-baseline="hanging" fill="#222">2005</text>
<line x1="174.44" y1="652.30" x2="174.44" y2="655.6" stroke="#222" stroke-width="1.1"/>
<text x="0" y="0" transform="translate(174.34 657.70) rotate(-45)" font-size="9.6" text-anchor="end" dominant-baseline="hanging" fill="#222">2010</text>
<line x1="204.53" y1="652.30" x2="204.53" y2="655.6" stroke="#222" stroke-width="1.1"/>
<text x="0" y="0" transform="translate(204.43 657.70) rotate(-45)" font-size="9.6" text-anchor="end" dominant-baseline="hanging" fill="#222">2015</text>
<line x1="234.61" y1="652.30" x2="234.61" y2="655.6" stroke="#222" stroke-width="1.1"/>
<text x="0" y="0" transform="translate(234.51 657.70) rotate(-45)" font-size="9.6" text-anchor="end" dominant-baseline="hanging" fill="#222">2020</text>
<line x1="264.40" y1="652.30" x2="264.40" y2="655.6" stroke="#222" stroke-width="1.1"/>
<text x="0" y="0" transform="translate(264.30 657.70) rotate(-45)" font-size="9.6" text-anchor="end" dominant-baseline="hanging" fill="#222">1990</text>
<line x1="294.48" y1="652.30" x2="294.48" y2="655.6" stroke="#222" stroke-width="1.1"/>
<text x="0" y="0" transform="translate(294.38 657.70) rotate(-45)" font-size="9.6" text-anchor="end" dominant-baseline="hanging" fill="#222">1995</text>
<line x1="324.57" y1="652.30" x2="324.57" y2="655.6" stroke="#222" stroke-width="1.1"/>
<text x="0" y="0" transform="translate(324.47 657.70) rotate(-45)" font-size="9.6" text-anchor="end" dominant-baseline="hanging" fill="#222">2000</text>
<line x1="354.65" y1="652.30" x2="354.65" y2="655.6" stroke="#222" stroke-width="1.1"/>
<text x="0" y="0" transform="translate(354.55 657.70) rotate(-45)" font-size="9.6" text-anchor="end" dominant-baseline="hanging" fill="#222">2005</text>
<line x1="384.74" y1="652.30" x2="384.74" y2="655.6" stroke="#222" stroke-width="1.1"/>
<text x="0" y="0" transform="translate(384.64 657.70) rotate(-45)" font-size="9.6" text-anchor="end" dominant-baseline="hanging" fill="#222">2010</text>
<line x1="414.82" y1="652.30" x2="414.82" y2="655.6" stroke="#222" stroke-width="1.1"/>
<text x="0" y="0" transform="translate(414.72 657.70) rotate(-45)" font-size="9.6" text-anchor="end" dominant-baseline="hanging" fill="#222">2015</text>
<line x1="444.91" y1="652.30" x2="444.91" y2="655.6" stroke="#222" stroke-width="1.1"/>
<text x="0" y="0" transform="translate(444.81 657.70) rotate(-45)" font-size="9.6" text-anchor="end" dominant-baseline="hanging" fill="#222">2020</text>
<line x1="474.50" y1="652.30" x2="474.50" y2="655.6" stroke="#222" stroke-width="1.1"/>
<text x="0" y="0" transform="translate(474.40 657.70) rotate(-45)" font-size="9.6" text-anchor="end" dominant-baseline="hanging" fill="#222">1990</text>
<line x1="504.58" y1="652.30" x2="504.58" y2="655.6" stroke="#222" stroke-width="1.1"/>
<text x="0" y="0" transform="translate(504.48 657.70) rotate(-45)" font-size="9.6" text-anchor="end" dominant-baseline="hanging" fill="#222">1995</text>
<line x1="534.67" y1="652.30" x2="534.67" y2="655.6" stroke="#222" stroke-width="1.1"/>
<text x="0" y="0" transform="translate(534.57 657.70) rotate(-45)" font-size="9.6" text-anchor="end" dominant-baseline="hanging" fill="#222">2000</text>
<line x1="564.75" y1="652.30" x2="564.75" y2="655.6" stroke="#222" stroke-width="1.1"/>
<text x="0" y="0" transform="translate(564.65 657.70) rotate(-45)" font-size="9.6" text-anchor="end" dominant-baseline="hanging" fill="#222">2005</text>
<line x1="594.84" y1="652.30" x2="594.84" y2="655.6" stroke="#222" stroke-width="1.1"/>
<text x="0" y="0" transform="translate(594.74 657.70) rotate(-45)" font-size="9.6" text-anchor="end" dominant-baseline="hanging" fill="#222">2010</text>
<line x1="624.92" y1="652.30" x2="624.92" y2="655.6" stroke="#222" stroke-width="1.1"/>
<text x="0" y="0" transform="translate(624.82 657.70) rotate(-45)" font-size="9.6" text-anchor="end" dominant-baseline="hanging" fill="#222">2015</text>
<line x1="655.01" y1="652.30" x2="655.01" y2="655.6" stroke="#222" stroke-width="1.1"/>
<text x="0" y="0" transform="translate(654.91 657.70) rotate(-45)" font-size="9.6" text-anchor="end" dominant-baseline="hanging" fill="#222">2020</text>
</svg>
</body></html>
